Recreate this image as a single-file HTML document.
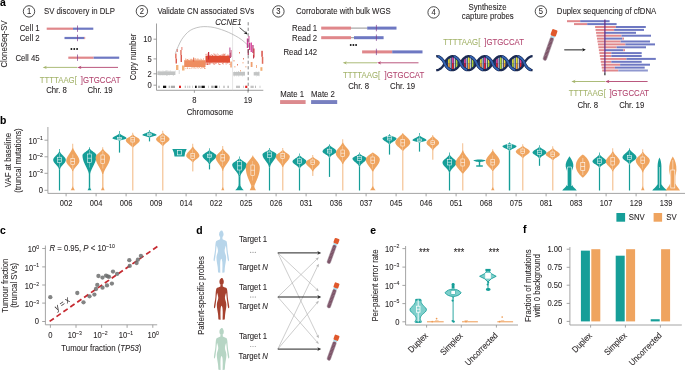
<!DOCTYPE html>
<html><head><meta charset="utf-8"><style>
html,body{margin:0;padding:0;background:#fff;}
svg{display:block;will-change:transform;}
text{font-family:"Liberation Sans",sans-serif;}
</style></head><body>
<svg width="685" height="370" viewBox="0 0 685 370">
<rect width="685" height="370" fill="#fff"/>
<text transform="translate(0.00,6.00) scale(1.0000,1)" font-size="10.40" fill="#000" stroke="#000" stroke-width="0.08" font-weight="bold">a</text>
<text transform="translate(7.20,44.00) rotate(-90) scale(0.8850,1)" font-size="8.81" text-anchor="middle" fill="#231F20" stroke="#231F20" stroke-width="0.08">CloneSeq-SV</text>
<circle cx="29.00" cy="11.40" r="5.7" fill="none" stroke="#111" stroke-width="0.75"/>
<text transform="translate(29.00,14.10) scale(0.8850,1)" font-size="8.59" text-anchor="middle" fill="#231F20" stroke="#231F20" stroke-width="0.08">1</text>
<text transform="translate(44.00,14.30) scale(0.8850,1)" font-size="8.81" fill="#231F20" stroke="#231F20" stroke-width="0.08">SV discovery in DLP</text>
<text transform="translate(39.60,31.20) scale(0.8850,1)" font-size="8.81" text-anchor="end" fill="#231F20" stroke="#231F20" stroke-width="0.08">Cell 1</text>
<text transform="translate(39.60,40.60) scale(0.8850,1)" font-size="8.81" text-anchor="end" fill="#231F20" stroke="#231F20" stroke-width="0.08">Cell 2</text>
<text transform="translate(39.60,60.60) scale(0.8850,1)" font-size="8.81" text-anchor="end" fill="#231F20" stroke="#231F20" stroke-width="0.08">Cell 45</text>
<rect x="46.70" y="27.60" width="26.30" height="2.20" fill="#E0878B"/>
<rect x="73.00" y="27.60" width="20.30" height="2.20" fill="#6E78C2"/>
<rect x="64.50" y="36.90" width="19.80" height="2.20" fill="#6E78C2"/>
<rect x="84.30" y="36.90" width="0.90" height="2.20" fill="#E0878B"/>
<rect x="68.30" y="56.60" width="25.30" height="2.20" fill="#E0878B"/>
<rect x="93.60" y="56.60" width="25.60" height="2.20" fill="#6E78C2"/>
<line x1="77.50" y1="25.50" x2="77.50" y2="31.90" stroke="#7B3C8C" stroke-width="0.7"/>
<line x1="77.50" y1="34.80" x2="77.50" y2="41.20" stroke="#7B3C8C" stroke-width="0.7"/>
<line x1="77.50" y1="54.50" x2="77.50" y2="60.90" stroke="#7B3C8C" stroke-width="0.7"/>
<circle cx="71.40" cy="49.00" r="0.95" fill="#111" stroke="none" stroke-width="1"/>
<circle cx="74.25" cy="49.00" r="0.95" fill="#111" stroke="none" stroke-width="1"/>
<circle cx="77.10" cy="49.00" r="0.95" fill="#111" stroke="none" stroke-width="1"/>
<line x1="45.22" y1="67.40" x2="77.30" y2="67.40" stroke="#A3B36A" stroke-width="0.9"/>
<path d="M42.70,67.40 L46.90,65.75 L45.64,67.40 L46.90,69.05 Z" fill="#A3B36A"/>
<line x1="79.82" y1="67.40" x2="118.00" y2="67.40" stroke="#B2456F" stroke-width="0.9"/>
<path d="M77.30,67.40 L81.50,65.75 L80.24,67.40 L81.50,69.05 Z" fill="#B2456F"/>
<text transform="translate(39.80,82.50) scale(0.8850,1)" font-size="8.81" fill="#A3B36A" stroke="#A3B36A" stroke-width="0.08">TTTTAAG[</text>
<text transform="translate(80.80,82.50) scale(0.8850,1)" font-size="8.81" fill="#B2456F" stroke="#B2456F" stroke-width="0.08">]GTGCCAT</text>
<text transform="translate(56.50,93.00) scale(0.8850,1)" font-size="8.81" text-anchor="middle" fill="#231F20" stroke="#231F20" stroke-width="0.08">Chr. 8</text>
<text transform="translate(100.00,93.00) scale(0.8850,1)" font-size="8.81" text-anchor="middle" fill="#231F20" stroke="#231F20" stroke-width="0.08">Chr. 19</text>
<circle cx="141.90" cy="11.20" r="5.7" fill="none" stroke="#111" stroke-width="0.75"/>
<text transform="translate(141.90,13.90) scale(0.8850,1)" font-size="8.59" text-anchor="middle" fill="#231F20" stroke="#231F20" stroke-width="0.08">2</text>
<text transform="translate(157.40,14.20) scale(0.8850,1)" font-size="8.81" fill="#231F20" stroke="#231F20" stroke-width="0.08">Validate CN associated SVs</text>
<text transform="translate(136.30,57.00) rotate(-90) scale(0.8850,1)" font-size="8.81" text-anchor="middle" fill="#231F20" stroke="#231F20" stroke-width="0.08">Copy number</text>
<line x1="156.50" y1="23.50" x2="156.50" y2="90.30" stroke="#888" stroke-width="0.8"/>
<line x1="156.50" y1="90.30" x2="263.30" y2="90.30" stroke="#888" stroke-width="0.8"/>
<line x1="153.50" y1="39.20" x2="156.50" y2="39.20" stroke="#888" stroke-width="0.8"/>
<text transform="translate(151.70,41.90) scale(0.8850,1)" font-size="8.59" text-anchor="end" fill="#231F20" stroke="#231F20" stroke-width="0.08">10</text>
<line x1="153.50" y1="58.90" x2="156.50" y2="58.90" stroke="#888" stroke-width="0.8"/>
<text transform="translate(151.70,61.60) scale(0.8850,1)" font-size="8.59" text-anchor="end" fill="#231F20" stroke="#231F20" stroke-width="0.08">5</text>
<line x1="153.50" y1="73.80" x2="156.50" y2="73.80" stroke="#888" stroke-width="0.8"/>
<text transform="translate(151.70,76.50) scale(0.8850,1)" font-size="8.59" text-anchor="end" fill="#231F20" stroke="#231F20" stroke-width="0.08">2</text>
<line x1="153.50" y1="85.20" x2="156.50" y2="85.20" stroke="#888" stroke-width="0.8"/>
<text transform="translate(151.70,87.90) scale(0.8850,1)" font-size="8.59" text-anchor="end" fill="#231F20" stroke="#231F20" stroke-width="0.08">0</text>
<line x1="194.40" y1="90.30" x2="194.40" y2="92.80" stroke="#888" stroke-width="0.8"/>
<text transform="translate(194.40,103.10) scale(0.8850,1)" font-size="8.59" text-anchor="middle" fill="#231F20" stroke="#231F20" stroke-width="0.08">8</text>
<line x1="248.00" y1="90.30" x2="248.00" y2="92.80" stroke="#888" stroke-width="0.8"/>
<text transform="translate(248.00,103.10) scale(0.8850,1)" font-size="8.59" text-anchor="middle" fill="#231F20" stroke="#231F20" stroke-width="0.08">19</text>
<text transform="translate(210.00,114.90) scale(0.8850,1)" font-size="8.81" text-anchor="middle" fill="#231F20" stroke="#231F20" stroke-width="0.08">Chromosome</text>
<line x1="232.60" y1="26.00" x2="232.60" y2="90.30" stroke="#d4d4d4" stroke-width="0.6"/>
<rect x="157.40" y="71.40" width="18.00" height="3.60" fill="#c2c4c4" opacity="1.0"/>
<rect x="163.23" y="70.72" width="0.60" height="0.80" fill="#c2c4c4" opacity="0.80"/>
<rect x="158.27" y="70.74" width="0.60" height="0.80" fill="#c2c4c4" opacity="0.80"/>
<rect x="158.44" y="70.97" width="0.60" height="0.80" fill="#c2c4c4" opacity="0.80"/>
<rect x="165.21" y="70.83" width="0.60" height="0.80" fill="#c2c4c4" opacity="0.80"/>
<rect x="167.32" y="70.42" width="0.60" height="0.80" fill="#c2c4c4" opacity="0.80"/>
<rect x="159.63" y="70.56" width="0.60" height="0.80" fill="#c2c4c4" opacity="0.80"/>
<rect x="167.89" y="70.60" width="0.60" height="0.80" fill="#c2c4c4" opacity="0.80"/>
<rect x="164.54" y="70.97" width="0.60" height="0.80" fill="#c2c4c4" opacity="0.80"/>
<rect x="172.85" y="74.89" width="0.60" height="0.80" fill="#c2c4c4" opacity="0.80"/>
<rect x="167.13" y="74.99" width="0.60" height="0.80" fill="#c2c4c4" opacity="0.80"/>
<rect x="169.68" y="70.59" width="0.60" height="0.80" fill="#c2c4c4" opacity="0.80"/>
<rect x="168.90" y="74.67" width="0.60" height="0.80" fill="#c2c4c4" opacity="0.80"/>
<rect x="170.22" y="70.57" width="0.60" height="0.80" fill="#c2c4c4" opacity="0.80"/>
<rect x="166.34" y="75.14" width="0.60" height="0.80" fill="#c2c4c4" opacity="0.80"/>
<rect x="165.78" y="74.85" width="0.60" height="0.80" fill="#c2c4c4" opacity="0.80"/>
<rect x="161.87" y="70.51" width="0.60" height="0.80" fill="#c2c4c4" opacity="0.80"/>
<rect x="161.79" y="74.97" width="0.60" height="0.80" fill="#c2c4c4" opacity="0.80"/>
<rect x="173.15" y="74.80" width="0.60" height="0.80" fill="#c2c4c4" opacity="0.80"/>
<rect x="175.04" y="70.64" width="0.60" height="0.80" fill="#c2c4c4" opacity="0.80"/>
<rect x="160.37" y="74.71" width="0.60" height="0.80" fill="#c2c4c4" opacity="0.80"/>
<rect x="166.20" y="70.33" width="0.60" height="0.80" fill="#c2c4c4" opacity="0.80"/>
<rect x="158.80" y="74.84" width="0.60" height="0.80" fill="#c2c4c4" opacity="0.80"/>
<rect x="163.70" y="75.01" width="0.60" height="0.80" fill="#c2c4c4" opacity="0.80"/>
<rect x="165.61" y="70.34" width="0.60" height="0.80" fill="#c2c4c4" opacity="0.80"/>
<rect x="165.93" y="70.96" width="0.60" height="0.80" fill="#c2c4c4" opacity="0.80"/>
<rect x="175.20" y="53.50" width="1.30" height="5.00" fill="#e0604c"/>
<rect x="175.60" y="58.50" width="1.30" height="5.00" fill="#d94a3c"/>
<rect x="180.30" y="50.00" width="1.30" height="5.00" fill="#e06a55"/>
<rect x="180.60" y="55.00" width="1.30" height="7.00" fill="#d84a3c"/>
<rect x="176.60" y="49.00" width="1.30" height="3.00" fill="#e88a80"/>
<rect x="181.20" y="47.00" width="1.30" height="3.00" fill="#ec9a90"/>
<rect x="176.00" y="65.00" width="2.40" height="5.00" fill="#f3b27a"/>
<rect x="182.00" y="65.50" width="2.50" height="5.00" fill="#f3b27a"/>
<rect x="178.80" y="70.00" width="0.70" height="4.00" fill="#c8c8c8"/>
<rect x="184.20" y="60.20" width="21.30" height="6.80" fill="#EE8D60" opacity="1.0"/>
<rect x="199.14" y="67.03" width="0.60" height="0.80" fill="#EE8D60" opacity="0.80"/>
<rect x="192.42" y="66.63" width="0.60" height="0.80" fill="#EE8D60" opacity="0.80"/>
<rect x="194.03" y="58.88" width="0.60" height="0.80" fill="#EE8D60" opacity="0.80"/>
<rect x="194.72" y="58.65" width="0.60" height="0.80" fill="#EE8D60" opacity="0.80"/>
<rect x="186.95" y="59.20" width="0.60" height="0.80" fill="#EE8D60" opacity="0.80"/>
<rect x="203.73" y="66.72" width="0.60" height="0.80" fill="#EE8D60" opacity="0.80"/>
<rect x="193.77" y="67.93" width="0.60" height="0.80" fill="#EE8D60" opacity="0.80"/>
<rect x="201.65" y="67.66" width="0.60" height="0.80" fill="#EE8D60" opacity="0.80"/>
<rect x="205.21" y="68.04" width="0.60" height="0.80" fill="#EE8D60" opacity="0.80"/>
<rect x="187.41" y="59.57" width="0.60" height="0.80" fill="#EE8D60" opacity="0.80"/>
<rect x="198.23" y="59.07" width="0.60" height="0.80" fill="#EE8D60" opacity="0.80"/>
<rect x="196.75" y="67.02" width="0.60" height="0.80" fill="#EE8D60" opacity="0.80"/>
<rect x="187.30" y="67.51" width="0.60" height="0.80" fill="#EE8D60" opacity="0.80"/>
<rect x="190.99" y="58.76" width="0.60" height="0.80" fill="#EE8D60" opacity="0.80"/>
<rect x="195.18" y="59.12" width="0.60" height="0.80" fill="#EE8D60" opacity="0.80"/>
<rect x="202.75" y="67.20" width="0.60" height="0.80" fill="#EE8D60" opacity="0.80"/>
<rect x="192.59" y="67.55" width="0.60" height="0.80" fill="#EE8D60" opacity="0.80"/>
<rect x="185.53" y="58.32" width="0.60" height="0.80" fill="#EE8D60" opacity="0.80"/>
<rect x="193.59" y="59.29" width="0.60" height="0.80" fill="#EE8D60" opacity="0.80"/>
<rect x="185.32" y="58.95" width="0.60" height="0.80" fill="#EE8D60" opacity="0.80"/>
<rect x="195.63" y="67.52" width="0.60" height="0.80" fill="#EE8D60" opacity="0.80"/>
<rect x="185.70" y="58.88" width="0.60" height="0.80" fill="#EE8D60" opacity="0.80"/>
<rect x="187.36" y="68.03" width="0.60" height="0.80" fill="#EE8D60" opacity="0.80"/>
<rect x="197.03" y="66.78" width="0.60" height="0.80" fill="#EE8D60" opacity="0.80"/>
<rect x="202.28" y="67.32" width="0.60" height="0.80" fill="#EE8D60" opacity="0.80"/>
<rect x="190.84" y="59.65" width="0.60" height="0.80" fill="#EE8D60" opacity="0.80"/>
<rect x="191.50" y="67.32" width="0.60" height="0.80" fill="#EE8D60" opacity="0.80"/>
<rect x="198.94" y="59.49" width="0.60" height="0.80" fill="#EE8D60" opacity="0.80"/>
<rect x="204.48" y="66.82" width="0.60" height="0.80" fill="#EE8D60" opacity="0.80"/>
<rect x="195.77" y="58.66" width="0.60" height="0.80" fill="#EE8D60" opacity="0.80"/>
<rect x="190.55" y="58.76" width="0.60" height="0.80" fill="#EE8D60" opacity="0.80"/>
<rect x="189.76" y="67.96" width="0.60" height="0.80" fill="#EE8D60" opacity="0.80"/>
<rect x="191.78" y="59.00" width="0.60" height="0.80" fill="#EE8D60" opacity="0.80"/>
<rect x="200.79" y="67.55" width="0.60" height="0.80" fill="#EE8D60" opacity="0.80"/>
<rect x="197.26" y="58.59" width="0.60" height="0.80" fill="#EE8D60" opacity="0.80"/>
<rect x="201.63" y="59.50" width="0.60" height="0.80" fill="#EE8D60" opacity="0.80"/>
<rect x="194.70" y="58.32" width="0.60" height="0.80" fill="#EE8D60" opacity="0.80"/>
<rect x="201.03" y="66.99" width="0.60" height="0.80" fill="#EE8D60" opacity="0.80"/>
<rect x="198.95" y="67.27" width="0.60" height="0.80" fill="#EE8D60" opacity="0.80"/>
<rect x="204.16" y="68.03" width="0.60" height="0.80" fill="#EE8D60" opacity="0.80"/>
<rect x="191.97" y="59.65" width="0.60" height="0.80" fill="#EE8D60" opacity="0.80"/>
<rect x="194.21" y="66.91" width="0.60" height="0.80" fill="#EE8D60" opacity="0.80"/>
<rect x="197.49" y="59.08" width="0.60" height="0.80" fill="#EE8D60" opacity="0.80"/>
<rect x="198.11" y="58.55" width="0.60" height="0.80" fill="#EE8D60" opacity="0.80"/>
<rect x="186.75" y="67.77" width="0.60" height="0.80" fill="#EE8D60" opacity="0.80"/>
<rect x="200.18" y="67.93" width="0.60" height="0.80" fill="#EE8D60" opacity="0.80"/>
<rect x="193.44" y="66.73" width="0.60" height="0.80" fill="#EE8D60" opacity="0.80"/>
<rect x="204.35" y="67.29" width="0.60" height="0.80" fill="#EE8D60" opacity="0.80"/>
<rect x="200.03" y="58.71" width="0.60" height="0.80" fill="#EE8D60" opacity="0.80"/>
<rect x="187.82" y="59.76" width="0.60" height="0.80" fill="#EE8D60" opacity="0.80"/>
<rect x="196.78" y="67.81" width="0.60" height="0.80" fill="#EE8D60" opacity="0.80"/>
<rect x="187.31" y="67.59" width="0.60" height="0.80" fill="#EE8D60" opacity="0.80"/>
<rect x="191.66" y="59.77" width="0.60" height="0.80" fill="#EE8D60" opacity="0.80"/>
<rect x="201.23" y="59.01" width="0.60" height="0.80" fill="#EE8D60" opacity="0.80"/>
<rect x="204.09" y="68.08" width="0.60" height="0.80" fill="#EE8D60" opacity="0.80"/>
<rect x="188.35" y="59.76" width="0.60" height="0.80" fill="#EE8D60" opacity="0.80"/>
<rect x="188.73" y="58.65" width="0.60" height="0.80" fill="#EE8D60" opacity="0.80"/>
<rect x="191.14" y="67.85" width="0.60" height="0.80" fill="#EE8D60" opacity="0.80"/>
<rect x="185.50" y="67.95" width="0.60" height="0.80" fill="#EE8D60" opacity="0.80"/>
<rect x="198.31" y="67.84" width="0.60" height="0.80" fill="#EE8D60" opacity="0.80"/>
<rect x="202.90" y="59.00" width="0.60" height="0.80" fill="#EE8D60" opacity="0.80"/>
<rect x="195.35" y="58.49" width="0.60" height="0.80" fill="#EE8D60" opacity="0.80"/>
<rect x="200.74" y="58.64" width="0.60" height="0.80" fill="#EE8D60" opacity="0.80"/>
<rect x="187.39" y="59.09" width="0.60" height="0.80" fill="#EE8D60" opacity="0.80"/>
<rect x="199.65" y="59.31" width="0.60" height="0.80" fill="#EE8D60" opacity="0.80"/>
<rect x="195.24" y="67.78" width="0.60" height="0.80" fill="#EE8D60" opacity="0.80"/>
<rect x="186.46" y="59.43" width="0.60" height="0.80" fill="#EE8D60" opacity="0.80"/>
<rect x="190.10" y="59.04" width="0.60" height="0.80" fill="#EE8D60" opacity="0.80"/>
<rect x="196.16" y="59.14" width="0.60" height="0.80" fill="#EE8D60" opacity="0.80"/>
<rect x="197.25" y="58.76" width="0.60" height="0.80" fill="#EE8D60" opacity="0.80"/>
<rect x="193.83" y="67.36" width="0.60" height="0.80" fill="#EE8D60" opacity="0.80"/>
<rect x="189.48" y="67.98" width="0.60" height="0.80" fill="#EE8D60" opacity="0.80"/>
<rect x="203.22" y="58.54" width="0.60" height="0.80" fill="#EE8D60" opacity="0.80"/>
<rect x="187.12" y="59.21" width="0.60" height="0.80" fill="#EE8D60" opacity="0.80"/>
<rect x="190.93" y="59.16" width="0.60" height="0.80" fill="#EE8D60" opacity="0.80"/>
<rect x="188.73" y="67.78" width="0.60" height="0.80" fill="#EE8D60" opacity="0.80"/>
<rect x="203.31" y="58.39" width="0.60" height="0.80" fill="#EE8D60" opacity="0.80"/>
<rect x="197.91" y="66.81" width="0.60" height="0.80" fill="#EE8D60" opacity="0.80"/>
<rect x="203.00" y="66.93" width="0.60" height="0.80" fill="#EE8D60" opacity="0.80"/>
<rect x="204.49" y="67.93" width="0.60" height="0.80" fill="#EE8D60" opacity="0.80"/>
<rect x="205.50" y="55.70" width="24.50" height="7.00" fill="#E04E34" opacity="1.0"/>
<rect x="209.49" y="55.01" width="0.60" height="0.80" fill="#E04E34" opacity="0.80"/>
<rect x="216.07" y="62.91" width="0.60" height="0.80" fill="#E04E34" opacity="0.80"/>
<rect x="210.30" y="62.47" width="0.60" height="0.80" fill="#E04E34" opacity="0.80"/>
<rect x="214.47" y="63.30" width="0.60" height="0.80" fill="#E04E34" opacity="0.80"/>
<rect x="216.29" y="54.61" width="0.60" height="0.80" fill="#E04E34" opacity="0.80"/>
<rect x="218.18" y="63.22" width="0.60" height="0.80" fill="#E04E34" opacity="0.80"/>
<rect x="207.08" y="53.55" width="0.60" height="0.80" fill="#E04E34" opacity="0.80"/>
<rect x="208.07" y="62.79" width="0.60" height="0.80" fill="#E04E34" opacity="0.80"/>
<rect x="227.69" y="54.81" width="0.60" height="0.80" fill="#E04E34" opacity="0.80"/>
<rect x="208.67" y="63.83" width="0.60" height="0.80" fill="#E04E34" opacity="0.80"/>
<rect x="222.06" y="63.03" width="0.60" height="0.80" fill="#E04E34" opacity="0.80"/>
<rect x="218.65" y="63.56" width="0.60" height="0.80" fill="#E04E34" opacity="0.80"/>
<rect x="207.69" y="53.86" width="0.60" height="0.80" fill="#E04E34" opacity="0.80"/>
<rect x="209.99" y="54.82" width="0.60" height="0.80" fill="#E04E34" opacity="0.80"/>
<rect x="205.91" y="53.86" width="0.60" height="0.80" fill="#E04E34" opacity="0.80"/>
<rect x="207.55" y="55.18" width="0.60" height="0.80" fill="#E04E34" opacity="0.80"/>
<rect x="226.64" y="62.32" width="0.60" height="0.80" fill="#E04E34" opacity="0.80"/>
<rect x="229.86" y="63.97" width="0.60" height="0.80" fill="#E04E34" opacity="0.80"/>
<rect x="212.06" y="55.22" width="0.60" height="0.80" fill="#E04E34" opacity="0.80"/>
<rect x="222.88" y="53.56" width="0.60" height="0.80" fill="#E04E34" opacity="0.80"/>
<rect x="211.92" y="54.94" width="0.60" height="0.80" fill="#E04E34" opacity="0.80"/>
<rect x="213.14" y="63.26" width="0.60" height="0.80" fill="#E04E34" opacity="0.80"/>
<rect x="210.54" y="63.20" width="0.60" height="0.80" fill="#E04E34" opacity="0.80"/>
<rect x="209.86" y="63.75" width="0.60" height="0.80" fill="#E04E34" opacity="0.80"/>
<rect x="229.87" y="55.27" width="0.60" height="0.80" fill="#E04E34" opacity="0.80"/>
<rect x="223.46" y="54.37" width="0.60" height="0.80" fill="#E04E34" opacity="0.80"/>
<rect x="211.52" y="62.49" width="0.60" height="0.80" fill="#E04E34" opacity="0.80"/>
<rect x="225.56" y="63.48" width="0.60" height="0.80" fill="#E04E34" opacity="0.80"/>
<rect x="218.87" y="64.05" width="0.60" height="0.80" fill="#E04E34" opacity="0.80"/>
<rect x="213.04" y="53.53" width="0.60" height="0.80" fill="#E04E34" opacity="0.80"/>
<rect x="213.90" y="54.57" width="0.60" height="0.80" fill="#E04E34" opacity="0.80"/>
<rect x="214.02" y="53.79" width="0.60" height="0.80" fill="#E04E34" opacity="0.80"/>
<rect x="205.85" y="63.08" width="0.60" height="0.80" fill="#E04E34" opacity="0.80"/>
<rect x="206.86" y="63.87" width="0.60" height="0.80" fill="#E04E34" opacity="0.80"/>
<rect x="221.93" y="63.38" width="0.60" height="0.80" fill="#E04E34" opacity="0.80"/>
<rect x="222.47" y="54.47" width="0.60" height="0.80" fill="#E04E34" opacity="0.80"/>
<rect x="209.36" y="62.31" width="0.60" height="0.80" fill="#E04E34" opacity="0.80"/>
<rect x="214.42" y="64.05" width="0.60" height="0.80" fill="#E04E34" opacity="0.80"/>
<rect x="218.90" y="55.24" width="0.60" height="0.80" fill="#E04E34" opacity="0.80"/>
<rect x="227.12" y="54.66" width="0.60" height="0.80" fill="#E04E34" opacity="0.80"/>
<rect x="205.53" y="62.45" width="0.60" height="0.80" fill="#E04E34" opacity="0.80"/>
<rect x="212.33" y="54.85" width="0.60" height="0.80" fill="#E04E34" opacity="0.80"/>
<rect x="224.52" y="54.82" width="0.60" height="0.80" fill="#E04E34" opacity="0.80"/>
<rect x="207.70" y="63.36" width="0.60" height="0.80" fill="#E04E34" opacity="0.80"/>
<rect x="215.15" y="62.85" width="0.60" height="0.80" fill="#E04E34" opacity="0.80"/>
<rect x="211.20" y="54.12" width="0.60" height="0.80" fill="#E04E34" opacity="0.80"/>
<rect x="223.04" y="63.68" width="0.60" height="0.80" fill="#E04E34" opacity="0.80"/>
<rect x="223.16" y="62.57" width="0.60" height="0.80" fill="#E04E34" opacity="0.80"/>
<rect x="223.24" y="55.22" width="0.60" height="0.80" fill="#E04E34" opacity="0.80"/>
<rect x="225.96" y="63.62" width="0.60" height="0.80" fill="#E04E34" opacity="0.80"/>
<rect x="225.40" y="53.66" width="0.60" height="0.80" fill="#E04E34" opacity="0.80"/>
<rect x="223.95" y="53.81" width="0.60" height="0.80" fill="#E04E34" opacity="0.80"/>
<rect x="219.81" y="55.15" width="0.60" height="0.80" fill="#E04E34" opacity="0.80"/>
<rect x="206.53" y="64.03" width="0.60" height="0.80" fill="#E04E34" opacity="0.80"/>
<rect x="214.73" y="63.31" width="0.60" height="0.80" fill="#E04E34" opacity="0.80"/>
<rect x="220.88" y="54.42" width="0.60" height="0.80" fill="#E04E34" opacity="0.80"/>
<rect x="205.58" y="53.95" width="0.60" height="0.80" fill="#E04E34" opacity="0.80"/>
<rect x="217.82" y="54.11" width="0.60" height="0.80" fill="#E04E34" opacity="0.80"/>
<rect x="207.12" y="62.75" width="0.60" height="0.80" fill="#E04E34" opacity="0.80"/>
<rect x="207.32" y="62.72" width="0.60" height="0.80" fill="#E04E34" opacity="0.80"/>
<rect x="224.03" y="53.97" width="0.60" height="0.80" fill="#E04E34" opacity="0.80"/>
<rect x="229.41" y="63.82" width="0.60" height="0.80" fill="#E04E34" opacity="0.80"/>
<rect x="207.38" y="63.68" width="0.60" height="0.80" fill="#E04E34" opacity="0.80"/>
<rect x="220.62" y="55.16" width="0.60" height="0.80" fill="#E04E34" opacity="0.80"/>
<rect x="209.11" y="63.47" width="0.60" height="0.80" fill="#E04E34" opacity="0.80"/>
<rect x="222.48" y="55.28" width="0.60" height="0.80" fill="#E04E34" opacity="0.80"/>
<rect x="206.99" y="64.05" width="0.60" height="0.80" fill="#E04E34" opacity="0.80"/>
<rect x="207.94" y="54.08" width="0.60" height="0.80" fill="#E04E34" opacity="0.80"/>
<rect x="212.63" y="63.14" width="0.60" height="0.80" fill="#E04E34" opacity="0.80"/>
<rect x="216.93" y="53.51" width="0.60" height="0.80" fill="#E04E34" opacity="0.80"/>
<rect x="218.95" y="64.06" width="0.60" height="0.80" fill="#E04E34" opacity="0.80"/>
<rect x="228.44" y="54.78" width="0.60" height="0.80" fill="#E04E34" opacity="0.80"/>
<rect x="207.37" y="64.09" width="0.60" height="0.80" fill="#E04E34" opacity="0.80"/>
<rect x="214.98" y="55.17" width="0.60" height="0.80" fill="#E04E34" opacity="0.80"/>
<rect x="207.71" y="64.01" width="0.60" height="0.80" fill="#E04E34" opacity="0.80"/>
<rect x="208.75" y="63.90" width="0.60" height="0.80" fill="#E04E34" opacity="0.80"/>
<rect x="222.73" y="54.40" width="0.60" height="0.80" fill="#E04E34" opacity="0.80"/>
<rect x="226.97" y="62.34" width="0.60" height="0.80" fill="#E04E34" opacity="0.80"/>
<rect x="205.59" y="63.53" width="0.60" height="0.80" fill="#E04E34" opacity="0.80"/>
<rect x="215.43" y="54.55" width="0.60" height="0.80" fill="#E04E34" opacity="0.80"/>
<rect x="214.71" y="53.79" width="0.60" height="0.80" fill="#E04E34" opacity="0.80"/>
<rect x="205.54" y="63.81" width="0.60" height="0.80" fill="#E04E34" opacity="0.80"/>
<rect x="208.44" y="54.02" width="0.60" height="0.80" fill="#E04E34" opacity="0.80"/>
<rect x="227.59" y="62.76" width="0.60" height="0.80" fill="#E04E34" opacity="0.80"/>
<rect x="207.09" y="64.10" width="0.60" height="0.80" fill="#E04E34" opacity="0.80"/>
<rect x="219.93" y="63.97" width="0.60" height="0.80" fill="#E04E34" opacity="0.80"/>
<rect x="224.01" y="54.79" width="0.60" height="0.80" fill="#E04E34" opacity="0.80"/>
<rect x="206.76" y="63.44" width="0.60" height="0.80" fill="#E04E34" opacity="0.80"/>
<rect x="209.15" y="63.09" width="0.60" height="0.80" fill="#E04E34" opacity="0.80"/>
<rect x="213.23" y="63.71" width="0.60" height="0.80" fill="#E04E34" opacity="0.80"/>
<rect x="208.00" y="52.00" width="1.20" height="7.50" fill="#c42a3a"/>
<rect x="193.20" y="57.50" width="0.90" height="4.00" fill="#e0603e"/>
<rect x="229.20" y="47.50" width="1.30" height="5.00" fill="#c870a8"/>
<rect x="229.40" y="52.50" width="1.60" height="5.50" fill="#b84a78"/>
<rect x="230.60" y="50.00" width="1.00" height="7.00" fill="#d06a8a"/>
<rect x="230.30" y="61.50" width="1.50" height="6.00" fill="#f2a070"/>
<rect x="233.60" y="60.00" width="0.80" height="1.50" fill="#e8804e"/>
<rect x="234.50" y="66.00" width="0.80" height="1.50" fill="#f0a070"/>
<rect x="237.00" y="64.00" width="0.80" height="1.50" fill="#e06040"/>
<rect x="240.00" y="70.00" width="0.80" height="1.50" fill="#f2a070"/>
<rect x="243.00" y="58.00" width="0.80" height="1.50" fill="#e06040"/>
<rect x="245.50" y="66.00" width="0.80" height="1.50" fill="#f0a070"/>
<rect x="239.00" y="52.00" width="0.80" height="1.50" fill="#e05a40"/>
<rect x="242.60" y="62.00" width="0.80" height="1.50" fill="#f2a070"/>
<rect x="233.20" y="72.00" width="11.80" height="3.60" fill="#c2c4c4" opacity="1.0"/>
<rect x="238.25" y="71.11" width="0.60" height="0.80" fill="#c2c4c4" opacity="0.80"/>
<rect x="240.64" y="71.17" width="0.60" height="0.80" fill="#c2c4c4" opacity="0.80"/>
<rect x="233.78" y="75.47" width="0.60" height="0.80" fill="#c2c4c4" opacity="0.80"/>
<rect x="242.08" y="75.49" width="0.60" height="0.80" fill="#c2c4c4" opacity="0.80"/>
<rect x="243.96" y="71.50" width="0.60" height="0.80" fill="#c2c4c4" opacity="0.80"/>
<rect x="238.10" y="75.38" width="0.60" height="0.80" fill="#c2c4c4" opacity="0.80"/>
<rect x="241.92" y="75.44" width="0.60" height="0.80" fill="#c2c4c4" opacity="0.80"/>
<rect x="236.02" y="75.53" width="0.60" height="0.80" fill="#c2c4c4" opacity="0.80"/>
<rect x="237.85" y="71.21" width="0.60" height="0.80" fill="#c2c4c4" opacity="0.80"/>
<rect x="234.09" y="75.53" width="0.60" height="0.80" fill="#c2c4c4" opacity="0.80"/>
<rect x="238.55" y="75.80" width="0.60" height="0.80" fill="#c2c4c4" opacity="0.80"/>
<rect x="238.51" y="71.27" width="0.60" height="0.80" fill="#c2c4c4" opacity="0.80"/>
<rect x="236.08" y="71.39" width="0.60" height="0.80" fill="#c2c4c4" opacity="0.80"/>
<rect x="234.27" y="71.38" width="0.60" height="0.80" fill="#c2c4c4" opacity="0.80"/>
<rect x="242.75" y="71.07" width="0.60" height="0.80" fill="#c2c4c4" opacity="0.80"/>
<rect x="253.70" y="72.10" width="5.80" height="3.40" fill="#c2c4c4" opacity="1.0"/>
<rect x="258.05" y="75.33" width="0.60" height="0.80" fill="#c2c4c4" opacity="0.80"/>
<rect x="258.03" y="71.47" width="0.60" height="0.80" fill="#c2c4c4" opacity="0.80"/>
<rect x="255.66" y="71.40" width="0.60" height="0.80" fill="#c2c4c4" opacity="0.80"/>
<rect x="257.03" y="75.18" width="0.60" height="0.80" fill="#c2c4c4" opacity="0.80"/>
<rect x="256.62" y="71.64" width="0.60" height="0.80" fill="#c2c4c4" opacity="0.80"/>
<rect x="258.90" y="75.34" width="0.60" height="0.80" fill="#c2c4c4" opacity="0.80"/>
<rect x="256.29" y="75.61" width="0.60" height="0.80" fill="#c2c4c4" opacity="0.80"/>
<rect x="258.76" y="71.62" width="0.60" height="0.80" fill="#c2c4c4" opacity="0.80"/>
<rect x="246.80" y="38.50" width="1.30" height="9.50" fill="#d2409a"/>
<rect x="248.30" y="36.00" width="1.30" height="8.00" fill="#e070b0"/>
<rect x="249.00" y="43.00" width="1.30" height="7.00" fill="#c83a8a"/>
<rect x="250.60" y="42.50" width="1.30" height="9.50" fill="#d83c9a"/>
<rect x="252.30" y="45.00" width="1.30" height="8.00" fill="#b8407a"/>
<rect x="247.60" y="49.00" width="1.30" height="6.00" fill="#a84060"/>
<rect x="250.70" y="62.00" width="1.80" height="5.00" fill="#f0a070"/>
<rect x="253.00" y="55.00" width="1.00" height="3.50" fill="#c0405a"/>
<rect x="261.30" y="50.80" width="1.50" height="6.00" fill="#d85048"/>
<rect x="261.80" y="56.80" width="1.50" height="7.00" fill="#e06a5a"/>
<rect x="253.30" y="48.50" width="1.20" height="9.00" fill="#c8303a"/>
<rect x="260.40" y="67.20" width="2.00" height="3.60" fill="#f2ae72"/>
<rect x="256.00" y="65.00" width="0.80" height="3.00" fill="#f0a070"/>
<path d="M175.30,53.50 C175.78,52.33 177.13,48.83 178.20,46.50 C179.27,44.17 180.15,41.83 181.70,39.50 C183.25,37.17 185.55,34.28 187.50,32.50 C189.45,30.72 191.25,29.73 193.40,28.80 C195.55,27.87 198.07,27.25 200.40,26.90 C202.73,26.55 205.07,26.58 207.40,26.70 C209.73,26.82 212.07,27.12 214.40,27.60 C216.73,28.08 219.07,28.82 221.40,29.60 C223.73,30.38 226.07,31.27 228.40,32.30 C230.73,33.33 233.25,34.60 235.40,35.80 C237.55,37.00 239.35,38.07 241.30,39.50 C243.25,40.93 246.13,43.58 247.10,44.40" fill="none" stroke="#a0a0a0" stroke-width="0.65"/>
<line x1="248.2" y1="22.2" x2="248.2" y2="92" stroke="#555" stroke-width="0.7" stroke-dasharray="3.2,2.3"/>
<line x1="239.60" y1="27.60" x2="245.57" y2="32.68" stroke="#111" stroke-width="0.75"/>
<path d="M247.60,34.40 L243.60,33.23 L245.57,32.68 L245.81,30.64 Z" fill="#111"/>
<text transform="translate(241.60,25.00) scale(0.8850,1)" font-size="8.81" text-anchor="end" fill="#231F20" stroke="#231F20" stroke-width="0.08" font-style="italic">CCNE1</text>
<rect x="158.20" y="85.70" width="1.60" height="2.30" fill="#b4b4b4"/>
<rect x="163.00" y="85.70" width="3.20" height="2.30" fill="#111"/>
<rect x="168.60" y="85.70" width="1.60" height="2.30" fill="#bbb"/>
<rect x="171.00" y="85.70" width="4.00" height="2.30" fill="#aaa"/>
<rect x="179.00" y="85.70" width="2.00" height="2.30" fill="#e02020"/>
<rect x="184.70" y="85.70" width="1.30" height="2.30" fill="#c4c4c4"/>
<rect x="187.30" y="85.70" width="1.00" height="2.30" fill="#c4c4c4"/>
<rect x="189.20" y="85.70" width="1.10" height="2.30" fill="#c4c4c4"/>
<rect x="192.00" y="85.70" width="0.80" height="2.30" fill="#c4c4c4"/>
<rect x="195.00" y="85.70" width="1.70" height="2.30" fill="#111"/>
<rect x="198.00" y="85.70" width="2.70" height="2.30" fill="#999"/>
<rect x="201.50" y="85.70" width="3.30" height="2.30" fill="#111"/>
<rect x="208.00" y="85.70" width="0.80" height="2.30" fill="#c4c4c4"/>
<rect x="211.20" y="85.70" width="2.40" height="2.30" fill="#aaa"/>
<rect x="214.70" y="85.70" width="2.60" height="2.30" fill="#111"/>
<rect x="219.20" y="85.70" width="0.80" height="2.30" fill="#c4c4c4"/>
<rect x="223.20" y="85.70" width="1.60" height="2.30" fill="#c4c4c4"/>
<rect x="227.60" y="85.70" width="1.00" height="2.30" fill="#999"/>
<rect x="236.00" y="85.70" width="4.00" height="2.30" fill="#c4c4c4"/>
<rect x="243.00" y="85.70" width="0.80" height="2.30" fill="#c4c4c4"/>
<rect x="245.20" y="85.70" width="2.10" height="2.30" fill="#e02020"/>
<rect x="250.50" y="85.70" width="3.20" height="2.30" fill="#c4c4c4"/>
<rect x="255.00" y="85.70" width="1.00" height="2.30" fill="#bbb"/>
<rect x="259.60" y="85.70" width="0.80" height="2.30" fill="#c4c4c4"/>
<circle cx="278.40" cy="11.40" r="5.7" fill="none" stroke="#111" stroke-width="0.75"/>
<text transform="translate(278.40,14.10) scale(0.8850,1)" font-size="8.59" text-anchor="middle" fill="#231F20" stroke="#231F20" stroke-width="0.08">3</text>
<text transform="translate(296.00,14.30) scale(0.8850,1)" font-size="8.81" fill="#231F20" stroke="#231F20" stroke-width="0.08">Corroborate with bulk WGS</text>
<text transform="translate(317.20,31.00) scale(0.8850,1)" font-size="8.81" text-anchor="end" fill="#231F20" stroke="#231F20" stroke-width="0.08">Read 1</text>
<text transform="translate(317.20,40.80) scale(0.8850,1)" font-size="8.81" text-anchor="end" fill="#231F20" stroke="#231F20" stroke-width="0.08">Read 2</text>
<text transform="translate(317.20,55.30) scale(0.8850,1)" font-size="8.81" text-anchor="end" fill="#231F20" stroke="#231F20" stroke-width="0.08">Read 142</text>
<rect x="321.20" y="26.60" width="29.80" height="3.00" fill="#E0878B"/>
<line x1="351.00" y1="28.10" x2="367.20" y2="28.10" stroke="#777" stroke-width="0.8"/>
<rect x="367.20" y="26.60" width="29.30" height="3.00" fill="#6E78C2"/>
<rect x="321.20" y="36.20" width="29.80" height="3.00" fill="#E0878B"/>
<line x1="351.00" y1="37.70" x2="354.00" y2="37.70" stroke="#777" stroke-width="0.8"/>
<rect x="354.00" y="36.20" width="29.60" height="3.00" fill="#6E78C2"/>
<rect x="362.10" y="50.40" width="30.10" height="3.00" fill="#E0878B"/>
<rect x="392.20" y="50.40" width="30.30" height="3.00" fill="#6E78C2"/>
<line x1="376.40" y1="24.90" x2="376.40" y2="31.30" stroke="#7B3C8C" stroke-width="0.7"/>
<line x1="376.40" y1="34.50" x2="376.40" y2="40.90" stroke="#7B3C8C" stroke-width="0.7"/>
<line x1="376.40" y1="48.70" x2="376.40" y2="55.10" stroke="#7B3C8C" stroke-width="0.7"/>
<circle cx="350.70" cy="45.00" r="0.95" fill="#111" stroke="none" stroke-width="1"/>
<circle cx="353.40" cy="45.00" r="0.95" fill="#111" stroke="none" stroke-width="1"/>
<circle cx="356.10" cy="45.00" r="0.95" fill="#111" stroke="none" stroke-width="1"/>
<line x1="345.22" y1="62.80" x2="377.00" y2="62.80" stroke="#A3B36A" stroke-width="0.9"/>
<path d="M342.70,62.80 L346.90,61.15 L345.64,62.80 L346.90,64.45 Z" fill="#A3B36A"/>
<line x1="379.52" y1="62.80" x2="418.50" y2="62.80" stroke="#B2456F" stroke-width="0.9"/>
<path d="M377.00,62.80 L381.20,61.15 L379.94,62.80 L381.20,64.45 Z" fill="#B2456F"/>
<text transform="translate(343.10,77.70) scale(0.8850,1)" font-size="8.81" fill="#A3B36A" stroke="#A3B36A" stroke-width="0.08">TTTTAAG[</text>
<text transform="translate(384.60,77.70) scale(0.8850,1)" font-size="8.81" fill="#B2456F" stroke="#B2456F" stroke-width="0.08">]GTGCCAT</text>
<text transform="translate(358.60,89.30) scale(0.8850,1)" font-size="8.81" text-anchor="middle" fill="#231F20" stroke="#231F20" stroke-width="0.08">Chr. 8</text>
<text transform="translate(402.60,89.30) scale(0.8850,1)" font-size="8.81" text-anchor="middle" fill="#231F20" stroke="#231F20" stroke-width="0.08">Chr. 19</text>
<text transform="translate(280.30,96.60) scale(0.8850,1)" font-size="8.81" fill="#231F20" stroke="#231F20" stroke-width="0.08">Mate 1</text>
<text transform="translate(311.10,96.60) scale(0.8850,1)" font-size="8.81" fill="#231F20" stroke="#231F20" stroke-width="0.08">Mate 2</text>
<rect x="280.10" y="100.10" width="25.50" height="3.90" fill="#DC8A8E"/>
<rect x="311.10" y="100.10" width="26.10" height="3.90" fill="#7880C0"/>
<circle cx="433.60" cy="12.40" r="5.7" fill="none" stroke="#111" stroke-width="0.75"/>
<text transform="translate(433.60,15.10) scale(0.8850,1)" font-size="8.59" text-anchor="middle" fill="#231F20" stroke="#231F20" stroke-width="0.08">4</text>
<text transform="translate(487.50,9.70) scale(0.8850,1)" font-size="8.81" text-anchor="middle" fill="#231F20" stroke="#231F20" stroke-width="0.08">Synthesize</text>
<text transform="translate(487.80,18.50) scale(0.8850,1)" font-size="8.81" text-anchor="middle" fill="#231F20" stroke="#231F20" stroke-width="0.08">capture probes</text>
<text transform="translate(443.30,44.80) scale(0.8850,1)" font-size="8.81" fill="#A3B36A" stroke="#A3B36A" stroke-width="0.08">TTTTAAG[</text>
<text transform="translate(484.30,44.80) scale(0.8850,1)" font-size="8.81" fill="#B2456F" stroke="#B2456F" stroke-width="0.08">]GTGCCAT</text>
<path d="M444.50,63.20 L444.90,64.24 L445.30,64.94 L445.70,65.55 L446.10,66.10 L446.50,66.61 L446.90,67.07 L447.30,67.50 L447.70,67.90 L448.10,68.26 L448.50,68.60 L448.90,68.90 L449.30,69.17 L449.70,69.41 L450.10,69.62 L450.50,69.80 L450.90,69.94 L451.30,70.05 L451.70,70.14 L452.10,70.18 L452.50,70.20 L452.90,70.18 L453.30,70.14 L453.70,70.05 L454.10,69.94 L454.50,69.80 L454.90,69.62 L455.30,69.41 L455.70,69.17 L456.10,68.90 L456.50,68.60 L456.90,68.26 L457.30,67.90 L457.70,67.50 L458.10,67.07 L458.50,66.61 L458.90,66.10 L459.30,65.55 L459.70,64.94 L460.10,64.24 L460.50,63.20 L460.50,63.20 L460.10,62.16 L459.70,61.46 L459.30,60.85 L458.90,60.30 L458.50,59.79 L458.10,59.33 L457.70,58.90 L457.30,58.50 L456.90,58.14 L456.50,57.80 L456.10,57.50 L455.70,57.23 L455.30,56.99 L454.90,56.78 L454.50,56.60 L454.10,56.46 L453.70,56.35 L453.30,56.26 L452.90,56.22 L452.50,56.20 L452.10,56.22 L451.70,56.26 L451.30,56.35 L450.90,56.46 L450.50,56.60 L450.10,56.78 L449.70,56.99 L449.30,57.23 L448.90,57.50 L448.50,57.80 L448.10,58.14 L447.70,58.50 L447.30,58.90 L446.90,59.33 L446.50,59.79 L446.10,60.30 L445.70,60.85 L445.30,61.46 L444.90,62.16 L444.50,63.20 Z" fill="#223A6E"/>
<path d="M460.50,63.20 L460.90,62.16 L461.30,61.46 L461.70,60.85 L462.10,60.30 L462.50,59.79 L462.90,59.33 L463.30,58.90 L463.70,58.50 L464.10,58.14 L464.50,57.80 L464.90,57.50 L465.30,57.23 L465.70,56.99 L466.10,56.78 L466.50,56.60 L466.90,56.46 L467.30,56.35 L467.70,56.26 L468.10,56.22 L468.50,56.20 L468.90,56.22 L469.30,56.26 L469.70,56.35 L470.10,56.46 L470.50,56.60 L470.90,56.78 L471.30,56.99 L471.70,57.23 L472.10,57.50 L472.50,57.80 L472.90,58.14 L473.30,58.50 L473.70,58.90 L474.10,59.33 L474.50,59.79 L474.90,60.30 L475.30,60.85 L475.70,61.46 L476.10,62.16 L476.50,63.20 L476.50,63.20 L476.10,64.24 L475.70,64.94 L475.30,65.55 L474.90,66.10 L474.50,66.61 L474.10,67.07 L473.70,67.50 L473.30,67.90 L472.90,68.26 L472.50,68.60 L472.10,68.90 L471.70,69.17 L471.30,69.41 L470.90,69.62 L470.50,69.80 L470.10,69.94 L469.70,70.05 L469.30,70.14 L468.90,70.18 L468.50,70.20 L468.10,70.18 L467.70,70.14 L467.30,70.05 L466.90,69.94 L466.50,69.80 L466.10,69.62 L465.70,69.41 L465.30,69.17 L464.90,68.90 L464.50,68.60 L464.10,68.26 L463.70,67.90 L463.30,67.50 L462.90,67.07 L462.50,66.61 L462.10,66.10 L461.70,65.55 L461.30,64.94 L460.90,64.24 L460.50,63.20 Z" fill="#223A6E"/>
<path d="M476.50,63.20 L476.90,64.24 L477.30,64.94 L477.70,65.55 L478.10,66.10 L478.50,66.61 L478.90,67.07 L479.30,67.50 L479.70,67.90 L480.10,68.26 L480.50,68.60 L480.90,68.90 L481.30,69.17 L481.70,69.41 L482.10,69.62 L482.50,69.80 L482.90,69.94 L483.30,70.05 L483.70,70.14 L484.10,70.18 L484.50,70.20 L484.90,70.18 L485.30,70.14 L485.70,70.05 L486.10,69.94 L486.50,69.80 L486.90,69.62 L487.30,69.41 L487.70,69.17 L488.10,68.90 L488.50,68.60 L488.90,68.26 L489.30,67.90 L489.70,67.50 L490.10,67.07 L490.50,66.61 L490.90,66.10 L491.30,65.55 L491.70,64.94 L492.10,64.24 L492.50,63.20 L492.50,63.20 L492.10,62.16 L491.70,61.46 L491.30,60.85 L490.90,60.30 L490.50,59.79 L490.10,59.33 L489.70,58.90 L489.30,58.50 L488.90,58.14 L488.50,57.80 L488.10,57.50 L487.70,57.23 L487.30,56.99 L486.90,56.78 L486.50,56.60 L486.10,56.46 L485.70,56.35 L485.30,56.26 L484.90,56.22 L484.50,56.20 L484.10,56.22 L483.70,56.26 L483.30,56.35 L482.90,56.46 L482.50,56.60 L482.10,56.78 L481.70,56.99 L481.30,57.23 L480.90,57.50 L480.50,57.80 L480.10,58.14 L479.70,58.50 L479.30,58.90 L478.90,59.33 L478.50,59.79 L478.10,60.30 L477.70,60.85 L477.30,61.46 L476.90,62.16 L476.50,63.20 Z" fill="#223A6E"/>
<path d="M492.50,63.20 L492.90,62.16 L493.30,61.46 L493.70,60.85 L494.10,60.30 L494.50,59.79 L494.90,59.33 L495.30,58.90 L495.70,58.50 L496.10,58.14 L496.50,57.80 L496.90,57.50 L497.30,57.23 L497.70,56.99 L498.10,56.78 L498.50,56.60 L498.90,56.46 L499.30,56.35 L499.70,56.26 L500.10,56.22 L500.50,56.20 L500.90,56.22 L501.30,56.26 L501.70,56.35 L502.10,56.46 L502.50,56.60 L502.90,56.78 L503.30,56.99 L503.70,57.23 L504.10,57.50 L504.50,57.80 L504.90,58.14 L505.30,58.50 L505.70,58.90 L506.10,59.33 L506.50,59.79 L506.90,60.30 L507.30,60.85 L507.70,61.46 L508.10,62.16 L508.50,63.20 L508.50,63.20 L508.10,64.24 L507.70,64.94 L507.30,65.55 L506.90,66.10 L506.50,66.61 L506.10,67.07 L505.70,67.50 L505.30,67.90 L504.90,68.26 L504.50,68.60 L504.10,68.90 L503.70,69.17 L503.30,69.41 L502.90,69.62 L502.50,69.80 L502.10,69.94 L501.70,70.05 L501.30,70.14 L500.90,70.18 L500.50,70.20 L500.10,70.18 L499.70,70.14 L499.30,70.05 L498.90,69.94 L498.50,69.80 L498.10,69.62 L497.70,69.41 L497.30,69.17 L496.90,68.90 L496.50,68.60 L496.10,68.26 L495.70,67.90 L495.30,67.50 L494.90,67.07 L494.50,66.61 L494.10,66.10 L493.70,65.55 L493.30,64.94 L492.90,64.24 L492.50,63.20 Z" fill="#223A6E"/>
<path d="M508.50,63.20 L508.90,64.24 L509.30,64.94 L509.70,65.55 L510.10,66.10 L510.50,66.61 L510.90,67.07 L511.30,67.50 L511.70,67.90 L512.10,68.26 L512.50,68.60 L512.90,68.90 L513.30,69.17 L513.70,69.41 L514.10,69.62 L514.50,69.80 L514.90,69.94 L515.30,70.05 L515.70,70.14 L516.10,70.18 L516.50,70.20 L516.90,70.18 L517.30,70.14 L517.70,70.05 L518.10,69.94 L518.50,69.80 L518.90,69.62 L519.30,69.41 L519.70,69.17 L520.10,68.90 L520.50,68.60 L520.90,68.26 L521.30,67.90 L521.70,67.50 L522.10,67.07 L522.50,66.61 L522.90,66.10 L523.30,65.55 L523.70,64.94 L524.10,64.24 L524.50,63.20 L524.50,63.20 L524.10,62.16 L523.70,61.46 L523.30,60.85 L522.90,60.30 L522.50,59.79 L522.10,59.33 L521.70,58.90 L521.30,58.50 L520.90,58.14 L520.50,57.80 L520.10,57.50 L519.70,57.23 L519.30,56.99 L518.90,56.78 L518.50,56.60 L518.10,56.46 L517.70,56.35 L517.30,56.26 L516.90,56.22 L516.50,56.20 L516.10,56.22 L515.70,56.26 L515.30,56.35 L514.90,56.46 L514.50,56.60 L514.10,56.78 L513.70,56.99 L513.30,57.23 L512.90,57.50 L512.50,57.80 L512.10,58.14 L511.70,58.50 L511.30,58.90 L510.90,59.33 L510.50,59.79 L510.10,60.30 L509.70,60.85 L509.30,61.46 L508.90,62.16 L508.50,63.20 Z" fill="#223A6E"/>
<rect x="448.10" y="58.50" width="1.60" height="4.70" fill="#E6E236"/>
<rect x="448.10" y="63.20" width="1.60" height="4.70" fill="#F2A22E"/>
<rect x="450.35" y="57.49" width="0.90" height="5.71" fill="#e2e2e2"/>
<rect x="450.35" y="63.20" width="0.90" height="5.71" fill="#e2e2e2"/>
<rect x="452.00" y="57.21" width="1.60" height="5.99" fill="#E0419A"/>
<rect x="452.00" y="63.20" width="1.60" height="5.99" fill="#E3222E"/>
<rect x="454.15" y="57.64" width="0.90" height="5.56" fill="#e2e2e2"/>
<rect x="454.15" y="63.20" width="0.90" height="5.56" fill="#e2e2e2"/>
<rect x="455.80" y="58.88" width="1.60" height="4.32" fill="#B3D236"/>
<rect x="455.80" y="63.20" width="1.60" height="4.32" fill="#B3D236"/>
<rect x="464.10" y="58.50" width="1.60" height="4.70" fill="#E0419A"/>
<rect x="464.10" y="63.20" width="1.60" height="4.70" fill="#C02030"/>
<rect x="466.35" y="57.49" width="0.90" height="5.71" fill="#e2e2e2"/>
<rect x="466.35" y="63.20" width="0.90" height="5.71" fill="#e2e2e2"/>
<rect x="468.00" y="57.21" width="1.60" height="5.99" fill="#E6E236"/>
<rect x="468.00" y="63.20" width="1.60" height="5.99" fill="#F2A22E"/>
<rect x="470.15" y="57.64" width="0.90" height="5.56" fill="#e2e2e2"/>
<rect x="470.15" y="63.20" width="0.90" height="5.56" fill="#e2e2e2"/>
<rect x="471.80" y="58.88" width="1.60" height="4.32" fill="#B3D236"/>
<rect x="471.80" y="63.20" width="1.60" height="4.32" fill="#B3D236"/>
<rect x="480.10" y="58.50" width="1.60" height="4.70" fill="#E6E236"/>
<rect x="480.10" y="63.20" width="1.60" height="4.70" fill="#F2A22E"/>
<rect x="482.35" y="57.49" width="0.90" height="5.71" fill="#e2e2e2"/>
<rect x="482.35" y="63.20" width="0.90" height="5.71" fill="#e2e2e2"/>
<rect x="484.00" y="57.21" width="1.60" height="5.99" fill="#E0419A"/>
<rect x="484.00" y="63.20" width="1.60" height="5.99" fill="#E3222E"/>
<rect x="486.15" y="57.64" width="0.90" height="5.56" fill="#e2e2e2"/>
<rect x="486.15" y="63.20" width="0.90" height="5.56" fill="#e2e2e2"/>
<rect x="487.80" y="58.88" width="1.60" height="4.32" fill="#E6E236"/>
<rect x="487.80" y="63.20" width="1.60" height="4.32" fill="#B3D236"/>
<rect x="496.10" y="58.50" width="1.60" height="4.70" fill="#E0419A"/>
<rect x="496.10" y="63.20" width="1.60" height="4.70" fill="#E3222E"/>
<rect x="498.35" y="57.49" width="0.90" height="5.71" fill="#e2e2e2"/>
<rect x="498.35" y="63.20" width="0.90" height="5.71" fill="#e2e2e2"/>
<rect x="500.00" y="57.21" width="1.60" height="5.99" fill="#B3D236"/>
<rect x="500.00" y="63.20" width="1.60" height="5.99" fill="#B3D236"/>
<rect x="502.15" y="57.64" width="0.90" height="5.56" fill="#e2e2e2"/>
<rect x="502.15" y="63.20" width="0.90" height="5.56" fill="#e2e2e2"/>
<rect x="503.80" y="58.88" width="1.60" height="4.32" fill="#E6E236"/>
<rect x="503.80" y="63.20" width="1.60" height="4.32" fill="#F2A22E"/>
<rect x="512.10" y="58.50" width="1.60" height="4.70" fill="#E6E236"/>
<rect x="512.10" y="63.20" width="1.60" height="4.70" fill="#B3D236"/>
<rect x="514.35" y="57.49" width="0.90" height="5.71" fill="#e2e2e2"/>
<rect x="514.35" y="63.20" width="0.90" height="5.71" fill="#e2e2e2"/>
<rect x="516.00" y="57.21" width="1.60" height="5.99" fill="#E6E236"/>
<rect x="516.00" y="63.20" width="1.60" height="5.99" fill="#F2A22E"/>
<rect x="518.15" y="57.64" width="0.90" height="5.56" fill="#e2e2e2"/>
<rect x="518.15" y="63.20" width="0.90" height="5.56" fill="#e2e2e2"/>
<rect x="519.80" y="58.88" width="1.60" height="4.32" fill="#E0419A"/>
<rect x="519.80" y="63.20" width="1.60" height="4.32" fill="#E3222E"/>
<polyline points="436.20,56.21 436.60,56.20 437.00,56.23 437.40,56.28 437.81,56.37 438.21,56.49 438.61,56.65 439.01,56.84 439.41,57.05 439.81,57.30 440.22,57.58 440.62,57.90 441.02,58.24 441.42,58.62 441.82,59.03 442.22,59.47 442.63,59.95 443.03,60.47 443.43,61.04 443.83,61.68 444.23,62.43 444.63,63.66 445.04,64.49 445.44,65.16 445.84,65.75 446.24,66.28 446.64,66.78 447.05,67.23 447.45,67.65 447.85,68.04 448.25,68.39 448.65,68.72 449.05,69.01 449.45,69.27 449.86,69.50 450.26,69.69 450.66,69.86 451.06,69.99 451.46,70.09 451.87,70.16 452.27,70.19 452.67,70.20 453.07,70.17 453.47,70.10 453.87,70.01 454.27,69.88 454.68,69.72 455.08,69.53 455.48,69.31 455.88,69.05 456.28,68.77 456.69,68.45 457.09,68.10 457.49,67.72 457.89,67.30 458.29,66.85 458.69,66.37 459.09,65.84 459.50,65.26 459.90,64.61 460.30,63.82 460.70,62.58 461.10,61.79 461.50,61.14 461.91,60.56 462.31,60.03 462.71,59.55 463.11,59.10 463.51,58.68 463.92,58.30 464.32,57.95 464.72,57.63 465.12,57.35 465.52,57.09 465.92,56.87 466.32,56.68 466.73,56.52 467.13,56.39 467.53,56.30 467.93,56.23 468.33,56.20 468.74,56.21 469.14,56.24 469.54,56.31 469.94,56.41 470.34,56.54 470.74,56.71 471.14,56.90 471.55,57.13 471.95,57.39 472.35,57.69 472.75,58.01 473.15,58.36 473.56,58.75 473.96,59.17 474.36,59.62 474.76,60.12 475.16,60.65 475.56,61.24 475.97,61.91 476.37,62.74 476.77,63.97 477.17,64.73 477.57,65.36 477.97,65.93 478.38,66.45 478.78,66.93 479.18,67.37 479.58,67.78 479.98,68.16 480.38,68.50 480.79,68.82 481.19,69.10 481.59,69.35 481.99,69.57 482.39,69.75 482.79,69.91 483.19,70.03 483.60,70.12 484.00,70.17 484.40,70.20 484.80,70.19 485.20,70.15 485.61,70.08 486.01,69.97 486.41,69.83 486.81,69.66 487.21,69.46 487.61,69.23 488.01,68.96 488.42,68.66 488.82,68.33 489.22,67.97 489.62,67.58 490.02,67.16 490.43,66.70 490.83,66.20 491.23,65.65 491.63,65.05 492.03,64.37 492.43,63.47 492.84,62.29 493.24,61.56 493.64,60.94 494.04,60.38 494.44,59.87 494.84,59.39 495.25,58.96 495.65,58.55 496.05,58.18 496.45,57.84 496.85,57.53 497.25,57.26 497.66,57.01 498.06,56.80 498.46,56.62 498.86,56.47 499.26,56.36 499.66,56.27 500.06,56.22 500.47,56.20 500.87,56.21 501.27,56.26 501.67,56.34 502.07,56.45 502.48,56.59 502.88,56.77 503.28,56.98 503.68,57.22 504.08,57.49 504.48,57.79 504.88,58.12 505.29,58.49 505.69,58.89 506.09,59.32 506.49,59.78 506.89,60.29 507.30,60.84 507.70,61.45 508.10,62.16 508.50,63.20 508.90,64.24 509.30,64.95 509.71,65.56 510.11,66.11 510.51,66.62 510.91,67.08 511.31,67.51 511.71,67.91 512.12,68.28 512.52,68.61 512.92,68.91 513.32,69.18 513.72,69.42 514.12,69.63 514.52,69.81 514.93,69.95 515.33,70.06 515.73,70.14 516.13,70.19 516.53,70.20 516.94,70.18 517.34,70.13 517.74,70.04 518.14,69.93 518.54,69.78 518.94,69.60 519.35,69.39 519.75,69.14 520.15,68.87 520.55,68.56 520.95,68.22 521.35,67.85 521.75,67.44 522.16,67.01 522.56,66.53 522.96,66.02 523.36,65.46 523.76,64.84 524.16,64.11 524.57,62.93 524.97,62.03 525.37,61.35 525.77,60.75 526.17,60.20 526.58,59.70 526.98,59.24 527.38,58.82 527.78,58.43 528.18,58.07 528.58,57.74 528.99,57.44 529.39,57.17 529.79,56.94 530.19,56.74 530.59,56.57 530.99,56.43 531.39,56.32 531.80,56.25 532.20,56.21 532.60,56.20" fill="none" stroke="#1B2A52" stroke-width="2.3"/>
<polyline points="436.20,70.19 436.60,70.20 437.00,70.17 437.40,70.12 437.81,70.03 438.21,69.91 438.61,69.75 439.01,69.56 439.41,69.35 439.81,69.10 440.22,68.82 440.62,68.50 441.02,68.16 441.42,67.78 441.82,67.37 442.22,66.93 442.63,66.45 443.03,65.93 443.43,65.36 443.83,64.72 444.23,63.97 444.63,62.74 445.04,61.91 445.44,61.24 445.84,60.65 446.24,60.12 446.64,59.62 447.05,59.17 447.45,58.75 447.85,58.36 448.25,58.01 448.65,57.68 449.05,57.39 449.45,57.13 449.86,56.90 450.26,56.71 450.66,56.54 451.06,56.41 451.46,56.31 451.87,56.24 452.27,56.21 452.67,56.20 453.07,56.23 453.47,56.30 453.87,56.39 454.27,56.52 454.68,56.68 455.08,56.87 455.48,57.09 455.88,57.35 456.28,57.63 456.69,57.95 457.09,58.30 457.49,58.68 457.89,59.10 458.29,59.55 458.69,60.03 459.09,60.56 459.50,61.14 459.90,61.79 460.30,62.58 460.70,63.82 461.10,64.61 461.50,65.26 461.91,65.84 462.31,66.37 462.71,66.85 463.11,67.30 463.51,67.72 463.92,68.10 464.32,68.45 464.72,68.77 465.12,69.05 465.52,69.31 465.92,69.53 466.32,69.72 466.73,69.88 467.13,70.01 467.53,70.10 467.93,70.17 468.33,70.20 468.74,70.19 469.14,70.16 469.54,70.09 469.94,69.99 470.34,69.86 470.74,69.69 471.14,69.50 471.55,69.27 471.95,69.01 472.35,68.71 472.75,68.39 473.15,68.04 473.56,67.65 473.96,67.23 474.36,66.78 474.76,66.28 475.16,65.75 475.56,65.16 475.97,64.49 476.37,63.66 476.77,62.43 477.17,61.67 477.57,61.04 477.97,60.47 478.38,59.95 478.78,59.47 479.18,59.03 479.58,58.62 479.98,58.24 480.38,57.90 480.79,57.58 481.19,57.30 481.59,57.05 481.99,56.83 482.39,56.65 482.79,56.49 483.19,56.37 483.60,56.28 484.00,56.23 484.40,56.20 484.80,56.21 485.20,56.25 485.61,56.32 486.01,56.43 486.41,56.57 486.81,56.74 487.21,56.94 487.61,57.17 488.01,57.44 488.42,57.74 488.82,58.07 489.22,58.43 489.62,58.82 490.02,59.24 490.43,59.70 490.83,60.20 491.23,60.75 491.63,61.35 492.03,62.03 492.43,62.93 492.84,64.11 493.24,64.84 493.64,65.46 494.04,66.02 494.44,66.53 494.84,67.01 495.25,67.44 495.65,67.85 496.05,68.22 496.45,68.56 496.85,68.87 497.25,69.14 497.66,69.39 498.06,69.60 498.46,69.78 498.86,69.93 499.26,70.04 499.66,70.13 500.06,70.18 500.47,70.20 500.87,70.19 501.27,70.14 501.67,70.06 502.07,69.95 502.48,69.81 502.88,69.63 503.28,69.42 503.68,69.18 504.08,68.91 504.48,68.61 504.88,68.28 505.29,67.91 505.69,67.51 506.09,67.08 506.49,66.62 506.89,66.11 507.30,65.56 507.70,64.95 508.10,64.24 508.50,63.20 508.90,62.16 509.30,61.45 509.71,60.84 510.11,60.29 510.51,59.78 510.91,59.32 511.31,58.89 511.71,58.49 512.12,58.12 512.52,57.79 512.92,57.49 513.32,57.22 513.72,56.98 514.12,56.77 514.52,56.59 514.93,56.45 515.33,56.34 515.73,56.26 516.13,56.21 516.53,56.20 516.94,56.22 517.34,56.27 517.74,56.36 518.14,56.47 518.54,56.62 518.94,56.80 519.35,57.01 519.75,57.26 520.15,57.53 520.55,57.84 520.95,58.18 521.35,58.55 521.75,58.96 522.16,59.39 522.56,59.87 522.96,60.38 523.36,60.94 523.76,61.56 524.16,62.29 524.57,63.47 524.97,64.37 525.37,65.05 525.77,65.65 526.17,66.20 526.58,66.70 526.98,67.16 527.38,67.58 527.78,67.97 528.18,68.33 528.58,68.66 528.99,68.96 529.39,69.23 529.79,69.46 530.19,69.66 530.59,69.83 530.99,69.97 531.39,70.08 531.80,70.15 532.20,70.19 532.60,70.20" fill="none" stroke="#1B2A52" stroke-width="2.3"/>
<polyline points="438.00,56.43 438.43,56.58 438.87,56.76 439.30,56.99 439.73,57.25 440.17,57.55 440.60,57.88 441.03,58.25 441.47,58.66 441.90,59.11 442.33,59.60 442.77,60.13 443.20,60.71 443.63,61.35 444.07,62.10 444.50,63.20 444.93,64.30 445.37,65.05 445.80,65.69 446.23,66.27 446.67,66.80 447.10,67.29 447.53,67.74 447.97,68.15 448.40,68.52 448.83,68.85 449.27,69.15 449.70,69.41 450.13,69.64 450.57,69.82 451.00,69.97" fill="none" stroke="#1B2A52" stroke-width="3.0"/>
<polyline points="438.00,56.43 438.43,56.58 438.87,56.76 439.30,56.99 439.73,57.25 440.17,57.55 440.60,57.88 441.03,58.25 441.47,58.66 441.90,59.11 442.33,59.60 442.77,60.13 443.20,60.71 443.63,61.35 444.07,62.10 444.50,63.20 444.93,64.30 445.37,65.05 445.80,65.69 446.23,66.27 446.67,66.80 447.10,67.29 447.53,67.74 447.97,68.15 448.40,68.52 448.83,68.85 449.27,69.15 449.70,69.41 450.13,69.64 450.57,69.82 451.00,69.97" fill="none" stroke="#3363B2" stroke-width="1.9"/>
<polyline points="454.00,56.43 454.43,56.58 454.87,56.76 455.30,56.99 455.73,57.25 456.17,57.55 456.60,57.88 457.03,58.25 457.47,58.66 457.90,59.11 458.33,59.60 458.77,60.13 459.20,60.71 459.63,61.35 460.07,62.10 460.50,63.20 460.93,64.30 461.37,65.05 461.80,65.69 462.23,66.27 462.67,66.80 463.10,67.29 463.53,67.74 463.97,68.15 464.40,68.52 464.83,68.85 465.27,69.15 465.70,69.41 466.13,69.64 466.57,69.82 467.00,69.97" fill="none" stroke="#1B2A52" stroke-width="3.0"/>
<polyline points="454.00,56.43 454.43,56.58 454.87,56.76 455.30,56.99 455.73,57.25 456.17,57.55 456.60,57.88 457.03,58.25 457.47,58.66 457.90,59.11 458.33,59.60 458.77,60.13 459.20,60.71 459.63,61.35 460.07,62.10 460.50,63.20 460.93,64.30 461.37,65.05 461.80,65.69 462.23,66.27 462.67,66.80 463.10,67.29 463.53,67.74 463.97,68.15 464.40,68.52 464.83,68.85 465.27,69.15 465.70,69.41 466.13,69.64 466.57,69.82 467.00,69.97" fill="none" stroke="#3363B2" stroke-width="1.9"/>
<polyline points="470.00,56.43 470.43,56.58 470.87,56.76 471.30,56.99 471.73,57.25 472.17,57.55 472.60,57.88 473.03,58.25 473.47,58.66 473.90,59.11 474.33,59.60 474.77,60.13 475.20,60.71 475.63,61.35 476.07,62.10 476.50,63.20 476.93,64.30 477.37,65.05 477.80,65.69 478.23,66.27 478.67,66.80 479.10,67.29 479.53,67.74 479.97,68.15 480.40,68.52 480.83,68.85 481.27,69.15 481.70,69.41 482.13,69.64 482.57,69.82 483.00,69.97" fill="none" stroke="#1B2A52" stroke-width="3.0"/>
<polyline points="470.00,56.43 470.43,56.58 470.87,56.76 471.30,56.99 471.73,57.25 472.17,57.55 472.60,57.88 473.03,58.25 473.47,58.66 473.90,59.11 474.33,59.60 474.77,60.13 475.20,60.71 475.63,61.35 476.07,62.10 476.50,63.20 476.93,64.30 477.37,65.05 477.80,65.69 478.23,66.27 478.67,66.80 479.10,67.29 479.53,67.74 479.97,68.15 480.40,68.52 480.83,68.85 481.27,69.15 481.70,69.41 482.13,69.64 482.57,69.82 483.00,69.97" fill="none" stroke="#3363B2" stroke-width="1.9"/>
<polyline points="486.00,56.43 486.43,56.58 486.87,56.76 487.30,56.99 487.73,57.25 488.17,57.55 488.60,57.88 489.03,58.25 489.47,58.66 489.90,59.11 490.33,59.60 490.77,60.13 491.20,60.71 491.63,61.35 492.07,62.10 492.50,63.20 492.93,64.30 493.37,65.05 493.80,65.69 494.23,66.27 494.67,66.80 495.10,67.29 495.53,67.74 495.97,68.15 496.40,68.52 496.83,68.85 497.27,69.15 497.70,69.41 498.13,69.64 498.57,69.82 499.00,69.97" fill="none" stroke="#1B2A52" stroke-width="3.0"/>
<polyline points="486.00,56.43 486.43,56.58 486.87,56.76 487.30,56.99 487.73,57.25 488.17,57.55 488.60,57.88 489.03,58.25 489.47,58.66 489.90,59.11 490.33,59.60 490.77,60.13 491.20,60.71 491.63,61.35 492.07,62.10 492.50,63.20 492.93,64.30 493.37,65.05 493.80,65.69 494.23,66.27 494.67,66.80 495.10,67.29 495.53,67.74 495.97,68.15 496.40,68.52 496.83,68.85 497.27,69.15 497.70,69.41 498.13,69.64 498.57,69.82 499.00,69.97" fill="none" stroke="#3363B2" stroke-width="1.9"/>
<polyline points="502.00,56.43 502.43,56.58 502.87,56.76 503.30,56.99 503.73,57.25 504.17,57.55 504.60,57.88 505.03,58.25 505.47,58.66 505.90,59.11 506.33,59.60 506.77,60.13 507.20,60.71 507.63,61.35 508.07,62.10 508.50,63.20 508.93,64.30 509.37,65.05 509.80,65.69 510.23,66.27 510.67,66.80 511.10,67.29 511.53,67.74 511.97,68.15 512.40,68.52 512.83,68.85 513.27,69.15 513.70,69.41 514.13,69.64 514.57,69.82 515.00,69.97" fill="none" stroke="#1B2A52" stroke-width="3.0"/>
<polyline points="502.00,56.43 502.43,56.58 502.87,56.76 503.30,56.99 503.73,57.25 504.17,57.55 504.60,57.88 505.03,58.25 505.47,58.66 505.90,59.11 506.33,59.60 506.77,60.13 507.20,60.71 507.63,61.35 508.07,62.10 508.50,63.20 508.93,64.30 509.37,65.05 509.80,65.69 510.23,66.27 510.67,66.80 511.10,67.29 511.53,67.74 511.97,68.15 512.40,68.52 512.83,68.85 513.27,69.15 513.70,69.41 514.13,69.64 514.57,69.82 515.00,69.97" fill="none" stroke="#3363B2" stroke-width="1.9"/>
<polyline points="518.00,56.43 518.43,56.58 518.87,56.76 519.30,56.99 519.73,57.25 520.17,57.55 520.60,57.88 521.03,58.25 521.47,58.66 521.90,59.11 522.33,59.60 522.77,60.13 523.20,60.71 523.63,61.35 524.07,62.10 524.50,63.20 524.93,64.30 525.37,65.05 525.80,65.69 526.23,66.27 526.67,66.80 527.10,67.29 527.53,67.74 527.97,68.15 528.40,68.52 528.83,68.85 529.27,69.15 529.70,69.41 530.13,69.64 530.57,69.82 531.00,69.97" fill="none" stroke="#1B2A52" stroke-width="3.0"/>
<polyline points="518.00,56.43 518.43,56.58 518.87,56.76 519.30,56.99 519.73,57.25 520.17,57.55 520.60,57.88 521.03,58.25 521.47,58.66 521.90,59.11 522.33,59.60 522.77,60.13 523.20,60.71 523.63,61.35 524.07,62.10 524.50,63.20 524.93,64.30 525.37,65.05 525.80,65.69 526.23,66.27 526.67,66.80 527.10,67.29 527.53,67.74 527.97,68.15 528.40,68.52 528.83,68.85 529.27,69.15 529.70,69.41 530.13,69.64 530.57,69.82 531.00,69.97" fill="none" stroke="#3363B2" stroke-width="1.9"/>
<circle cx="540.90" cy="11.40" r="5.7" fill="none" stroke="#111" stroke-width="0.75"/>
<text transform="translate(540.90,14.10) scale(0.8850,1)" font-size="8.59" text-anchor="middle" fill="#231F20" stroke="#231F20" stroke-width="0.08">5</text>
<text transform="translate(556.80,14.30) scale(0.8850,1)" font-size="8.81" fill="#231F20" stroke="#231F20" stroke-width="0.08">Duplex sequencing of cfDNA</text>
<g transform="translate(544.30,60.30) rotate(19.5) scale(1.22)">
<rect x="-1.50" y="-19.8" width="3.00" height="19.8" rx="1.40" fill="#7D5468" stroke="#A596A2" stroke-width="0.45"/>
<path d="M-1.0,-3 L1.0,-6 M-1.0,-7 L1.0,-10 M-1.0,-11 L1.0,-14 M-1.0,-15 L1.0,-18" stroke="#9C7F8E" stroke-width="0.5"/>
<rect x="-1.70" y="-21.3" width="3.40" height="1.6" fill="#A9DCEE"/>
<rect x="-2.30" y="-26.6" width="4.60" height="5.4" rx="1.0" fill="#E0582C"/>
</g>
<line x1="564.40" y1="49.80" x2="583.64" y2="49.80" stroke="#111" stroke-width="0.9"/>
<path d="M585.80,49.80 L582.20,48.00 L583.28,49.80 L582.20,51.60 Z" fill="#111"/>
<line x1="564.40" y1="49.80" x2="582.00" y2="49.80" stroke="#777" stroke-width="0.9"/>
<rect x="567.00" y="20.20" width="13.20" height="2.00" fill="#E0878B"/>
<rect x="580.20" y="20.20" width="29.40" height="2.00" fill="#6E78C2"/>
<rect x="574.00" y="23.10" width="13.20" height="2.00" fill="#E0878B"/>
<rect x="587.20" y="23.10" width="29.40" height="2.00" fill="#6E78C2"/>
<rect x="595.10" y="26.00" width="20.80" height="2.00" fill="#E0878B"/>
<rect x="615.90" y="26.00" width="29.90" height="2.00" fill="#6E78C2"/>
<rect x="595.57" y="28.90" width="18.53" height="2.00" fill="#E0878B"/>
<rect x="614.10" y="28.90" width="29.90" height="2.00" fill="#6E78C2"/>
<rect x="596.05" y="31.80" width="8.45" height="2.00" fill="#E0878B"/>
<rect x="604.50" y="31.80" width="31.50" height="2.00" fill="#6E78C2"/>
<rect x="596.52" y="34.70" width="24.98" height="2.00" fill="#E0878B"/>
<rect x="621.50" y="34.70" width="29.50" height="2.00" fill="#6E78C2"/>
<rect x="596.99" y="37.60" width="7.51" height="2.00" fill="#E0878B"/>
<rect x="604.50" y="37.60" width="17.90" height="2.00" fill="#6E78C2"/>
<rect x="597.47" y="40.50" width="23.13" height="2.00" fill="#E0878B"/>
<rect x="620.60" y="40.50" width="29.40" height="2.00" fill="#6E78C2"/>
<rect x="597.94" y="43.40" width="27.46" height="2.00" fill="#E0878B"/>
<rect x="625.40" y="43.40" width="29.60" height="2.00" fill="#6E78C2"/>
<rect x="598.41" y="46.30" width="18.19" height="2.00" fill="#E0878B"/>
<rect x="616.60" y="46.30" width="29.40" height="2.00" fill="#6E78C2"/>
<rect x="598.89" y="49.20" width="5.61" height="2.00" fill="#E0878B"/>
<rect x="604.50" y="49.20" width="18.80" height="2.00" fill="#6E78C2"/>
<rect x="599.36" y="52.10" width="11.94" height="2.00" fill="#E0878B"/>
<rect x="611.30" y="52.10" width="30.40" height="2.00" fill="#6E78C2"/>
<rect x="599.83" y="55.00" width="11.47" height="2.00" fill="#E0878B"/>
<rect x="611.30" y="55.00" width="30.40" height="2.00" fill="#6E78C2"/>
<rect x="600.31" y="57.90" width="26.09" height="2.00" fill="#E0878B"/>
<rect x="626.40" y="57.90" width="29.40" height="2.00" fill="#6E78C2"/>
<rect x="600.78" y="60.80" width="10.52" height="2.00" fill="#E0878B"/>
<rect x="611.30" y="60.80" width="30.40" height="2.00" fill="#6E78C2"/>
<rect x="601.25" y="63.70" width="18.85" height="2.00" fill="#E0878B"/>
<rect x="620.10" y="63.70" width="29.90" height="2.00" fill="#6E78C2"/>
<rect x="601.73" y="66.60" width="13.07" height="2.00" fill="#E0878B"/>
<rect x="614.80" y="66.60" width="29.90" height="2.00" fill="#6E78C2"/>
<rect x="602.20" y="69.50" width="16.10" height="2.00" fill="#E0878B"/>
<rect x="618.30" y="69.50" width="29.60" height="2.00" fill="#8f98cf"/>
<rect x="622.40" y="37.60" width="1.60" height="2.00" fill="#E0878B"/>
<rect x="623.30" y="49.20" width="1.70" height="2.00" fill="#E0878B"/>
<line x1="604.90" y1="19.40" x2="604.90" y2="72.50" stroke="#64287C" stroke-width="1.2"/>
<line x1="604.90" y1="72.50" x2="604.90" y2="75.20" stroke="#111" stroke-width="1.1"/>
<line x1="573.92" y1="81.50" x2="605.30" y2="81.50" stroke="#A3B36A" stroke-width="0.9"/>
<path d="M571.40,81.50 L575.60,79.85 L574.34,81.50 L575.60,83.15 Z" fill="#A3B36A"/>
<line x1="607.82" y1="81.50" x2="647.60" y2="81.50" stroke="#B2456F" stroke-width="0.9"/>
<path d="M605.30,81.50 L609.50,79.85 L608.24,81.50 L609.50,83.15 Z" fill="#B2456F"/>
<text transform="translate(568.80,96.40) scale(0.8850,1)" font-size="8.81" fill="#A3B36A" stroke="#A3B36A" stroke-width="0.08">TTTTAAG[</text>
<text transform="translate(609.40,96.40) scale(0.8850,1)" font-size="8.81" fill="#B2456F" stroke="#B2456F" stroke-width="0.08">]GTGCCAT</text>
<text transform="translate(587.80,107.60) scale(0.8850,1)" font-size="8.81" text-anchor="middle" fill="#231F20" stroke="#231F20" stroke-width="0.08">Chr. 8</text>
<text transform="translate(631.70,107.60) scale(0.8850,1)" font-size="8.81" text-anchor="middle" fill="#231F20" stroke="#231F20" stroke-width="0.08">Chr. 19</text>
<text transform="translate(0.00,123.60) scale(1.0000,1)" font-size="10.40" fill="#000" stroke="#000" stroke-width="0.08" font-weight="bold">b</text>
<text transform="translate(11.20,160.00) rotate(-90) scale(0.8850,1)" font-size="8.81" text-anchor="middle" fill="#231F20" stroke="#231F20" stroke-width="0.08">VAF at baseline</text>
<text transform="translate(21.40,160.50) rotate(-90) scale(0.8850,1)" font-size="8.81" text-anchor="middle" fill="#231F20" stroke="#231F20" stroke-width="0.08">(truncal mutations)</text>
<line x1="47.90" y1="127.00" x2="47.90" y2="193.40" stroke="#9a9a9a" stroke-width="0.9"/>
<line x1="47.90" y1="193.40" x2="685.00" y2="193.40" stroke="#9a9a9a" stroke-width="0.9"/>
<line x1="44.50" y1="140.20" x2="47.90" y2="140.20" stroke="#9a9a9a" stroke-width="0.9"/>
<text transform="translate(42.90,143.60) scale(0.8850,1)" font-size="8.59" text-anchor="end" fill="#231F20" stroke="#231F20" stroke-width="0.08">10<tspan font-size="5.84" dy="-3.3">−1</tspan></text>
<line x1="44.50" y1="156.80" x2="47.90" y2="156.80" stroke="#9a9a9a" stroke-width="0.9"/>
<text transform="translate(42.90,160.20) scale(0.8850,1)" font-size="8.59" text-anchor="end" fill="#231F20" stroke="#231F20" stroke-width="0.08">10<tspan font-size="5.84" dy="-3.3">−2</tspan></text>
<line x1="44.50" y1="173.30" x2="47.90" y2="173.30" stroke="#9a9a9a" stroke-width="0.9"/>
<text transform="translate(42.90,176.70) scale(0.8850,1)" font-size="8.59" text-anchor="end" fill="#231F20" stroke="#231F20" stroke-width="0.08">10<tspan font-size="5.84" dy="-3.3">−3</tspan></text>
<line x1="44.50" y1="190.30" x2="47.90" y2="190.30" stroke="#9a9a9a" stroke-width="0.9"/>
<text transform="translate(42.90,193.40) scale(0.8850,1)" font-size="8.59" text-anchor="end" fill="#231F20" stroke="#231F20" stroke-width="0.08">0</text>
<line x1="66.10" y1="193.40" x2="66.10" y2="196.30" stroke="#9a9a9a" stroke-width="0.9"/>
<text transform="translate(66.10,206.40) scale(0.8850,1)" font-size="8.47" text-anchor="middle" fill="#231F20" stroke="#231F20" stroke-width="0.08">002</text>
<line x1="96.10" y1="193.40" x2="96.10" y2="196.30" stroke="#9a9a9a" stroke-width="0.9"/>
<text transform="translate(96.10,206.40) scale(0.8850,1)" font-size="8.47" text-anchor="middle" fill="#231F20" stroke="#231F20" stroke-width="0.08">004</text>
<line x1="126.10" y1="193.40" x2="126.10" y2="196.30" stroke="#9a9a9a" stroke-width="0.9"/>
<text transform="translate(126.10,206.40) scale(0.8850,1)" font-size="8.47" text-anchor="middle" fill="#231F20" stroke="#231F20" stroke-width="0.08">006</text>
<line x1="156.10" y1="193.40" x2="156.10" y2="196.30" stroke="#9a9a9a" stroke-width="0.9"/>
<text transform="translate(156.10,206.40) scale(0.8850,1)" font-size="8.47" text-anchor="middle" fill="#231F20" stroke="#231F20" stroke-width="0.08">009</text>
<line x1="186.10" y1="193.40" x2="186.10" y2="196.30" stroke="#9a9a9a" stroke-width="0.9"/>
<text transform="translate(186.10,206.40) scale(0.8850,1)" font-size="8.47" text-anchor="middle" fill="#231F20" stroke="#231F20" stroke-width="0.08">014</text>
<line x1="216.10" y1="193.40" x2="216.10" y2="196.30" stroke="#9a9a9a" stroke-width="0.9"/>
<text transform="translate(216.10,206.40) scale(0.8850,1)" font-size="8.47" text-anchor="middle" fill="#231F20" stroke="#231F20" stroke-width="0.08">022</text>
<line x1="246.10" y1="193.40" x2="246.10" y2="196.30" stroke="#9a9a9a" stroke-width="0.9"/>
<text transform="translate(246.10,206.40) scale(0.8850,1)" font-size="8.47" text-anchor="middle" fill="#231F20" stroke="#231F20" stroke-width="0.08">025</text>
<line x1="276.10" y1="193.40" x2="276.10" y2="196.30" stroke="#9a9a9a" stroke-width="0.9"/>
<text transform="translate(276.10,206.40) scale(0.8850,1)" font-size="8.47" text-anchor="middle" fill="#231F20" stroke="#231F20" stroke-width="0.08">026</text>
<line x1="306.10" y1="193.40" x2="306.10" y2="196.30" stroke="#9a9a9a" stroke-width="0.9"/>
<text transform="translate(306.10,206.40) scale(0.8850,1)" font-size="8.47" text-anchor="middle" fill="#231F20" stroke="#231F20" stroke-width="0.08">031</text>
<line x1="336.10" y1="193.40" x2="336.10" y2="196.30" stroke="#9a9a9a" stroke-width="0.9"/>
<text transform="translate(336.10,206.40) scale(0.8850,1)" font-size="8.47" text-anchor="middle" fill="#231F20" stroke="#231F20" stroke-width="0.08">036</text>
<line x1="366.10" y1="193.40" x2="366.10" y2="196.30" stroke="#9a9a9a" stroke-width="0.9"/>
<text transform="translate(366.10,206.40) scale(0.8850,1)" font-size="8.47" text-anchor="middle" fill="#231F20" stroke="#231F20" stroke-width="0.08">037</text>
<line x1="396.10" y1="193.40" x2="396.10" y2="196.30" stroke="#9a9a9a" stroke-width="0.9"/>
<text transform="translate(396.10,206.40) scale(0.8850,1)" font-size="8.47" text-anchor="middle" fill="#231F20" stroke="#231F20" stroke-width="0.08">045</text>
<line x1="426.10" y1="193.40" x2="426.10" y2="196.30" stroke="#9a9a9a" stroke-width="0.9"/>
<text transform="translate(426.10,206.40) scale(0.8850,1)" font-size="8.47" text-anchor="middle" fill="#231F20" stroke="#231F20" stroke-width="0.08">046</text>
<line x1="456.10" y1="193.40" x2="456.10" y2="196.30" stroke="#9a9a9a" stroke-width="0.9"/>
<text transform="translate(456.10,206.40) scale(0.8850,1)" font-size="8.47" text-anchor="middle" fill="#231F20" stroke="#231F20" stroke-width="0.08">051</text>
<line x1="486.10" y1="193.40" x2="486.10" y2="196.30" stroke="#9a9a9a" stroke-width="0.9"/>
<text transform="translate(486.10,206.40) scale(0.8850,1)" font-size="8.47" text-anchor="middle" fill="#231F20" stroke="#231F20" stroke-width="0.08">068</text>
<line x1="516.10" y1="193.40" x2="516.10" y2="196.30" stroke="#9a9a9a" stroke-width="0.9"/>
<text transform="translate(516.10,206.40) scale(0.8850,1)" font-size="8.47" text-anchor="middle" fill="#231F20" stroke="#231F20" stroke-width="0.08">075</text>
<line x1="546.10" y1="193.40" x2="546.10" y2="196.30" stroke="#9a9a9a" stroke-width="0.9"/>
<text transform="translate(546.10,206.40) scale(0.8850,1)" font-size="8.47" text-anchor="middle" fill="#231F20" stroke="#231F20" stroke-width="0.08">081</text>
<line x1="576.10" y1="193.40" x2="576.10" y2="196.30" stroke="#9a9a9a" stroke-width="0.9"/>
<text transform="translate(576.10,206.40) scale(0.8850,1)" font-size="8.47" text-anchor="middle" fill="#231F20" stroke="#231F20" stroke-width="0.08">083</text>
<line x1="606.10" y1="193.40" x2="606.10" y2="196.30" stroke="#9a9a9a" stroke-width="0.9"/>
<text transform="translate(606.10,206.40) scale(0.8850,1)" font-size="8.47" text-anchor="middle" fill="#231F20" stroke="#231F20" stroke-width="0.08">107</text>
<line x1="636.10" y1="193.40" x2="636.10" y2="196.30" stroke="#9a9a9a" stroke-width="0.9"/>
<text transform="translate(636.10,206.40) scale(0.8850,1)" font-size="8.47" text-anchor="middle" fill="#231F20" stroke="#231F20" stroke-width="0.08">129</text>
<line x1="666.10" y1="193.40" x2="666.10" y2="196.30" stroke="#9a9a9a" stroke-width="0.9"/>
<text transform="translate(666.10,206.40) scale(0.8850,1)" font-size="8.47" text-anchor="middle" fill="#231F20" stroke="#231F20" stroke-width="0.08">139</text>
<path d="M59.15,149.00 L59.15,149.39 L59.15,149.78 L59.15,150.17 L59.15,150.56 L59.15,150.95 L59.15,151.34 L59.07,151.72 L58.89,152.11 L58.68,152.50 L58.42,152.89 L58.14,153.28 L57.82,153.67 L57.48,154.06 L57.11,154.45 L56.73,154.84 L56.34,155.23 L55.94,155.62 L55.55,156.01 L55.16,156.40 L54.80,156.79 L54.45,157.18 L54.14,157.56 L53.87,157.95 L53.63,158.34 L53.45,158.73 L53.31,159.12 L53.23,159.51 L53.20,159.90 L53.22,160.24 L53.27,160.59 L53.36,160.93 L53.48,161.27 L53.64,161.61 L53.82,161.96 L54.03,162.30 L54.27,162.64 L54.53,162.99 L54.81,163.33 L55.11,163.67 L55.42,164.01 L55.73,164.36 L56.05,164.70 L56.37,165.04 L56.68,165.39 L56.99,165.73 L57.29,166.07 L57.57,166.41 L57.83,166.76 L58.07,167.10 L58.28,167.44 L58.46,167.79 L58.62,168.13 L58.74,168.47 L58.83,168.81 L58.88,169.16 L58.90,169.50 L60.10,169.50 L60.12,169.16 L60.17,168.81 L60.26,168.47 L60.38,168.13 L60.54,167.79 L60.72,167.44 L60.93,167.10 L61.17,166.76 L61.43,166.41 L61.71,166.07 L62.01,165.73 L62.32,165.39 L62.63,165.04 L62.95,164.70 L63.27,164.36 L63.58,164.01 L63.89,163.67 L64.19,163.33 L64.47,162.99 L64.73,162.64 L64.97,162.30 L65.18,161.96 L65.36,161.61 L65.52,161.27 L65.64,160.93 L65.73,160.59 L65.78,160.24 L65.80,159.90 L65.77,159.51 L65.69,159.12 L65.55,158.73 L65.37,158.34 L65.13,157.95 L64.86,157.56 L64.55,157.18 L64.20,156.79 L63.84,156.40 L63.45,156.01 L63.06,155.62 L62.66,155.23 L62.27,154.84 L61.89,154.45 L61.52,154.06 L61.18,153.67 L60.86,153.28 L60.58,152.89 L60.32,152.50 L60.11,152.11 L59.93,151.72 L59.85,151.34 L59.85,150.95 L59.85,150.56 L59.85,150.17 L59.85,149.78 L59.85,149.39 L59.85,149.00 Z" fill="#169E98"/>
<rect x="58.90" y="169.30" width="1.20" height="21.20" fill="#169E98"/>
<line x1="59.50" y1="153.20" x2="59.50" y2="167.40" stroke="#fff" stroke-width="0.4" opacity="0.85"/>
<rect x="57.60" y="157.20" width="3.8" height="5.20" fill="#169E98" stroke="#fff" stroke-width="0.55"/>
<line x1="57.60" y1="159.80" x2="61.40" y2="159.80" stroke="#fff" stroke-width="0.55"/>
<path d="M72.45,143.70 L72.45,144.32 L72.45,144.94 L72.45,145.55 L72.45,146.17 L72.45,146.79 L72.45,147.41 L72.35,148.02 L72.16,148.64 L71.94,149.26 L71.67,149.88 L71.37,150.50 L71.04,151.11 L70.68,151.73 L70.30,152.35 L69.90,152.97 L69.49,153.59 L69.07,154.20 L68.66,154.82 L68.26,155.44 L67.87,156.06 L67.51,156.68 L67.19,157.29 L66.90,157.91 L66.65,158.53 L66.46,159.15 L66.32,159.76 L66.23,160.38 L66.20,161.00 L66.22,161.38 L66.28,161.75 L66.37,162.12 L66.50,162.50 L66.66,162.88 L66.86,163.25 L67.09,163.62 L67.34,164.00 L67.62,164.38 L67.91,164.75 L68.23,165.12 L68.55,165.50 L68.89,165.88 L69.22,166.25 L69.56,166.62 L69.90,167.00 L70.22,167.38 L70.54,167.75 L70.83,168.12 L71.11,168.50 L71.36,168.88 L71.59,169.25 L71.79,169.62 L71.95,170.00 L72.08,170.38 L72.17,170.75 L72.23,171.12 L72.25,171.50 L73.35,171.50 L73.37,171.12 L73.43,170.75 L73.52,170.38 L73.65,170.00 L73.81,169.62 L74.01,169.25 L74.24,168.88 L74.49,168.50 L74.77,168.12 L75.06,167.75 L75.38,167.38 L75.70,167.00 L76.04,166.62 L76.38,166.25 L76.71,165.88 L77.05,165.50 L77.37,165.12 L77.69,164.75 L77.98,164.38 L78.26,164.00 L78.51,163.62 L78.74,163.25 L78.94,162.88 L79.10,162.50 L79.23,162.12 L79.32,161.75 L79.38,161.38 L79.40,161.00 L79.37,160.38 L79.28,159.76 L79.14,159.15 L78.95,158.53 L78.70,157.91 L78.41,157.29 L78.09,156.68 L77.73,156.06 L77.34,155.44 L76.94,154.82 L76.53,154.20 L76.11,153.59 L75.70,152.97 L75.30,152.35 L74.92,151.73 L74.56,151.11 L74.23,150.50 L73.93,149.88 L73.66,149.26 L73.44,148.64 L73.25,148.02 L73.15,147.41 L73.15,146.79 L73.15,146.17 L73.15,145.55 L73.15,144.94 L73.15,144.32 L73.15,143.70 Z" fill="#EFA45F"/>
<rect x="72.25" y="171.30" width="1.10" height="15.70" fill="#F3BD8A"/>
<path d="M72.25,186.80 L72.19,187.24 L72.07,187.68 L71.91,188.11 L71.71,188.55 L71.47,188.99 L71.21,189.43 L70.92,189.86 L70.60,190.30 L75.00,190.30 L74.68,189.86 L74.39,189.43 L74.13,188.99 L73.89,188.55 L73.69,188.11 L73.53,187.68 L73.41,187.24 L73.35,186.80 Z" fill="#EFA45F"/>
<line x1="72.80" y1="154.50" x2="72.80" y2="169.50" stroke="#fff" stroke-width="0.4" opacity="0.85"/>
<rect x="70.90" y="158.50" width="3.8" height="6.00" fill="#EFA45F" stroke="#fff" stroke-width="0.55"/>
<line x1="70.90" y1="161.50" x2="74.70" y2="161.50" stroke="#fff" stroke-width="0.55"/>
<path d="M89.15,147.30 L89.15,147.59 L89.15,147.88 L89.15,148.17 L89.15,148.46 L89.09,148.75 L88.89,149.04 L88.65,149.33 L88.38,149.61 L88.08,149.90 L87.75,150.19 L87.40,150.48 L87.02,150.77 L86.63,151.06 L86.23,151.35 L85.83,151.64 L85.43,151.93 L85.03,152.22 L84.65,152.51 L84.28,152.80 L83.94,153.09 L83.62,153.38 L83.34,153.66 L83.09,153.95 L82.88,154.24 L82.72,154.53 L82.60,154.82 L82.52,155.11 L82.50,155.40 L82.51,156.06 L82.56,156.73 L82.63,157.39 L82.74,158.06 L82.87,158.72 L83.02,159.39 L83.21,160.05 L83.41,160.71 L83.64,161.38 L83.89,162.04 L84.16,162.71 L84.44,163.37 L84.74,164.04 L85.05,164.70 L85.37,165.36 L85.70,166.03 L86.03,166.69 L86.36,167.36 L86.68,168.02 L87.00,168.69 L87.31,169.35 L87.60,170.01 L87.88,170.68 L88.14,171.34 L88.37,172.01 L88.56,172.67 L88.72,173.34 L88.80,174.00 L90.20,174.00 L90.28,173.34 L90.44,172.67 L90.63,172.01 L90.86,171.34 L91.12,170.68 L91.40,170.01 L91.69,169.35 L92.00,168.69 L92.32,168.02 L92.64,167.36 L92.97,166.69 L93.30,166.03 L93.63,165.36 L93.95,164.70 L94.26,164.04 L94.56,163.37 L94.84,162.71 L95.11,162.04 L95.36,161.38 L95.59,160.71 L95.79,160.05 L95.98,159.39 L96.13,158.72 L96.26,158.06 L96.37,157.39 L96.44,156.73 L96.49,156.06 L96.50,155.40 L96.48,155.11 L96.40,154.82 L96.28,154.53 L96.12,154.24 L95.91,153.95 L95.66,153.66 L95.38,153.38 L95.06,153.09 L94.72,152.80 L94.35,152.51 L93.97,152.22 L93.57,151.93 L93.17,151.64 L92.77,151.35 L92.37,151.06 L91.98,150.77 L91.60,150.48 L91.25,150.19 L90.92,149.90 L90.62,149.61 L90.35,149.33 L90.11,149.04 L89.91,148.75 L89.85,148.46 L89.85,148.17 L89.85,147.88 L89.85,147.59 L89.85,147.30 Z" fill="#169E98"/>
<rect x="88.80" y="173.80" width="1.40" height="13.70" fill="#169E98"/>
<path d="M88.80,187.30 L88.75,187.68 L88.66,188.05 L88.53,188.43 L88.37,188.80 L88.19,189.18 L87.98,189.55 L87.75,189.93 L87.50,190.30 L91.50,190.30 L91.25,189.93 L91.02,189.55 L90.81,189.18 L90.63,188.80 L90.47,188.43 L90.34,188.05 L90.25,187.68 L90.20,187.30 Z" fill="#169E98"/>
<line x1="89.50" y1="150.00" x2="89.50" y2="167.50" stroke="#fff" stroke-width="0.4" opacity="0.85"/>
<rect x="87.60" y="154.00" width="3.8" height="8.50" fill="#169E98" stroke="#fff" stroke-width="0.55"/>
<line x1="87.60" y1="158.25" x2="91.40" y2="158.25" stroke="#fff" stroke-width="0.55"/>
<path d="M102.45,147.30 L102.45,147.66 L102.45,148.03 L102.45,148.39 L102.45,148.76 L102.37,149.12 L102.17,149.49 L101.93,149.85 L101.65,150.21 L101.34,150.58 L101.00,150.94 L100.64,151.31 L100.25,151.67 L99.85,152.04 L99.44,152.40 L99.03,152.76 L98.61,153.13 L98.20,153.49 L97.81,153.86 L97.43,154.22 L97.08,154.59 L96.75,154.95 L96.46,155.31 L96.20,155.68 L95.99,156.04 L95.82,156.41 L95.70,156.77 L95.62,157.14 L95.60,157.50 L95.62,158.09 L95.67,158.68 L95.75,159.27 L95.86,159.86 L96.00,160.45 L96.17,161.04 L96.37,161.62 L96.60,162.21 L96.85,162.80 L97.12,163.39 L97.41,163.98 L97.72,164.57 L98.04,165.16 L98.37,165.75 L98.71,166.34 L99.05,166.93 L99.39,167.52 L99.73,168.11 L100.07,168.70 L100.39,169.29 L100.70,169.88 L101.00,170.46 L101.27,171.05 L101.51,171.64 L101.73,172.23 L101.90,172.82 L102.04,173.41 L102.10,174.00 L103.50,174.00 L103.56,173.41 L103.70,172.82 L103.87,172.23 L104.09,171.64 L104.33,171.05 L104.60,170.46 L104.90,169.88 L105.21,169.29 L105.53,168.70 L105.87,168.11 L106.21,167.52 L106.55,166.93 L106.89,166.34 L107.23,165.75 L107.56,165.16 L107.88,164.57 L108.19,163.98 L108.48,163.39 L108.75,162.80 L109.00,162.21 L109.23,161.62 L109.43,161.04 L109.60,160.45 L109.74,159.86 L109.85,159.27 L109.93,158.68 L109.98,158.09 L110.00,157.50 L109.98,157.14 L109.90,156.77 L109.78,156.41 L109.61,156.04 L109.40,155.68 L109.14,155.31 L108.85,154.95 L108.52,154.59 L108.17,154.22 L107.79,153.86 L107.40,153.49 L106.99,153.13 L106.57,152.76 L106.16,152.40 L105.75,152.04 L105.35,151.67 L104.96,151.31 L104.60,150.94 L104.26,150.58 L103.95,150.21 L103.67,149.85 L103.43,149.49 L103.23,149.12 L103.15,148.76 L103.15,148.39 L103.15,148.03 L103.15,147.66 L103.15,147.30 Z" fill="#EFA45F"/>
<rect x="102.10" y="173.80" width="1.40" height="13.70" fill="#F3BD8A"/>
<path d="M102.10,187.30 L102.05,187.68 L101.96,188.05 L101.83,188.43 L101.67,188.80 L101.49,189.18 L101.28,189.55 L101.05,189.93 L100.80,190.30 L104.80,190.30 L104.55,189.93 L104.32,189.55 L104.11,189.18 L103.93,188.80 L103.77,188.43 L103.64,188.05 L103.55,187.68 L103.50,187.30 Z" fill="#EFA45F"/>
<line x1="102.80" y1="151.00" x2="102.80" y2="168.50" stroke="#fff" stroke-width="0.4" opacity="0.85"/>
<rect x="100.90" y="155.00" width="3.8" height="8.50" fill="#EFA45F" stroke="#fff" stroke-width="0.55"/>
<line x1="100.90" y1="159.25" x2="104.70" y2="159.25" stroke="#fff" stroke-width="0.55"/>
<path d="M119.15,131.00 L119.15,131.26 L119.15,131.53 L119.15,131.79 L119.15,132.06 L119.15,132.32 L119.15,132.59 L119.15,132.85 L119.15,133.11 L119.12,133.38 L118.94,133.64 L118.72,133.91 L118.44,134.17 L118.12,134.44 L117.75,134.70 L117.34,134.96 L116.88,135.23 L116.40,135.49 L115.90,135.76 L115.39,136.02 L114.89,136.29 L114.40,136.55 L113.94,136.81 L113.53,137.08 L113.18,137.34 L112.89,137.61 L112.67,137.87 L112.54,138.14 L112.50,138.40 L112.52,138.48 L112.56,138.56 L112.64,138.64 L112.75,138.71 L112.90,138.79 L113.06,138.87 L113.26,138.95 L113.48,139.03 L113.73,139.11 L114.00,139.19 L114.28,139.26 L114.58,139.34 L114.90,139.42 L115.22,139.50 L115.56,139.58 L115.89,139.66 L116.23,139.74 L116.57,139.81 L116.90,139.89 L117.22,139.97 L117.52,140.05 L117.81,140.13 L118.08,140.21 L118.32,140.29 L118.53,140.36 L118.71,140.44 L118.84,140.52 L118.90,140.60 L120.10,140.60 L120.16,140.52 L120.29,140.44 L120.47,140.36 L120.68,140.29 L120.92,140.21 L121.19,140.13 L121.48,140.05 L121.78,139.97 L122.10,139.89 L122.43,139.81 L122.77,139.74 L123.11,139.66 L123.44,139.58 L123.78,139.50 L124.10,139.42 L124.42,139.34 L124.72,139.26 L125.00,139.19 L125.27,139.11 L125.52,139.03 L125.74,138.95 L125.94,138.87 L126.10,138.79 L126.25,138.71 L126.36,138.64 L126.44,138.56 L126.48,138.48 L126.50,138.40 L126.46,138.14 L126.33,137.87 L126.11,137.61 L125.82,137.34 L125.47,137.08 L125.06,136.81 L124.60,136.55 L124.11,136.29 L123.61,136.02 L123.10,135.76 L122.60,135.49 L122.12,135.23 L121.66,134.96 L121.25,134.70 L120.88,134.44 L120.56,134.17 L120.28,133.91 L120.06,133.64 L119.88,133.38 L119.85,133.11 L119.85,132.85 L119.85,132.59 L119.85,132.32 L119.85,132.06 L119.85,131.79 L119.85,131.53 L119.85,131.26 L119.85,131.00 Z" fill="#169E98"/>
<rect x="118.90" y="140.40" width="1.20" height="12.20" fill="#169E98"/>
<line x1="119.50" y1="133.30" x2="119.50" y2="140.60" stroke="#fff" stroke-width="0.4" opacity="0.85"/>
<rect x="117.60" y="137.30" width="3.8" height="2.00" fill="#169E98" stroke="#fff" stroke-width="0.55"/>
<line x1="117.60" y1="138.30" x2="121.40" y2="138.30" stroke="#fff" stroke-width="0.55"/>
<path d="M132.45,132.70 L132.45,132.97 L132.45,133.24 L132.45,133.50 L132.45,133.77 L132.45,134.04 L132.45,134.31 L132.32,134.57 L132.12,134.84 L131.88,135.11 L131.60,135.38 L131.29,135.65 L130.94,135.91 L130.55,136.18 L130.15,136.45 L129.72,136.72 L129.29,136.99 L128.84,137.25 L128.41,137.52 L127.98,137.79 L127.57,138.06 L127.19,138.32 L126.85,138.59 L126.54,138.86 L126.28,139.13 L126.07,139.40 L125.92,139.66 L125.83,139.93 L125.80,140.20 L125.82,140.46 L125.86,140.72 L125.94,140.98 L126.04,141.24 L126.17,141.50 L126.34,141.76 L126.52,142.02 L126.73,142.29 L126.97,142.55 L127.22,142.81 L127.50,143.07 L127.79,143.33 L128.10,143.59 L128.41,143.85 L128.74,144.11 L129.07,144.37 L129.41,144.63 L129.75,144.89 L130.08,145.15 L130.41,145.41 L130.72,145.68 L131.03,145.94 L131.31,146.20 L131.57,146.46 L131.81,146.72 L132.01,146.98 L132.16,147.24 L132.25,147.50 L133.35,147.50 L133.44,147.24 L133.59,146.98 L133.79,146.72 L134.03,146.46 L134.29,146.20 L134.57,145.94 L134.88,145.68 L135.19,145.41 L135.52,145.15 L135.85,144.89 L136.19,144.63 L136.53,144.37 L136.86,144.11 L137.19,143.85 L137.50,143.59 L137.81,143.33 L138.10,143.07 L138.38,142.81 L138.63,142.55 L138.87,142.29 L139.08,142.02 L139.26,141.76 L139.43,141.50 L139.56,141.24 L139.66,140.98 L139.74,140.72 L139.78,140.46 L139.80,140.20 L139.77,139.93 L139.68,139.66 L139.53,139.40 L139.32,139.13 L139.06,138.86 L138.75,138.59 L138.41,138.32 L138.03,138.06 L137.62,137.79 L137.19,137.52 L136.76,137.25 L136.31,136.99 L135.88,136.72 L135.45,136.45 L135.05,136.18 L134.66,135.91 L134.31,135.65 L134.00,135.38 L133.72,135.11 L133.48,134.84 L133.28,134.57 L133.15,134.31 L133.15,134.04 L133.15,133.77 L133.15,133.50 L133.15,133.24 L133.15,132.97 L133.15,132.70 Z" fill="#EFA45F"/>
<rect x="132.25" y="147.30" width="1.10" height="43.20" fill="#F3BD8A"/>
<line x1="132.80" y1="134.20" x2="132.80" y2="147.00" stroke="#fff" stroke-width="0.4" opacity="0.85"/>
<rect x="130.90" y="137.60" width="3.8" height="4.40" fill="#EFA45F" stroke="#fff" stroke-width="0.55"/>
<line x1="130.90" y1="139.80" x2="134.70" y2="139.80" stroke="#fff" stroke-width="0.55"/>
<path d="M149.15,130.00 L149.15,130.18 L149.15,130.36 L149.15,130.54 L149.15,130.71 L149.15,130.89 L149.15,131.07 L149.15,131.25 L149.12,131.43 L148.94,131.61 L148.72,131.79 L148.45,131.96 L148.14,132.14 L147.79,132.32 L147.39,132.50 L146.96,132.68 L146.50,132.86 L146.02,133.04 L145.53,133.21 L145.05,133.39 L144.57,133.57 L144.12,133.75 L143.70,133.93 L143.32,134.11 L143.00,134.29 L142.74,134.46 L142.56,134.64 L142.44,134.82 L142.40,135.00 L142.42,135.09 L142.47,135.17 L142.55,135.26 L142.66,135.34 L142.80,135.43 L142.97,135.51 L143.17,135.60 L143.40,135.69 L143.65,135.77 L143.92,135.86 L144.21,135.94 L144.52,136.03 L144.84,136.11 L145.17,136.20 L145.51,136.29 L145.85,136.37 L146.19,136.46 L146.53,136.54 L146.87,136.63 L147.19,136.71 L147.50,136.80 L147.80,136.89 L148.07,136.97 L148.31,137.06 L148.53,137.14 L148.70,137.23 L148.84,137.31 L148.90,137.40 L150.10,137.40 L150.16,137.31 L150.30,137.23 L150.47,137.14 L150.69,137.06 L150.93,136.97 L151.20,136.89 L151.50,136.80 L151.81,136.71 L152.13,136.63 L152.47,136.54 L152.81,136.46 L153.15,136.37 L153.49,136.29 L153.83,136.20 L154.16,136.11 L154.48,136.03 L154.79,135.94 L155.08,135.86 L155.35,135.77 L155.60,135.69 L155.83,135.60 L156.03,135.51 L156.20,135.43 L156.34,135.34 L156.45,135.26 L156.53,135.17 L156.58,135.09 L156.60,135.00 L156.56,134.82 L156.44,134.64 L156.26,134.46 L156.00,134.29 L155.68,134.11 L155.30,133.93 L154.88,133.75 L154.43,133.57 L153.95,133.39 L153.47,133.21 L152.98,133.04 L152.50,132.86 L152.04,132.68 L151.61,132.50 L151.21,132.32 L150.86,132.14 L150.55,131.96 L150.28,131.79 L150.06,131.61 L149.88,131.43 L149.85,131.25 L149.85,131.07 L149.85,130.89 L149.85,130.71 L149.85,130.54 L149.85,130.36 L149.85,130.18 L149.85,130.00 Z" fill="#169E98"/>
<rect x="148.90" y="137.20" width="1.20" height="4.20" fill="#169E98"/>
<line x1="149.50" y1="131.50" x2="149.50" y2="137.40" stroke="#fff" stroke-width="0.4" opacity="0.85"/>
<rect x="147.60" y="133.80" width="3.8" height="1.80" fill="#169E98" stroke="#fff" stroke-width="0.55"/>
<line x1="147.60" y1="134.70" x2="151.40" y2="134.70" stroke="#fff" stroke-width="0.55"/>
<path d="M162.45,130.70 L162.45,131.00 L162.45,131.31 L162.45,131.61 L162.45,131.91 L162.45,132.22 L162.45,132.52 L162.34,132.82 L162.15,133.13 L161.92,133.43 L161.66,133.74 L161.35,134.04 L161.02,134.34 L160.65,134.65 L160.26,134.95 L159.85,135.25 L159.44,135.56 L159.01,135.86 L158.60,136.16 L158.19,136.47 L157.80,136.77 L157.43,137.07 L157.10,137.38 L156.81,137.68 L156.56,137.99 L156.36,138.29 L156.22,138.59 L156.13,138.90 L156.10,139.20 L156.12,139.46 L156.18,139.72 L156.27,139.98 L156.40,140.24 L156.57,140.50 L156.77,140.76 L157.00,141.02 L157.26,141.29 L157.54,141.55 L157.84,141.81 L158.16,142.07 L158.49,142.33 L158.83,142.59 L159.17,142.85 L159.52,143.11 L159.86,143.37 L160.19,143.63 L160.51,143.89 L160.81,144.15 L161.09,144.41 L161.35,144.68 L161.58,144.94 L161.78,145.20 L161.95,145.46 L162.08,145.72 L162.17,145.98 L162.23,146.24 L162.25,146.50 L163.35,146.50 L163.37,146.24 L163.43,145.98 L163.52,145.72 L163.65,145.46 L163.82,145.20 L164.02,144.94 L164.25,144.68 L164.51,144.41 L164.79,144.15 L165.09,143.89 L165.41,143.63 L165.74,143.37 L166.08,143.11 L166.42,142.85 L166.77,142.59 L167.11,142.33 L167.44,142.07 L167.76,141.81 L168.06,141.55 L168.34,141.29 L168.60,141.02 L168.83,140.76 L169.03,140.50 L169.20,140.24 L169.33,139.98 L169.42,139.72 L169.48,139.46 L169.50,139.20 L169.47,138.90 L169.38,138.59 L169.24,138.29 L169.04,137.99 L168.79,137.68 L168.50,137.38 L168.17,137.07 L167.80,136.77 L167.41,136.47 L167.00,136.16 L166.59,135.86 L166.16,135.56 L165.75,135.25 L165.34,134.95 L164.95,134.65 L164.58,134.34 L164.25,134.04 L163.94,133.74 L163.68,133.43 L163.45,133.13 L163.26,132.82 L163.15,132.52 L163.15,132.22 L163.15,131.91 L163.15,131.61 L163.15,131.31 L163.15,131.00 L163.15,130.70 Z" fill="#EFA45F"/>
<rect x="162.25" y="146.30" width="1.10" height="44.20" fill="#F3BD8A"/>
<line x1="162.80" y1="132.20" x2="162.80" y2="146.50" stroke="#fff" stroke-width="0.4" opacity="0.85"/>
<rect x="160.90" y="136.00" width="3.8" height="5.50" fill="#EFA45F" stroke="#fff" stroke-width="0.55"/>
<line x1="160.90" y1="138.75" x2="164.70" y2="138.75" stroke="#fff" stroke-width="0.55"/>
<path d="M172.30,149.0 L186.70,149.0 L185.10,152.8 L184.50,156.4 L174.50,156.4 L173.90,152.8 Z" fill="#169E98"/>
<rect x="177.50" y="150.3" width="4" height="4.6" fill="#169E98" stroke="#fff" stroke-width="0.6"/>
<path d="M192.45,143.70 L192.45,144.13 L192.45,144.56 L192.45,145.00 L192.45,145.43 L192.45,145.86 L192.45,146.29 L192.35,146.72 L192.16,147.16 L191.94,147.59 L191.67,148.02 L191.37,148.45 L191.04,148.89 L190.68,149.32 L190.30,149.75 L189.90,150.18 L189.49,150.61 L189.07,151.05 L188.66,151.48 L188.26,151.91 L187.87,152.34 L187.51,152.78 L187.19,153.21 L186.90,153.64 L186.65,154.07 L186.46,154.50 L186.32,154.94 L186.23,155.37 L186.20,155.80 L186.22,156.05 L186.28,156.30 L186.37,156.55 L186.50,156.80 L186.66,157.05 L186.86,157.30 L187.09,157.55 L187.34,157.80 L187.62,158.05 L187.91,158.30 L188.23,158.55 L188.55,158.80 L188.89,159.05 L189.22,159.30 L189.56,159.55 L189.90,159.80 L190.22,160.05 L190.54,160.30 L190.83,160.55 L191.11,160.80 L191.36,161.05 L191.59,161.30 L191.79,161.55 L191.95,161.80 L192.08,162.05 L192.17,162.30 L192.23,162.55 L192.25,162.80 L193.35,162.80 L193.37,162.55 L193.43,162.30 L193.52,162.05 L193.65,161.80 L193.81,161.55 L194.01,161.30 L194.24,161.05 L194.49,160.80 L194.77,160.55 L195.06,160.30 L195.38,160.05 L195.70,159.80 L196.04,159.55 L196.37,159.30 L196.71,159.05 L197.05,158.80 L197.37,158.55 L197.69,158.30 L197.98,158.05 L198.26,157.80 L198.51,157.55 L198.74,157.30 L198.94,157.05 L199.10,156.80 L199.23,156.55 L199.32,156.30 L199.38,156.05 L199.40,155.80 L199.37,155.37 L199.28,154.94 L199.14,154.50 L198.95,154.07 L198.70,153.64 L198.41,153.21 L198.09,152.78 L197.73,152.34 L197.34,151.91 L196.94,151.48 L196.53,151.05 L196.11,150.61 L195.70,150.18 L195.30,149.75 L194.92,149.32 L194.56,148.89 L194.23,148.45 L193.93,148.02 L193.66,147.59 L193.44,147.16 L193.25,146.72 L193.15,146.29 L193.15,145.86 L193.15,145.43 L193.15,145.00 L193.15,144.56 L193.15,144.13 L193.15,143.70 Z" fill="#EFA45F"/>
<rect x="192.25" y="162.60" width="1.10" height="8.80" fill="#F3BD8A"/>
<line x1="192.80" y1="149.50" x2="192.80" y2="162.80" stroke="#fff" stroke-width="0.4" opacity="0.85"/>
<rect x="190.90" y="153.50" width="3.8" height="5.00" fill="#EFA45F" stroke="#fff" stroke-width="0.55"/>
<line x1="190.90" y1="156.00" x2="194.70" y2="156.00" stroke="#fff" stroke-width="0.55"/>
<path d="M209.15,148.30 L209.15,148.57 L209.15,148.84 L209.15,149.10 L209.15,149.37 L209.15,149.64 L209.15,149.91 L209.02,150.18 L208.82,150.44 L208.58,150.71 L208.30,150.98 L207.99,151.25 L207.64,151.51 L207.25,151.78 L206.85,152.05 L206.42,152.32 L205.99,152.59 L205.54,152.85 L205.11,153.12 L204.68,153.39 L204.27,153.66 L203.89,153.93 L203.55,154.19 L203.24,154.46 L202.98,154.73 L202.77,155.00 L202.62,155.26 L202.53,155.53 L202.50,155.80 L202.52,156.11 L202.58,156.43 L202.68,156.74 L202.82,157.06 L202.99,157.37 L203.20,157.69 L203.44,158.00 L203.70,158.31 L204.00,158.63 L204.31,158.94 L204.64,159.26 L204.99,159.57 L205.34,159.89 L205.70,160.20 L206.06,160.51 L206.41,160.83 L206.76,161.14 L207.09,161.46 L207.40,161.77 L207.70,162.09 L207.96,162.40 L208.20,162.71 L208.41,163.03 L208.58,163.34 L208.72,163.66 L208.82,163.97 L208.88,164.29 L208.90,164.60 L210.10,164.60 L210.12,164.29 L210.18,163.97 L210.28,163.66 L210.42,163.34 L210.59,163.03 L210.80,162.71 L211.04,162.40 L211.30,162.09 L211.60,161.77 L211.91,161.46 L212.24,161.14 L212.59,160.83 L212.94,160.51 L213.30,160.20 L213.66,159.89 L214.01,159.57 L214.36,159.26 L214.69,158.94 L215.00,158.63 L215.30,158.31 L215.56,158.00 L215.80,157.69 L216.01,157.37 L216.18,157.06 L216.32,156.74 L216.42,156.43 L216.48,156.11 L216.50,155.80 L216.47,155.53 L216.38,155.26 L216.23,155.00 L216.02,154.73 L215.76,154.46 L215.45,154.19 L215.11,153.93 L214.73,153.66 L214.32,153.39 L213.89,153.12 L213.46,152.85 L213.01,152.59 L212.58,152.32 L212.15,152.05 L211.75,151.78 L211.36,151.51 L211.01,151.25 L210.70,150.98 L210.42,150.71 L210.18,150.44 L209.98,150.18 L209.85,149.91 L209.85,149.64 L209.85,149.37 L209.85,149.10 L209.85,148.84 L209.85,148.57 L209.85,148.30 Z" fill="#169E98"/>
<rect x="208.90" y="164.40" width="1.20" height="5.00" fill="#169E98"/>
<line x1="209.50" y1="150.20" x2="209.50" y2="162.60" stroke="#fff" stroke-width="0.4" opacity="0.85"/>
<rect x="207.60" y="154.20" width="3.8" height="3.40" fill="#169E98" stroke="#fff" stroke-width="0.55"/>
<line x1="207.60" y1="155.90" x2="211.40" y2="155.90" stroke="#fff" stroke-width="0.55"/>
<path d="M222.45,145.90 L222.45,146.31 L222.45,146.73 L222.45,147.14 L222.45,147.56 L222.45,147.97 L222.45,148.39 L222.32,148.80 L222.12,149.21 L221.88,149.63 L221.60,150.04 L221.29,150.46 L220.94,150.87 L220.55,151.29 L220.15,151.70 L219.72,152.11 L219.29,152.53 L218.84,152.94 L218.41,153.36 L217.98,153.77 L217.57,154.19 L217.19,154.60 L216.85,155.01 L216.54,155.43 L216.28,155.84 L216.07,156.26 L215.92,156.67 L215.83,157.09 L215.80,157.50 L215.82,157.98 L215.88,158.46 L215.98,158.95 L216.12,159.43 L216.29,159.91 L216.50,160.39 L216.74,160.88 L217.01,161.36 L217.31,161.84 L217.63,162.32 L217.96,162.80 L218.31,163.29 L218.66,163.77 L219.02,164.25 L219.39,164.73 L219.74,165.21 L220.09,165.70 L220.42,166.18 L220.74,166.66 L221.04,167.14 L221.31,167.62 L221.55,168.11 L221.76,168.59 L221.93,169.07 L222.07,169.55 L222.17,170.04 L222.23,170.52 L222.25,171.00 L223.35,171.00 L223.37,170.52 L223.43,170.04 L223.53,169.55 L223.67,169.07 L223.84,168.59 L224.05,168.11 L224.29,167.62 L224.56,167.14 L224.86,166.66 L225.18,166.18 L225.51,165.70 L225.86,165.21 L226.21,164.73 L226.57,164.25 L226.94,163.77 L227.29,163.29 L227.64,162.80 L227.97,162.32 L228.29,161.84 L228.59,161.36 L228.86,160.88 L229.10,160.39 L229.31,159.91 L229.48,159.43 L229.62,158.95 L229.72,158.46 L229.78,157.98 L229.80,157.50 L229.77,157.09 L229.68,156.67 L229.53,156.26 L229.32,155.84 L229.06,155.43 L228.75,155.01 L228.41,154.60 L228.03,154.19 L227.62,153.77 L227.19,153.36 L226.76,152.94 L226.31,152.53 L225.88,152.11 L225.45,151.70 L225.05,151.29 L224.66,150.87 L224.31,150.46 L224.00,150.04 L223.72,149.63 L223.48,149.21 L223.28,148.80 L223.15,148.39 L223.15,147.97 L223.15,147.56 L223.15,147.14 L223.15,146.73 L223.15,146.31 L223.15,145.90 Z" fill="#EFA45F"/>
<rect x="222.25" y="170.80" width="1.10" height="16.70" fill="#F3BD8A"/>
<path d="M222.25,187.30 L222.21,187.68 L222.14,188.05 L222.03,188.43 L221.90,188.80 L221.76,189.18 L221.59,189.55 L221.40,189.93 L221.20,190.30 L224.40,190.30 L224.20,189.93 L224.01,189.55 L223.84,189.18 L223.70,188.80 L223.57,188.43 L223.46,188.05 L223.39,187.68 L223.35,187.30 Z" fill="#EFA45F"/>
<line x1="222.80" y1="150.50" x2="222.80" y2="166.00" stroke="#fff" stroke-width="0.4" opacity="0.85"/>
<rect x="220.90" y="154.50" width="3.8" height="6.50" fill="#EFA45F" stroke="#fff" stroke-width="0.55"/>
<line x1="220.90" y1="157.75" x2="224.70" y2="157.75" stroke="#fff" stroke-width="0.55"/>
<path d="M239.15,156.40 L239.15,156.69 L239.15,156.99 L239.15,157.28 L239.15,157.57 L239.15,157.86 L239.15,158.16 L239.00,158.45 L238.80,158.74 L238.54,159.04 L238.25,159.33 L237.92,159.62 L237.56,159.91 L237.16,160.21 L236.73,160.50 L236.29,160.79 L235.84,161.09 L235.38,161.38 L234.92,161.67 L234.47,161.96 L234.05,162.26 L233.65,162.55 L233.29,162.84 L232.97,163.14 L232.70,163.43 L232.49,163.72 L232.33,164.01 L232.23,164.31 L232.20,164.60 L232.22,165.03 L232.28,165.46 L232.38,165.90 L232.52,166.33 L232.69,166.76 L232.90,167.19 L233.14,167.62 L233.40,168.06 L233.70,168.49 L234.01,168.92 L234.34,169.35 L234.69,169.79 L235.04,170.22 L235.40,170.65 L235.76,171.08 L236.11,171.51 L236.46,171.95 L236.79,172.38 L237.10,172.81 L237.40,173.24 L237.66,173.67 L237.90,174.11 L238.11,174.54 L238.28,174.97 L238.42,175.40 L238.52,175.84 L238.58,176.27 L238.60,176.70 L240.40,176.70 L240.42,176.27 L240.48,175.84 L240.58,175.40 L240.72,174.97 L240.89,174.54 L241.10,174.11 L241.34,173.67 L241.60,173.24 L241.90,172.81 L242.21,172.38 L242.54,171.95 L242.89,171.51 L243.24,171.08 L243.60,170.65 L243.96,170.22 L244.31,169.79 L244.66,169.35 L244.99,168.92 L245.30,168.49 L245.60,168.06 L245.86,167.62 L246.10,167.19 L246.31,166.76 L246.48,166.33 L246.62,165.90 L246.72,165.46 L246.78,165.03 L246.80,164.60 L246.77,164.31 L246.67,164.01 L246.51,163.72 L246.30,163.43 L246.03,163.14 L245.71,162.84 L245.35,162.55 L244.95,162.26 L244.53,161.96 L244.08,161.67 L243.62,161.38 L243.16,161.09 L242.71,160.79 L242.27,160.50 L241.84,160.21 L241.44,159.91 L241.08,159.62 L240.75,159.33 L240.46,159.04 L240.20,158.74 L240.00,158.45 L239.85,158.16 L239.85,157.86 L239.85,157.57 L239.85,157.28 L239.85,156.99 L239.85,156.69 L239.85,156.40 Z" fill="#169E98"/>
<rect x="238.60" y="176.50" width="1.80" height="8.50" fill="#169E98"/>
<path d="M238.60,184.80 L238.48,185.49 L238.24,186.18 L237.91,186.86 L237.51,187.55 L237.04,188.24 L236.52,188.93 L235.93,189.61 L235.30,190.30 L243.70,190.30 L243.07,189.61 L242.48,188.93 L241.96,188.24 L241.49,187.55 L241.09,186.86 L240.76,186.18 L240.52,185.49 L240.40,184.80 Z" fill="#169E98"/>
<line x1="239.50" y1="157.90" x2="239.50" y2="175.00" stroke="#fff" stroke-width="0.4" opacity="0.85"/>
<rect x="237.60" y="161.50" width="3.8" height="8.50" fill="#169E98" stroke="#fff" stroke-width="0.55"/>
<line x1="237.60" y1="165.75" x2="241.40" y2="165.75" stroke="#fff" stroke-width="0.55"/>
<path d="M252.45,155.40 L252.45,155.84 L252.39,156.27 L252.11,156.71 L251.81,157.14 L251.48,157.58 L251.14,158.01 L250.79,158.45 L250.44,158.89 L250.08,159.32 L249.72,159.76 L249.36,160.19 L249.01,160.63 L248.67,161.06 L248.34,161.50 L248.02,161.94 L247.72,162.37 L247.43,162.81 L247.16,163.24 L246.91,163.68 L246.69,164.11 L246.48,164.55 L246.31,164.99 L246.15,165.42 L246.03,165.86 L245.93,166.29 L245.86,166.73 L245.81,167.16 L245.80,167.60 L245.81,168.25 L245.84,168.91 L245.89,169.56 L245.95,170.21 L246.04,170.87 L246.14,171.52 L246.26,172.18 L246.40,172.83 L246.55,173.48 L246.72,174.14 L246.90,174.79 L247.10,175.44 L247.32,176.10 L247.54,176.75 L247.78,177.40 L248.03,178.06 L248.29,178.71 L248.55,179.36 L248.83,180.02 L249.10,180.67 L249.39,181.32 L249.67,181.98 L249.96,182.63 L250.25,183.29 L250.53,183.94 L250.81,184.59 L251.07,185.25 L251.30,185.90 L254.30,185.90 L254.53,185.25 L254.79,184.59 L255.07,183.94 L255.35,183.29 L255.64,182.63 L255.93,181.98 L256.21,181.32 L256.50,180.67 L256.77,180.02 L257.05,179.36 L257.31,178.71 L257.57,178.06 L257.82,177.40 L258.06,176.75 L258.28,176.10 L258.50,175.44 L258.70,174.79 L258.88,174.14 L259.05,173.48 L259.20,172.83 L259.34,172.18 L259.46,171.52 L259.56,170.87 L259.65,170.21 L259.71,169.56 L259.76,168.91 L259.79,168.25 L259.80,167.60 L259.79,167.16 L259.74,166.73 L259.67,166.29 L259.57,165.86 L259.45,165.42 L259.29,164.99 L259.12,164.55 L258.91,164.11 L258.69,163.68 L258.44,163.24 L258.17,162.81 L257.88,162.37 L257.58,161.94 L257.26,161.50 L256.93,161.06 L256.59,160.63 L256.24,160.19 L255.88,159.76 L255.52,159.32 L255.16,158.89 L254.81,158.45 L254.46,158.01 L254.12,157.58 L253.79,157.14 L253.49,156.71 L253.21,156.27 L253.15,155.84 L253.15,155.40 Z" fill="#EFA45F"/>
<rect x="251.30" y="185.70" width="3.00" height="0.60" fill="#F3BD8A"/>
<path d="M251.30,186.10 L251.24,186.63 L251.12,187.15 L250.95,187.68 L250.74,188.20 L250.50,188.73 L250.23,189.25 L249.93,189.78 L249.60,190.30 L256.00,190.30 L255.67,189.78 L255.37,189.25 L255.10,188.73 L254.86,188.20 L254.65,187.68 L254.48,187.15 L254.36,186.63 L254.30,186.10 Z" fill="#EFA45F"/>
<line x1="252.80" y1="161.00" x2="252.80" y2="180.50" stroke="#fff" stroke-width="0.4" opacity="0.85"/>
<rect x="250.90" y="165.00" width="3.8" height="10.50" fill="#EFA45F" stroke="#fff" stroke-width="0.55"/>
<line x1="250.90" y1="170.25" x2="254.70" y2="170.25" stroke="#fff" stroke-width="0.55"/>
<path d="M269.15,147.90 L269.15,148.13 L269.15,148.36 L269.15,148.60 L269.15,148.83 L269.15,149.06 L269.15,149.29 L269.02,149.53 L268.82,149.76 L268.58,149.99 L268.30,150.22 L267.99,150.45 L267.64,150.69 L267.25,150.92 L266.85,151.15 L266.42,151.38 L265.99,151.61 L265.54,151.85 L265.11,152.08 L264.68,152.31 L264.27,152.54 L263.89,152.78 L263.55,153.01 L263.24,153.24 L262.98,153.47 L262.77,153.70 L262.62,153.94 L262.53,154.17 L262.50,154.40 L262.52,154.87 L262.58,155.34 L262.68,155.81 L262.82,156.29 L262.99,156.76 L263.20,157.23 L263.44,157.70 L263.70,158.17 L264.00,158.64 L264.31,159.11 L264.64,159.59 L264.99,160.06 L265.34,160.53 L265.70,161.00 L266.06,161.47 L266.41,161.94 L266.76,162.41 L267.09,162.89 L267.40,163.36 L267.70,163.83 L267.96,164.30 L268.20,164.77 L268.41,165.24 L268.58,165.71 L268.72,166.19 L268.82,166.66 L268.88,167.13 L268.90,167.60 L270.10,167.60 L270.12,167.13 L270.18,166.66 L270.28,166.19 L270.42,165.71 L270.59,165.24 L270.80,164.77 L271.04,164.30 L271.30,163.83 L271.60,163.36 L271.91,162.89 L272.24,162.41 L272.59,161.94 L272.94,161.47 L273.30,161.00 L273.66,160.53 L274.01,160.06 L274.36,159.59 L274.69,159.11 L275.00,158.64 L275.30,158.17 L275.56,157.70 L275.80,157.23 L276.01,156.76 L276.18,156.29 L276.32,155.81 L276.42,155.34 L276.48,154.87 L276.50,154.40 L276.47,154.17 L276.38,153.94 L276.23,153.70 L276.02,153.47 L275.76,153.24 L275.45,153.01 L275.11,152.78 L274.73,152.54 L274.32,152.31 L273.89,152.08 L273.46,151.85 L273.01,151.61 L272.58,151.38 L272.15,151.15 L271.75,150.92 L271.36,150.69 L271.01,150.45 L270.70,150.22 L270.42,149.99 L270.18,149.76 L269.98,149.53 L269.85,149.29 L269.85,149.06 L269.85,148.83 L269.85,148.60 L269.85,148.36 L269.85,148.13 L269.85,147.90 Z" fill="#169E98"/>
<rect x="268.90" y="167.40" width="1.20" height="23.10" fill="#169E98"/>
<line x1="269.50" y1="149.40" x2="269.50" y2="162.50" stroke="#fff" stroke-width="0.4" opacity="0.85"/>
<rect x="267.60" y="152.00" width="3.8" height="5.50" fill="#169E98" stroke="#fff" stroke-width="0.55"/>
<line x1="267.60" y1="154.75" x2="271.40" y2="154.75" stroke="#fff" stroke-width="0.55"/>
<path d="M282.45,147.90 L282.45,148.20 L282.45,148.51 L282.45,148.81 L282.45,149.11 L282.45,149.42 L282.45,149.72 L282.32,150.03 L282.12,150.33 L281.88,150.63 L281.60,150.94 L281.29,151.24 L280.94,151.54 L280.55,151.85 L280.15,152.15 L279.72,152.45 L279.29,152.76 L278.84,153.06 L278.41,153.36 L277.98,153.67 L277.57,153.97 L277.19,154.28 L276.85,154.58 L276.54,154.88 L276.28,155.19 L276.07,155.49 L275.92,155.79 L275.83,156.10 L275.80,156.40 L275.82,156.80 L275.88,157.20 L275.98,157.60 L276.12,158.00 L276.29,158.40 L276.50,158.80 L276.74,159.20 L277.01,159.60 L277.31,160.00 L277.63,160.40 L277.96,160.80 L278.31,161.20 L278.66,161.60 L279.03,162.00 L279.39,162.40 L279.74,162.80 L280.09,163.20 L280.42,163.60 L280.74,164.00 L281.04,164.40 L281.31,164.80 L281.55,165.20 L281.76,165.60 L281.93,166.00 L282.07,166.40 L282.17,166.80 L282.23,167.20 L282.25,167.60 L283.35,167.60 L283.37,167.20 L283.43,166.80 L283.53,166.40 L283.67,166.00 L283.84,165.60 L284.05,165.20 L284.29,164.80 L284.56,164.40 L284.86,164.00 L285.18,163.60 L285.51,163.20 L285.86,162.80 L286.21,162.40 L286.57,162.00 L286.94,161.60 L287.29,161.20 L287.64,160.80 L287.97,160.40 L288.29,160.00 L288.59,159.60 L288.86,159.20 L289.10,158.80 L289.31,158.40 L289.48,158.00 L289.62,157.60 L289.72,157.20 L289.78,156.80 L289.80,156.40 L289.77,156.10 L289.68,155.79 L289.53,155.49 L289.32,155.19 L289.06,154.88 L288.75,154.58 L288.41,154.28 L288.03,153.97 L287.62,153.67 L287.19,153.36 L286.76,153.06 L286.31,152.76 L285.88,152.45 L285.45,152.15 L285.05,151.85 L284.66,151.54 L284.31,151.24 L284.00,150.94 L283.72,150.63 L283.48,150.33 L283.28,150.03 L283.15,149.72 L283.15,149.42 L283.15,149.11 L283.15,148.81 L283.15,148.51 L283.15,148.20 L283.15,147.90 Z" fill="#EFA45F"/>
<rect x="282.25" y="167.40" width="1.10" height="23.10" fill="#F3BD8A"/>
<line x1="282.80" y1="149.50" x2="282.80" y2="163.70" stroke="#fff" stroke-width="0.4" opacity="0.85"/>
<rect x="280.90" y="153.50" width="3.8" height="5.20" fill="#EFA45F" stroke="#fff" stroke-width="0.55"/>
<line x1="280.90" y1="156.10" x2="284.70" y2="156.10" stroke="#fff" stroke-width="0.55"/>
<path d="M299.15,153.40 L299.15,153.69 L299.15,153.98 L299.15,154.27 L299.15,154.56 L299.15,154.85 L299.15,155.14 L299.02,155.43 L298.82,155.71 L298.58,156.00 L298.30,156.29 L297.99,156.58 L297.64,156.87 L297.25,157.16 L296.85,157.45 L296.42,157.74 L295.99,158.03 L295.54,158.32 L295.11,158.61 L294.68,158.90 L294.27,159.19 L293.89,159.47 L293.55,159.76 L293.24,160.05 L292.98,160.34 L292.77,160.63 L292.62,160.92 L292.53,161.21 L292.50,161.50 L292.52,161.75 L292.58,162.01 L292.68,162.26 L292.82,162.51 L292.99,162.77 L293.20,163.02 L293.44,163.28 L293.70,163.53 L294.00,163.78 L294.31,164.04 L294.64,164.29 L294.99,164.54 L295.34,164.80 L295.70,165.05 L296.06,165.30 L296.41,165.56 L296.76,165.81 L297.09,166.06 L297.40,166.32 L297.70,166.57 L297.96,166.82 L298.20,167.08 L298.41,167.33 L298.58,167.59 L298.72,167.84 L298.82,168.09 L298.88,168.35 L298.90,168.60 L300.10,168.60 L300.12,168.35 L300.18,168.09 L300.28,167.84 L300.42,167.59 L300.59,167.33 L300.80,167.08 L301.04,166.82 L301.30,166.57 L301.60,166.32 L301.91,166.06 L302.24,165.81 L302.59,165.56 L302.94,165.30 L303.30,165.05 L303.66,164.80 L304.01,164.54 L304.36,164.29 L304.69,164.04 L305.00,163.78 L305.30,163.53 L305.56,163.28 L305.80,163.02 L306.01,162.77 L306.18,162.51 L306.32,162.26 L306.42,162.01 L306.48,161.75 L306.50,161.50 L306.47,161.21 L306.38,160.92 L306.23,160.63 L306.02,160.34 L305.76,160.05 L305.45,159.76 L305.11,159.47 L304.73,159.19 L304.32,158.90 L303.89,158.61 L303.46,158.32 L303.01,158.03 L302.58,157.74 L302.15,157.45 L301.75,157.16 L301.36,156.87 L301.01,156.58 L300.70,156.29 L300.42,156.00 L300.18,155.71 L299.98,155.43 L299.85,155.14 L299.85,154.85 L299.85,154.56 L299.85,154.27 L299.85,153.98 L299.85,153.69 L299.85,153.40 Z" fill="#169E98"/>
<rect x="298.90" y="168.40" width="1.20" height="22.10" fill="#169E98"/>
<line x1="299.50" y1="154.90" x2="299.50" y2="168.20" stroke="#fff" stroke-width="0.4" opacity="0.85"/>
<rect x="297.60" y="158.80" width="3.8" height="4.40" fill="#169E98" stroke="#fff" stroke-width="0.55"/>
<line x1="297.60" y1="161.00" x2="301.40" y2="161.00" stroke="#fff" stroke-width="0.55"/>
<path d="M312.45,155.00 L312.45,155.27 L312.45,155.54 L312.45,155.80 L312.45,156.07 L312.45,156.34 L312.45,156.61 L312.32,156.88 L312.12,157.14 L311.88,157.41 L311.60,157.68 L311.29,157.95 L310.94,158.21 L310.55,158.48 L310.15,158.75 L309.72,159.02 L309.29,159.29 L308.84,159.55 L308.41,159.82 L307.98,160.09 L307.57,160.36 L307.19,160.62 L306.85,160.89 L306.54,161.16 L306.28,161.43 L306.07,161.70 L305.92,161.96 L305.83,162.23 L305.80,162.50 L305.82,162.83 L305.88,163.16 L305.98,163.49 L306.12,163.81 L306.29,164.14 L306.50,164.47 L306.74,164.80 L307.01,165.13 L307.31,165.46 L307.63,165.79 L307.96,166.11 L308.31,166.44 L308.66,166.77 L309.03,167.10 L309.39,167.43 L309.74,167.76 L310.09,168.09 L310.42,168.41 L310.74,168.74 L311.04,169.07 L311.31,169.40 L311.55,169.73 L311.76,170.06 L311.93,170.39 L312.07,170.71 L312.17,171.04 L312.23,171.37 L312.25,171.70 L313.35,171.70 L313.37,171.37 L313.43,171.04 L313.53,170.71 L313.67,170.39 L313.84,170.06 L314.05,169.73 L314.29,169.40 L314.56,169.07 L314.86,168.74 L315.18,168.41 L315.51,168.09 L315.86,167.76 L316.21,167.43 L316.57,167.10 L316.94,166.77 L317.29,166.44 L317.64,166.11 L317.97,165.79 L318.29,165.46 L318.59,165.13 L318.86,164.80 L319.10,164.47 L319.31,164.14 L319.48,163.81 L319.62,163.49 L319.72,163.16 L319.78,162.83 L319.80,162.50 L319.77,162.23 L319.68,161.96 L319.53,161.70 L319.32,161.43 L319.06,161.16 L318.75,160.89 L318.41,160.62 L318.03,160.36 L317.62,160.09 L317.19,159.82 L316.76,159.55 L316.31,159.29 L315.88,159.02 L315.45,158.75 L315.05,158.48 L314.66,158.21 L314.31,157.95 L314.00,157.68 L313.72,157.41 L313.48,157.14 L313.28,156.88 L313.15,156.61 L313.15,156.34 L313.15,156.07 L313.15,155.80 L313.15,155.54 L313.15,155.27 L313.15,155.00 Z" fill="#EFA45F"/>
<rect x="312.25" y="171.50" width="1.10" height="4.40" fill="#F3BD8A"/>
<line x1="312.80" y1="156.50" x2="312.80" y2="169.50" stroke="#fff" stroke-width="0.4" opacity="0.85"/>
<rect x="310.90" y="160.00" width="3.8" height="4.50" fill="#EFA45F" stroke="#fff" stroke-width="0.55"/>
<line x1="310.90" y1="162.25" x2="314.70" y2="162.25" stroke="#fff" stroke-width="0.55"/>
<path d="M329.15,144.30 L329.15,144.55 L329.15,144.81 L329.15,145.06 L329.15,145.31 L328.96,145.57 L328.74,145.82 L328.47,146.08 L328.18,146.33 L327.86,146.58 L327.52,146.84 L327.16,147.09 L326.78,147.34 L326.39,147.60 L326.00,147.85 L325.61,148.10 L325.22,148.36 L324.84,148.61 L324.48,148.86 L324.14,149.12 L323.82,149.37 L323.53,149.62 L323.26,149.88 L323.04,150.13 L322.85,150.39 L322.70,150.64 L322.59,150.89 L322.52,151.15 L322.50,151.40 L322.52,151.62 L322.58,151.84 L322.68,152.05 L322.82,152.27 L322.99,152.49 L323.20,152.71 L323.44,152.93 L323.70,153.14 L324.00,153.36 L324.31,153.58 L324.64,153.80 L324.99,154.01 L325.34,154.23 L325.70,154.45 L326.06,154.67 L326.41,154.89 L326.76,155.10 L327.09,155.32 L327.40,155.54 L327.70,155.76 L327.96,155.97 L328.20,156.19 L328.41,156.41 L328.58,156.63 L328.72,156.85 L328.82,157.06 L328.88,157.28 L328.90,157.50 L330.10,157.50 L330.12,157.28 L330.18,157.06 L330.28,156.85 L330.42,156.63 L330.59,156.41 L330.80,156.19 L331.04,155.97 L331.30,155.76 L331.60,155.54 L331.91,155.32 L332.24,155.10 L332.59,154.89 L332.94,154.67 L333.30,154.45 L333.66,154.23 L334.01,154.01 L334.36,153.80 L334.69,153.58 L335.00,153.36 L335.30,153.14 L335.56,152.93 L335.80,152.71 L336.01,152.49 L336.18,152.27 L336.32,152.05 L336.42,151.84 L336.48,151.62 L336.50,151.40 L336.48,151.15 L336.41,150.89 L336.30,150.64 L336.15,150.39 L335.96,150.13 L335.74,149.88 L335.47,149.62 L335.18,149.37 L334.86,149.12 L334.52,148.86 L334.16,148.61 L333.78,148.36 L333.39,148.10 L333.00,147.85 L332.61,147.60 L332.22,147.34 L331.84,147.09 L331.48,146.84 L331.14,146.58 L330.82,146.33 L330.53,146.08 L330.26,145.82 L330.04,145.57 L329.85,145.31 L329.85,145.06 L329.85,144.81 L329.85,144.55 L329.85,144.30 Z" fill="#169E98"/>
<rect x="328.90" y="157.30" width="1.20" height="19.60" fill="#169E98"/>
<line x1="329.50" y1="145.80" x2="329.50" y2="157.50" stroke="#fff" stroke-width="0.4" opacity="0.85"/>
<rect x="327.60" y="149.20" width="3.8" height="3.80" fill="#169E98" stroke="#fff" stroke-width="0.55"/>
<line x1="327.60" y1="151.10" x2="331.40" y2="151.10" stroke="#fff" stroke-width="0.55"/>
<path d="M342.45,139.20 L342.45,139.71 L342.45,140.21 L342.45,140.72 L342.45,141.23 L342.45,141.74 L342.45,142.24 L342.32,142.75 L342.12,143.26 L341.88,143.76 L341.60,144.27 L341.29,144.78 L340.94,145.29 L340.55,145.79 L340.15,146.30 L339.72,146.81 L339.29,147.31 L338.84,147.82 L338.41,148.33 L337.98,148.84 L337.57,149.34 L337.19,149.85 L336.85,150.36 L336.54,150.86 L336.28,151.37 L336.07,151.88 L335.92,152.39 L335.83,152.89 L335.80,153.40 L335.82,153.80 L335.88,154.20 L335.98,154.60 L336.12,155.00 L336.29,155.40 L336.50,155.80 L336.74,156.20 L337.01,156.60 L337.31,157.00 L337.63,157.40 L337.96,157.80 L338.31,158.20 L338.66,158.60 L339.03,159.00 L339.39,159.40 L339.74,159.80 L340.09,160.20 L340.42,160.60 L340.74,161.00 L341.04,161.40 L341.31,161.80 L341.55,162.20 L341.76,162.60 L341.93,163.00 L342.07,163.40 L342.17,163.80 L342.23,164.20 L342.25,164.60 L343.35,164.60 L343.37,164.20 L343.43,163.80 L343.53,163.40 L343.67,163.00 L343.84,162.60 L344.05,162.20 L344.29,161.80 L344.56,161.40 L344.86,161.00 L345.18,160.60 L345.51,160.20 L345.86,159.80 L346.21,159.40 L346.57,159.00 L346.94,158.60 L347.29,158.20 L347.64,157.80 L347.97,157.40 L348.29,157.00 L348.59,156.60 L348.86,156.20 L349.10,155.80 L349.31,155.40 L349.48,155.00 L349.62,154.60 L349.72,154.20 L349.78,153.80 L349.80,153.40 L349.77,152.89 L349.68,152.39 L349.53,151.88 L349.32,151.37 L349.06,150.86 L348.75,150.36 L348.41,149.85 L348.03,149.34 L347.62,148.84 L347.19,148.33 L346.76,147.82 L346.31,147.31 L345.88,146.81 L345.45,146.30 L345.05,145.79 L344.66,145.29 L344.31,144.78 L344.00,144.27 L343.72,143.76 L343.48,143.26 L343.28,142.75 L343.15,142.24 L343.15,141.74 L343.15,141.23 L343.15,140.72 L343.15,140.21 L343.15,139.71 L343.15,139.20 Z" fill="#EFA45F"/>
<rect x="342.25" y="164.40" width="1.10" height="26.10" fill="#F3BD8A"/>
<line x1="342.80" y1="146.00" x2="342.80" y2="161.50" stroke="#fff" stroke-width="0.4" opacity="0.85"/>
<rect x="340.90" y="150.00" width="3.8" height="6.50" fill="#EFA45F" stroke="#fff" stroke-width="0.55"/>
<line x1="340.90" y1="153.25" x2="344.70" y2="153.25" stroke="#fff" stroke-width="0.55"/>
<path d="M359.15,152.40 L359.15,152.62 L359.15,152.84 L359.15,153.05 L359.15,153.27 L359.15,153.49 L359.15,153.71 L359.02,153.93 L358.82,154.14 L358.58,154.36 L358.30,154.58 L357.99,154.80 L357.64,155.01 L357.25,155.23 L356.85,155.45 L356.42,155.67 L355.99,155.89 L355.54,156.10 L355.11,156.32 L354.68,156.54 L354.27,156.76 L353.89,156.97 L353.55,157.19 L353.24,157.41 L352.98,157.63 L352.77,157.85 L352.62,158.06 L352.53,158.28 L352.50,158.50 L352.52,158.79 L352.58,159.08 L352.68,159.37 L352.82,159.66 L352.99,159.95 L353.20,160.24 L353.44,160.53 L353.70,160.81 L354.00,161.10 L354.31,161.39 L354.64,161.68 L354.99,161.97 L355.34,162.26 L355.70,162.55 L356.06,162.84 L356.41,163.13 L356.76,163.42 L357.09,163.71 L357.40,164.00 L357.70,164.29 L357.96,164.57 L358.20,164.86 L358.41,165.15 L358.58,165.44 L358.72,165.73 L358.82,166.02 L358.88,166.31 L358.90,166.60 L360.10,166.60 L360.12,166.31 L360.18,166.02 L360.28,165.73 L360.42,165.44 L360.59,165.15 L360.80,164.86 L361.04,164.57 L361.30,164.29 L361.60,164.00 L361.91,163.71 L362.24,163.42 L362.59,163.13 L362.94,162.84 L363.30,162.55 L363.66,162.26 L364.01,161.97 L364.36,161.68 L364.69,161.39 L365.00,161.10 L365.30,160.81 L365.56,160.53 L365.80,160.24 L366.01,159.95 L366.18,159.66 L366.32,159.37 L366.42,159.08 L366.48,158.79 L366.50,158.50 L366.47,158.28 L366.38,158.06 L366.23,157.85 L366.02,157.63 L365.76,157.41 L365.45,157.19 L365.11,156.97 L364.73,156.76 L364.32,156.54 L363.89,156.32 L363.46,156.10 L363.01,155.89 L362.58,155.67 L362.15,155.45 L361.75,155.23 L361.36,155.01 L361.01,154.80 L360.70,154.58 L360.42,154.36 L360.18,154.14 L359.98,153.93 L359.85,153.71 L359.85,153.49 L359.85,153.27 L359.85,153.05 L359.85,152.84 L359.85,152.62 L359.85,152.40 Z" fill="#169E98"/>
<rect x="358.90" y="166.40" width="1.20" height="24.10" fill="#169E98"/>
<line x1="359.50" y1="153.90" x2="359.50" y2="165.30" stroke="#fff" stroke-width="0.4" opacity="0.85"/>
<rect x="357.60" y="156.30" width="3.8" height="4.00" fill="#169E98" stroke="#fff" stroke-width="0.55"/>
<line x1="357.60" y1="158.30" x2="361.40" y2="158.30" stroke="#fff" stroke-width="0.55"/>
<path d="M372.45,152.40 L372.41,152.65 L372.02,152.91 L371.63,153.16 L371.24,153.41 L370.86,153.67 L370.49,153.92 L370.12,154.18 L369.76,154.43 L369.41,154.68 L369.08,154.94 L368.75,155.19 L368.44,155.44 L368.14,155.70 L367.85,155.95 L367.58,156.20 L367.33,156.46 L367.09,156.71 L366.87,156.96 L366.67,157.22 L366.49,157.47 L366.33,157.72 L366.19,157.98 L366.07,158.23 L365.98,158.49 L365.90,158.74 L365.84,158.99 L365.81,159.25 L365.80,159.50 L365.82,159.94 L365.86,160.37 L365.94,160.81 L366.04,161.24 L366.17,161.68 L366.34,162.11 L366.52,162.55 L366.73,162.99 L366.97,163.42 L367.22,163.86 L367.50,164.29 L367.79,164.73 L368.10,165.16 L368.41,165.60 L368.74,166.04 L369.07,166.47 L369.41,166.91 L369.75,167.34 L370.08,167.78 L370.41,168.21 L370.72,168.65 L371.03,169.09 L371.31,169.52 L371.57,169.96 L371.81,170.39 L372.01,170.83 L372.16,171.26 L372.25,171.70 L373.35,171.70 L373.44,171.26 L373.59,170.83 L373.79,170.39 L374.03,169.96 L374.29,169.52 L374.57,169.09 L374.88,168.65 L375.19,168.21 L375.52,167.78 L375.85,167.34 L376.19,166.91 L376.53,166.47 L376.86,166.04 L377.19,165.60 L377.50,165.16 L377.81,164.73 L378.10,164.29 L378.38,163.86 L378.63,163.42 L378.87,162.99 L379.08,162.55 L379.26,162.11 L379.43,161.68 L379.56,161.24 L379.66,160.81 L379.74,160.37 L379.78,159.94 L379.80,159.50 L379.79,159.25 L379.76,158.99 L379.70,158.74 L379.62,158.49 L379.53,158.23 L379.41,157.98 L379.27,157.72 L379.11,157.47 L378.93,157.22 L378.73,156.96 L378.51,156.71 L378.27,156.46 L378.02,156.20 L377.75,155.95 L377.46,155.70 L377.16,155.44 L376.85,155.19 L376.52,154.94 L376.19,154.68 L375.84,154.43 L375.48,154.18 L375.11,153.92 L374.74,153.67 L374.36,153.41 L373.97,153.16 L373.58,152.91 L373.19,152.65 L373.15,152.40 Z" fill="#EFA45F"/>
<rect x="372.25" y="171.50" width="1.10" height="15.00" fill="#F3BD8A"/>
<path d="M372.25,186.30 L372.17,186.80 L372.01,187.30 L371.78,187.80 L371.51,188.30 L371.19,188.80 L370.83,189.30 L370.43,189.80 L370.00,190.30 L375.60,190.30 L375.17,189.80 L374.77,189.30 L374.41,188.80 L374.09,188.30 L373.82,187.80 L373.59,187.30 L373.43,186.80 L373.35,186.30 Z" fill="#EFA45F"/>
<line x1="372.80" y1="153.90" x2="372.80" y2="168.50" stroke="#fff" stroke-width="0.4" opacity="0.85"/>
<rect x="370.90" y="157.00" width="3.8" height="6.50" fill="#EFA45F" stroke="#fff" stroke-width="0.55"/>
<line x1="370.90" y1="160.25" x2="374.70" y2="160.25" stroke="#fff" stroke-width="0.55"/>
<path d="M389.15,134.10 L389.15,134.25 L389.15,134.41 L389.15,134.56 L389.15,134.71 L389.15,134.87 L389.11,135.02 L388.92,135.18 L388.70,135.33 L388.44,135.48 L388.14,135.64 L387.81,135.79 L387.45,135.94 L387.06,136.10 L386.66,136.25 L386.24,136.40 L385.81,136.56 L385.38,136.71 L384.96,136.86 L384.55,137.02 L384.16,137.17 L383.80,137.32 L383.48,137.48 L383.19,137.63 L382.95,137.79 L382.75,137.94 L382.61,138.09 L382.53,138.25 L382.50,138.40 L382.52,138.61 L382.56,138.82 L382.64,139.03 L382.75,139.24 L382.90,139.45 L383.06,139.66 L383.26,139.88 L383.48,140.09 L383.73,140.30 L384.00,140.51 L384.28,140.72 L384.58,140.93 L384.90,141.14 L385.22,141.35 L385.56,141.56 L385.89,141.77 L386.23,141.98 L386.57,142.19 L386.90,142.40 L387.22,142.61 L387.52,142.83 L387.81,143.04 L388.08,143.25 L388.32,143.46 L388.53,143.67 L388.71,143.88 L388.84,144.09 L388.90,144.30 L390.10,144.30 L390.16,144.09 L390.29,143.88 L390.47,143.67 L390.68,143.46 L390.92,143.25 L391.19,143.04 L391.48,142.83 L391.78,142.61 L392.10,142.40 L392.43,142.19 L392.77,141.98 L393.11,141.77 L393.44,141.56 L393.78,141.35 L394.10,141.14 L394.42,140.93 L394.72,140.72 L395.00,140.51 L395.27,140.30 L395.52,140.09 L395.74,139.88 L395.94,139.66 L396.10,139.45 L396.25,139.24 L396.36,139.03 L396.44,138.82 L396.48,138.61 L396.50,138.40 L396.47,138.25 L396.39,138.09 L396.25,137.94 L396.05,137.79 L395.81,137.63 L395.52,137.48 L395.20,137.32 L394.84,137.17 L394.45,137.02 L394.04,136.86 L393.62,136.71 L393.19,136.56 L392.76,136.40 L392.34,136.25 L391.94,136.10 L391.55,135.94 L391.19,135.79 L390.86,135.64 L390.56,135.48 L390.30,135.33 L390.08,135.18 L389.89,135.02 L389.85,134.87 L389.85,134.71 L389.85,134.56 L389.85,134.41 L389.85,134.25 L389.85,134.10 Z" fill="#169E98"/>
<rect x="388.90" y="144.10" width="1.20" height="10.50" fill="#169E98"/>
<line x1="389.50" y1="135.60" x2="389.50" y2="144.30" stroke="#fff" stroke-width="0.4" opacity="0.85"/>
<rect x="387.60" y="136.60" width="3.8" height="3.40" fill="#169E98" stroke="#fff" stroke-width="0.55"/>
<line x1="387.60" y1="138.30" x2="391.40" y2="138.30" stroke="#fff" stroke-width="0.55"/>
<path d="M402.45,133.10 L402.45,133.44 L402.36,133.77 L402.06,134.11 L401.74,134.44 L401.39,134.78 L401.02,135.11 L400.65,135.45 L400.27,135.79 L399.88,136.12 L399.50,136.46 L399.12,136.79 L398.74,137.13 L398.38,137.46 L398.02,137.80 L397.68,138.14 L397.35,138.47 L397.05,138.81 L396.76,139.14 L396.49,139.48 L396.25,139.81 L396.03,140.15 L395.84,140.49 L395.68,140.82 L395.54,141.16 L395.44,141.49 L395.36,141.83 L395.32,142.16 L395.30,142.50 L395.32,142.80 L395.37,143.11 L395.45,143.41 L395.56,143.71 L395.70,144.02 L395.88,144.32 L396.08,144.62 L396.31,144.93 L396.56,145.23 L396.84,145.54 L397.13,145.84 L397.45,146.14 L397.78,146.45 L398.12,146.75 L398.47,147.05 L398.83,147.36 L399.19,147.66 L399.55,147.96 L399.91,148.27 L400.26,148.57 L400.60,148.88 L400.93,149.18 L401.24,149.48 L401.52,149.79 L401.77,150.09 L401.99,150.39 L402.16,150.70 L402.25,151.00 L403.35,151.00 L403.44,150.70 L403.61,150.39 L403.83,150.09 L404.08,149.79 L404.36,149.48 L404.67,149.18 L405.00,148.88 L405.34,148.57 L405.69,148.27 L406.05,147.96 L406.41,147.66 L406.77,147.36 L407.13,147.05 L407.48,146.75 L407.82,146.45 L408.15,146.14 L408.47,145.84 L408.76,145.54 L409.04,145.23 L409.29,144.93 L409.52,144.62 L409.72,144.32 L409.90,144.02 L410.04,143.71 L410.15,143.41 L410.23,143.11 L410.28,142.80 L410.30,142.50 L410.28,142.16 L410.24,141.83 L410.16,141.49 L410.06,141.16 L409.92,140.82 L409.76,140.49 L409.57,140.15 L409.35,139.81 L409.11,139.48 L408.84,139.14 L408.55,138.81 L408.25,138.47 L407.92,138.14 L407.58,137.80 L407.22,137.46 L406.86,137.13 L406.48,136.79 L406.10,136.46 L405.72,136.12 L405.33,135.79 L404.95,135.45 L404.58,135.11 L404.21,134.78 L403.86,134.44 L403.54,134.11 L403.24,133.77 L403.15,133.44 L403.15,133.10 Z" fill="#EFA45F"/>
<rect x="402.25" y="150.80" width="1.10" height="39.70" fill="#F3BD8A"/>
<line x1="402.80" y1="135.50" x2="402.80" y2="151.00" stroke="#fff" stroke-width="0.4" opacity="0.85"/>
<rect x="400.90" y="139.50" width="3.8" height="6.50" fill="#EFA45F" stroke="#fff" stroke-width="0.55"/>
<line x1="400.90" y1="142.75" x2="404.70" y2="142.75" stroke="#fff" stroke-width="0.55"/>
<path d="M419.15,133.10 L419.15,133.35 L419.15,133.61 L419.15,133.86 L419.15,134.11 L419.15,134.37 L419.15,134.62 L419.15,134.88 L419.15,135.13 L419.12,135.38 L418.94,135.64 L418.72,135.89 L418.44,136.14 L418.12,136.40 L417.75,136.65 L417.34,136.90 L416.88,137.16 L416.40,137.41 L415.90,137.66 L415.39,137.92 L414.89,138.17 L414.40,138.42 L413.94,138.68 L413.53,138.93 L413.18,139.19 L412.89,139.44 L412.67,139.69 L412.54,139.95 L412.50,140.20 L412.52,140.29 L412.56,140.37 L412.64,140.46 L412.75,140.54 L412.90,140.63 L413.06,140.71 L413.26,140.80 L413.48,140.89 L413.73,140.97 L414.00,141.06 L414.28,141.14 L414.58,141.23 L414.90,141.31 L415.22,141.40 L415.56,141.49 L415.89,141.57 L416.23,141.66 L416.57,141.74 L416.90,141.83 L417.22,141.91 L417.52,142.00 L417.81,142.09 L418.08,142.17 L418.32,142.26 L418.53,142.34 L418.71,142.43 L418.84,142.51 L418.90,142.60 L420.10,142.60 L420.16,142.51 L420.29,142.43 L420.47,142.34 L420.68,142.26 L420.92,142.17 L421.19,142.09 L421.48,142.00 L421.78,141.91 L422.10,141.83 L422.43,141.74 L422.77,141.66 L423.11,141.57 L423.44,141.49 L423.78,141.40 L424.10,141.31 L424.42,141.23 L424.72,141.14 L425.00,141.06 L425.27,140.97 L425.52,140.89 L425.74,140.80 L425.94,140.71 L426.10,140.63 L426.25,140.54 L426.36,140.46 L426.44,140.37 L426.48,140.29 L426.50,140.20 L426.46,139.95 L426.33,139.69 L426.11,139.44 L425.82,139.19 L425.47,138.93 L425.06,138.68 L424.60,138.42 L424.11,138.17 L423.61,137.92 L423.10,137.66 L422.60,137.41 L422.12,137.16 L421.66,136.90 L421.25,136.65 L420.88,136.40 L420.56,136.14 L420.28,135.89 L420.06,135.64 L419.88,135.38 L419.85,135.13 L419.85,134.88 L419.85,134.62 L419.85,134.37 L419.85,134.11 L419.85,133.86 L419.85,133.61 L419.85,133.35 L419.85,133.10 Z" fill="#169E98"/>
<rect x="418.90" y="142.40" width="1.20" height="9.20" fill="#169E98"/>
<line x1="419.50" y1="135.00" x2="419.50" y2="142.60" stroke="#fff" stroke-width="0.4" opacity="0.85"/>
<rect x="417.60" y="139.00" width="3.8" height="2.30" fill="#169E98" stroke="#fff" stroke-width="0.55"/>
<line x1="417.60" y1="140.15" x2="421.40" y2="140.15" stroke="#fff" stroke-width="0.55"/>
<path d="M432.45,135.10 L432.45,135.38 L432.45,135.65 L432.45,135.92 L432.38,136.20 L432.18,136.47 L431.94,136.75 L431.68,137.03 L431.40,137.30 L431.10,137.57 L430.78,137.85 L430.45,138.12 L430.11,138.40 L429.77,138.68 L429.42,138.95 L429.09,139.22 L428.75,139.50 L428.44,139.78 L428.13,140.05 L427.84,140.33 L427.58,140.60 L427.34,140.88 L427.12,141.15 L426.94,141.43 L426.78,141.70 L426.66,141.98 L426.57,142.25 L426.52,142.53 L426.50,142.80 L426.52,143.07 L426.57,143.34 L426.66,143.61 L426.78,143.89 L426.94,144.16 L427.13,144.43 L427.34,144.70 L427.58,144.97 L427.85,145.24 L428.13,145.51 L428.43,145.79 L428.74,146.06 L429.05,146.33 L429.38,146.60 L429.70,146.87 L430.01,147.14 L430.32,147.41 L430.62,147.69 L430.90,147.96 L431.17,148.23 L431.41,148.50 L431.62,148.77 L431.81,149.04 L431.97,149.31 L432.09,149.59 L432.18,149.86 L432.23,150.13 L432.25,150.40 L433.35,150.40 L433.37,150.13 L433.42,149.86 L433.51,149.59 L433.63,149.31 L433.79,149.04 L433.98,148.77 L434.19,148.50 L434.43,148.23 L434.70,147.96 L434.98,147.69 L435.28,147.41 L435.59,147.14 L435.90,146.87 L436.23,146.60 L436.55,146.33 L436.86,146.06 L437.17,145.79 L437.47,145.51 L437.75,145.24 L438.02,144.97 L438.26,144.70 L438.47,144.43 L438.66,144.16 L438.82,143.89 L438.94,143.61 L439.03,143.34 L439.08,143.07 L439.10,142.80 L439.08,142.53 L439.03,142.25 L438.94,141.98 L438.82,141.70 L438.66,141.43 L438.48,141.15 L438.26,140.88 L438.02,140.60 L437.76,140.33 L437.47,140.05 L437.16,139.78 L436.85,139.50 L436.51,139.22 L436.18,138.95 L435.83,138.68 L435.49,138.40 L435.15,138.12 L434.82,137.85 L434.50,137.57 L434.20,137.30 L433.92,137.03 L433.66,136.75 L433.42,136.47 L433.22,136.20 L433.15,135.92 L433.15,135.65 L433.15,135.38 L433.15,135.10 Z" fill="#EFA45F"/>
<rect x="432.25" y="150.20" width="1.10" height="9.50" fill="#F3BD8A"/>
<line x1="432.80" y1="136.80" x2="432.80" y2="149.50" stroke="#fff" stroke-width="0.4" opacity="0.85"/>
<rect x="430.90" y="140.80" width="3.8" height="3.70" fill="#EFA45F" stroke="#fff" stroke-width="0.55"/>
<line x1="430.90" y1="142.65" x2="434.70" y2="142.65" stroke="#fff" stroke-width="0.55"/>
<path d="M449.15,152.40 L449.15,152.76 L449.15,153.12 L449.15,153.48 L449.15,153.84 L449.15,154.20 L449.15,154.56 L449.02,154.93 L448.82,155.29 L448.58,155.65 L448.30,156.01 L447.99,156.37 L447.64,156.73 L447.25,157.09 L446.85,157.45 L446.42,157.81 L445.99,158.17 L445.54,158.53 L445.11,158.89 L444.68,159.25 L444.27,159.61 L443.89,159.97 L443.55,160.34 L443.24,160.70 L442.98,161.06 L442.77,161.42 L442.62,161.78 L442.53,162.14 L442.50,162.50 L442.52,162.86 L442.58,163.23 L442.68,163.59 L442.82,163.96 L442.99,164.32 L443.20,164.69 L443.44,165.05 L443.70,165.41 L444.00,165.78 L444.31,166.14 L444.64,166.51 L444.99,166.87 L445.34,167.24 L445.70,167.60 L446.06,167.96 L446.41,168.33 L446.76,168.69 L447.09,169.06 L447.40,169.42 L447.70,169.79 L447.96,170.15 L448.20,170.51 L448.41,170.88 L448.58,171.24 L448.72,171.61 L448.82,171.97 L448.88,172.34 L448.90,172.70 L450.10,172.70 L450.12,172.34 L450.18,171.97 L450.28,171.61 L450.42,171.24 L450.59,170.88 L450.80,170.51 L451.04,170.15 L451.30,169.79 L451.60,169.42 L451.91,169.06 L452.24,168.69 L452.59,168.33 L452.94,167.96 L453.30,167.60 L453.66,167.24 L454.01,166.87 L454.36,166.51 L454.69,166.14 L455.00,165.78 L455.30,165.41 L455.56,165.05 L455.80,164.69 L456.01,164.32 L456.18,163.96 L456.32,163.59 L456.42,163.23 L456.48,162.86 L456.50,162.50 L456.47,162.14 L456.38,161.78 L456.23,161.42 L456.02,161.06 L455.76,160.70 L455.45,160.34 L455.11,159.97 L454.73,159.61 L454.32,159.25 L453.89,158.89 L453.46,158.53 L453.01,158.17 L452.58,157.81 L452.15,157.45 L451.75,157.09 L451.36,156.73 L451.01,156.37 L450.70,156.01 L450.42,155.65 L450.18,155.29 L449.98,154.93 L449.85,154.56 L449.85,154.20 L449.85,153.84 L449.85,153.48 L449.85,153.12 L449.85,152.76 L449.85,152.40 Z" fill="#169E98"/>
<rect x="448.90" y="172.50" width="1.20" height="18.00" fill="#169E98"/>
<line x1="449.50" y1="155.50" x2="449.50" y2="170.00" stroke="#fff" stroke-width="0.4" opacity="0.85"/>
<rect x="447.60" y="159.50" width="3.8" height="5.50" fill="#169E98" stroke="#fff" stroke-width="0.55"/>
<line x1="447.60" y1="162.25" x2="451.40" y2="162.25" stroke="#fff" stroke-width="0.55"/>
<path d="M462.45,143.30 L462.45,144.00 L462.45,144.71 L462.45,145.41 L462.45,146.11 L462.45,146.82 L462.45,147.52 L462.45,148.23 L462.45,148.93 L462.45,149.63 L462.37,150.34 L462.18,151.04 L461.93,151.74 L461.63,152.45 L461.27,153.15 L460.85,153.85 L460.39,154.56 L459.88,155.26 L459.35,155.96 L458.79,156.67 L458.23,157.37 L457.69,158.07 L457.17,158.78 L456.70,159.48 L456.29,160.19 L455.95,160.89 L455.70,161.59 L455.55,162.30 L455.50,163.00 L455.51,163.38 L455.56,163.76 L455.62,164.15 L455.72,164.53 L455.84,164.91 L455.99,165.29 L456.16,165.68 L456.36,166.06 L456.57,166.44 L456.81,166.82 L457.07,167.20 L457.35,167.59 L457.64,167.97 L457.95,168.35 L458.27,168.73 L458.60,169.11 L458.94,169.50 L459.28,169.88 L459.62,170.26 L459.97,170.64 L460.31,171.02 L460.65,171.41 L460.98,171.79 L461.29,172.17 L461.59,172.55 L461.86,172.94 L462.09,173.32 L462.25,173.70 L463.35,173.70 L463.51,173.32 L463.74,172.94 L464.01,172.55 L464.31,172.17 L464.62,171.79 L464.95,171.41 L465.29,171.02 L465.63,170.64 L465.98,170.26 L466.32,169.88 L466.66,169.50 L467.00,169.11 L467.33,168.73 L467.65,168.35 L467.96,167.97 L468.25,167.59 L468.53,167.20 L468.79,166.82 L469.03,166.44 L469.24,166.06 L469.44,165.68 L469.61,165.29 L469.76,164.91 L469.88,164.53 L469.98,164.15 L470.04,163.76 L470.09,163.38 L470.10,163.00 L470.05,162.30 L469.90,161.59 L469.65,160.89 L469.31,160.19 L468.90,159.48 L468.43,158.78 L467.91,158.07 L467.37,157.37 L466.81,156.67 L466.25,155.96 L465.72,155.26 L465.21,154.56 L464.75,153.85 L464.33,153.15 L463.97,152.45 L463.67,151.74 L463.42,151.04 L463.23,150.34 L463.15,149.63 L463.15,148.93 L463.15,148.23 L463.15,147.52 L463.15,146.82 L463.15,146.11 L463.15,145.41 L463.15,144.71 L463.15,144.00 L463.15,143.30 Z" fill="#EFA45F"/>
<rect x="462.25" y="173.50" width="1.10" height="17.00" fill="#F3BD8A"/>
<line x1="462.80" y1="155.00" x2="462.80" y2="171.00" stroke="#fff" stroke-width="0.4" opacity="0.85"/>
<rect x="460.90" y="159.00" width="3.8" height="7.00" fill="#EFA45F" stroke="#fff" stroke-width="0.55"/>
<line x1="460.90" y1="162.50" x2="464.70" y2="162.50" stroke="#fff" stroke-width="0.55"/>
<path d="M473.20,160.4 C476.50,159.2 482.50,159.2 485.80,160.4 C482.50,161.7 482.50,161.7 479.50,161.9 C476.50,161.7 476.50,161.7 473.20,160.4 Z" fill="#169E98"/>
<rect x="478.80" y="160.00" width="1.40" height="6.20" fill="#169E98"/>
<rect x="476.20" y="165.30" width="6.60" height="1.40" fill="#169E98"/>
<path d="M492.45,149.30 L492.45,149.74 L492.45,150.17 L492.40,150.61 L492.17,151.04 L491.90,151.48 L491.61,151.91 L491.29,152.35 L490.96,152.79 L490.61,153.22 L490.25,153.66 L489.88,154.09 L489.51,154.53 L489.14,154.96 L488.78,155.40 L488.42,155.84 L488.08,156.27 L487.75,156.71 L487.44,157.14 L487.14,157.58 L486.88,158.01 L486.63,158.45 L486.42,158.89 L486.23,159.32 L486.08,159.76 L485.96,160.19 L485.87,160.63 L485.82,161.06 L485.80,161.50 L485.81,161.84 L485.86,162.18 L485.93,162.52 L486.03,162.86 L486.15,163.20 L486.30,163.54 L486.48,163.88 L486.68,164.21 L486.90,164.55 L487.14,164.89 L487.40,165.23 L487.68,165.57 L487.97,165.91 L488.28,166.25 L488.60,166.59 L488.92,166.93 L489.25,167.27 L489.58,167.61 L489.92,167.95 L490.25,168.29 L490.57,168.62 L490.88,168.96 L491.18,169.30 L491.46,169.64 L491.72,169.98 L491.95,170.32 L492.14,170.66 L492.25,171.00 L493.35,171.00 L493.46,170.66 L493.65,170.32 L493.88,169.98 L494.14,169.64 L494.42,169.30 L494.72,168.96 L495.03,168.62 L495.35,168.29 L495.68,167.95 L496.02,167.61 L496.35,167.27 L496.68,166.93 L497.00,166.59 L497.32,166.25 L497.63,165.91 L497.92,165.57 L498.20,165.23 L498.46,164.89 L498.70,164.55 L498.92,164.21 L499.12,163.88 L499.30,163.54 L499.45,163.20 L499.57,162.86 L499.67,162.52 L499.74,162.18 L499.79,161.84 L499.80,161.50 L499.78,161.06 L499.73,160.63 L499.64,160.19 L499.52,159.76 L499.37,159.32 L499.18,158.89 L498.97,158.45 L498.72,158.01 L498.46,157.58 L498.16,157.14 L497.85,156.71 L497.52,156.27 L497.18,155.84 L496.82,155.40 L496.46,154.96 L496.09,154.53 L495.72,154.09 L495.35,153.66 L494.99,153.22 L494.64,152.79 L494.31,152.35 L493.99,151.91 L493.70,151.48 L493.43,151.04 L493.20,150.61 L493.15,150.17 L493.15,149.74 L493.15,149.30 Z" fill="#EFA45F"/>
<rect x="492.25" y="170.80" width="1.10" height="16.70" fill="#F3BD8A"/>
<path d="M492.25,187.30 L492.21,187.68 L492.11,188.05 L491.99,188.43 L491.84,188.80 L491.66,189.18 L491.46,189.55 L491.24,189.93 L491.00,190.30 L494.60,190.30 L494.36,189.93 L494.14,189.55 L493.94,189.18 L493.76,188.80 L493.61,188.43 L493.49,188.05 L493.39,187.68 L493.35,187.30 Z" fill="#EFA45F"/>
<line x1="492.80" y1="155.50" x2="492.80" y2="170.00" stroke="#fff" stroke-width="0.4" opacity="0.85"/>
<rect x="490.90" y="159.50" width="3.8" height="5.50" fill="#EFA45F" stroke="#fff" stroke-width="0.55"/>
<line x1="490.90" y1="162.25" x2="494.70" y2="162.25" stroke="#fff" stroke-width="0.55"/>
<path d="M509.15,142.20 L509.15,142.35 L509.15,142.49 L509.15,142.64 L509.15,142.79 L509.15,142.93 L509.06,143.08 L508.87,143.22 L508.63,143.37 L508.36,143.52 L508.05,143.66 L507.72,143.81 L507.35,143.96 L506.96,144.10 L506.56,144.25 L506.14,144.40 L505.72,144.54 L505.30,144.69 L504.88,144.84 L504.48,144.98 L504.11,145.13 L503.76,145.28 L503.44,145.42 L503.16,145.57 L502.93,145.71 L502.74,145.86 L502.61,146.01 L502.53,146.15 L502.50,146.30 L502.52,146.45 L502.56,146.59 L502.64,146.74 L502.75,146.89 L502.89,147.03 L503.06,147.18 L503.25,147.33 L503.47,147.47 L503.71,147.62 L503.97,147.76 L504.25,147.91 L504.55,148.06 L504.86,148.20 L505.18,148.35 L505.51,148.50 L505.84,148.64 L506.17,148.79 L506.50,148.94 L506.83,149.08 L507.14,149.23 L507.45,149.38 L507.73,149.52 L507.99,149.67 L508.23,149.81 L508.44,149.96 L508.61,150.11 L508.74,150.25 L508.80,150.40 L510.20,150.40 L510.26,150.25 L510.39,150.11 L510.56,149.96 L510.77,149.81 L511.01,149.67 L511.27,149.52 L511.55,149.38 L511.86,149.23 L512.17,149.08 L512.50,148.94 L512.83,148.79 L513.16,148.64 L513.49,148.50 L513.82,148.35 L514.14,148.20 L514.45,148.06 L514.75,147.91 L515.03,147.76 L515.29,147.62 L515.53,147.47 L515.75,147.33 L515.94,147.18 L516.11,147.03 L516.25,146.89 L516.36,146.74 L516.44,146.59 L516.48,146.45 L516.50,146.30 L516.47,146.15 L516.39,146.01 L516.26,145.86 L516.07,145.71 L515.84,145.57 L515.56,145.42 L515.24,145.28 L514.89,145.13 L514.52,144.98 L514.12,144.84 L513.70,144.69 L513.28,144.54 L512.86,144.40 L512.44,144.25 L512.04,144.10 L511.65,143.96 L511.28,143.81 L510.95,143.66 L510.64,143.52 L510.37,143.37 L510.13,143.22 L509.94,143.08 L509.85,142.93 L509.85,142.79 L509.85,142.64 L509.85,142.49 L509.85,142.35 L509.85,142.20 Z" fill="#169E98"/>
<rect x="508.80" y="150.20" width="1.40" height="40.30" fill="#169E98"/>
<line x1="509.50" y1="143.70" x2="509.50" y2="150.40" stroke="#fff" stroke-width="0.4" opacity="0.85"/>
<rect x="507.60" y="144.50" width="3.8" height="3.50" fill="#169E98" stroke="#fff" stroke-width="0.55"/>
<line x1="507.60" y1="146.25" x2="511.40" y2="146.25" stroke="#fff" stroke-width="0.55"/>
<path d="M522.45,144.30 L522.45,144.55 L522.45,144.81 L522.45,145.06 L522.45,145.31 L522.45,145.57 L522.45,145.82 L522.32,146.08 L522.12,146.33 L521.88,146.58 L521.60,146.84 L521.29,147.09 L520.94,147.34 L520.55,147.60 L520.15,147.85 L519.72,148.10 L519.29,148.36 L518.84,148.61 L518.41,148.86 L517.98,149.12 L517.57,149.37 L517.19,149.62 L516.85,149.88 L516.54,150.13 L516.28,150.39 L516.07,150.64 L515.92,150.89 L515.83,151.15 L515.80,151.40 L515.82,151.65 L515.88,151.91 L515.98,152.16 L516.12,152.41 L516.29,152.67 L516.50,152.92 L516.74,153.18 L517.01,153.43 L517.31,153.68 L517.63,153.94 L517.96,154.19 L518.31,154.44 L518.66,154.70 L519.03,154.95 L519.39,155.20 L519.74,155.46 L520.09,155.71 L520.42,155.96 L520.74,156.22 L521.04,156.47 L521.31,156.72 L521.55,156.98 L521.76,157.23 L521.93,157.49 L522.07,157.74 L522.17,157.99 L522.23,158.25 L522.25,158.50 L523.35,158.50 L523.37,158.25 L523.43,157.99 L523.53,157.74 L523.67,157.49 L523.84,157.23 L524.05,156.98 L524.29,156.72 L524.56,156.47 L524.86,156.22 L525.18,155.96 L525.51,155.71 L525.86,155.46 L526.21,155.20 L526.58,154.95 L526.94,154.70 L527.29,154.44 L527.64,154.19 L527.97,153.94 L528.29,153.68 L528.59,153.43 L528.86,153.18 L529.10,152.92 L529.31,152.67 L529.48,152.41 L529.62,152.16 L529.72,151.91 L529.78,151.65 L529.80,151.40 L529.77,151.15 L529.68,150.89 L529.53,150.64 L529.32,150.39 L529.06,150.13 L528.75,149.88 L528.41,149.62 L528.03,149.37 L527.62,149.12 L527.19,148.86 L526.76,148.61 L526.31,148.36 L525.88,148.10 L525.45,147.85 L525.05,147.60 L524.66,147.34 L524.31,147.09 L524.00,146.84 L523.72,146.58 L523.48,146.33 L523.28,146.08 L523.15,145.82 L523.15,145.57 L523.15,145.31 L523.15,145.06 L523.15,144.81 L523.15,144.55 L523.15,144.30 Z" fill="#EFA45F"/>
<rect x="522.25" y="158.30" width="1.10" height="32.20" fill="#F3BD8A"/>
<line x1="522.80" y1="145.80" x2="522.80" y2="158.50" stroke="#fff" stroke-width="0.4" opacity="0.85"/>
<rect x="520.90" y="149.00" width="3.8" height="4.50" fill="#EFA45F" stroke="#fff" stroke-width="0.55"/>
<line x1="520.90" y1="151.25" x2="524.70" y2="151.25" stroke="#fff" stroke-width="0.55"/>
<path d="M539.15,145.30 L539.15,145.55 L539.15,145.81 L539.15,146.06 L539.15,146.31 L539.15,146.57 L539.15,146.82 L539.02,147.08 L538.82,147.33 L538.58,147.58 L538.30,147.84 L537.99,148.09 L537.64,148.34 L537.25,148.60 L536.85,148.85 L536.42,149.10 L535.99,149.36 L535.54,149.61 L535.11,149.86 L534.68,150.12 L534.27,150.37 L533.89,150.62 L533.55,150.88 L533.24,151.13 L532.98,151.39 L532.77,151.64 L532.62,151.89 L532.53,152.15 L532.50,152.40 L532.52,152.62 L532.58,152.84 L532.68,153.05 L532.82,153.27 L532.99,153.49 L533.20,153.71 L533.44,153.93 L533.70,154.14 L534.00,154.36 L534.31,154.58 L534.64,154.80 L534.99,155.01 L535.34,155.23 L535.70,155.45 L536.06,155.67 L536.41,155.89 L536.76,156.10 L537.09,156.32 L537.40,156.54 L537.70,156.76 L537.96,156.97 L538.20,157.19 L538.41,157.41 L538.58,157.63 L538.72,157.85 L538.82,158.06 L538.88,158.28 L538.90,158.50 L540.10,158.50 L540.12,158.28 L540.18,158.06 L540.28,157.85 L540.42,157.63 L540.59,157.41 L540.80,157.19 L541.04,156.97 L541.30,156.76 L541.60,156.54 L541.91,156.32 L542.24,156.10 L542.59,155.89 L542.94,155.67 L543.30,155.45 L543.66,155.23 L544.01,155.01 L544.36,154.80 L544.69,154.58 L545.00,154.36 L545.30,154.14 L545.56,153.93 L545.80,153.71 L546.01,153.49 L546.18,153.27 L546.32,153.05 L546.42,152.84 L546.48,152.62 L546.50,152.40 L546.47,152.15 L546.38,151.89 L546.23,151.64 L546.02,151.39 L545.76,151.13 L545.45,150.88 L545.11,150.62 L544.73,150.37 L544.32,150.12 L543.89,149.86 L543.46,149.61 L543.01,149.36 L542.58,149.10 L542.15,148.85 L541.75,148.60 L541.36,148.34 L541.01,148.09 L540.70,147.84 L540.42,147.58 L540.18,147.33 L539.98,147.08 L539.85,146.82 L539.85,146.57 L539.85,146.31 L539.85,146.06 L539.85,145.81 L539.85,145.55 L539.85,145.30 Z" fill="#169E98"/>
<rect x="538.90" y="158.30" width="1.20" height="7.50" fill="#169E98"/>
<line x1="539.50" y1="146.80" x2="539.50" y2="158.50" stroke="#fff" stroke-width="0.4" opacity="0.85"/>
<rect x="537.60" y="150.20" width="3.8" height="4.30" fill="#169E98" stroke="#fff" stroke-width="0.55"/>
<line x1="537.60" y1="152.35" x2="541.40" y2="152.35" stroke="#fff" stroke-width="0.55"/>
<path d="M552.45,146.30 L552.45,146.59 L552.45,146.88 L552.45,147.17 L552.45,147.46 L552.45,147.75 L552.45,148.04 L552.32,148.33 L552.12,148.61 L551.88,148.90 L551.60,149.19 L551.29,149.48 L550.94,149.77 L550.55,150.06 L550.15,150.35 L549.72,150.64 L549.29,150.93 L548.84,151.22 L548.41,151.51 L547.98,151.80 L547.57,152.09 L547.19,152.38 L546.85,152.66 L546.54,152.95 L546.28,153.24 L546.07,153.53 L545.92,153.82 L545.83,154.11 L545.80,154.40 L545.82,154.62 L545.88,154.84 L545.98,155.05 L546.12,155.27 L546.29,155.49 L546.50,155.71 L546.74,155.93 L547.01,156.14 L547.31,156.36 L547.63,156.58 L547.96,156.80 L548.31,157.01 L548.66,157.23 L549.03,157.45 L549.39,157.67 L549.74,157.89 L550.09,158.10 L550.42,158.32 L550.74,158.54 L551.04,158.76 L551.31,158.97 L551.55,159.19 L551.76,159.41 L551.93,159.63 L552.07,159.85 L552.17,160.06 L552.23,160.28 L552.25,160.50 L553.35,160.50 L553.37,160.28 L553.43,160.06 L553.53,159.85 L553.67,159.63 L553.84,159.41 L554.05,159.19 L554.29,158.97 L554.56,158.76 L554.86,158.54 L555.18,158.32 L555.51,158.10 L555.86,157.89 L556.21,157.67 L556.58,157.45 L556.94,157.23 L557.29,157.01 L557.64,156.80 L557.97,156.58 L558.29,156.36 L558.59,156.14 L558.86,155.93 L559.10,155.71 L559.31,155.49 L559.48,155.27 L559.62,155.05 L559.72,154.84 L559.78,154.62 L559.80,154.40 L559.77,154.11 L559.68,153.82 L559.53,153.53 L559.32,153.24 L559.06,152.95 L558.75,152.66 L558.41,152.38 L558.03,152.09 L557.62,151.80 L557.19,151.51 L556.76,151.22 L556.31,150.93 L555.88,150.64 L555.45,150.35 L555.05,150.06 L554.66,149.77 L554.31,149.48 L554.00,149.19 L553.72,148.90 L553.48,148.61 L553.28,148.33 L553.15,148.04 L553.15,147.75 L553.15,147.46 L553.15,147.17 L553.15,146.88 L553.15,146.59 L553.15,146.30 Z" fill="#EFA45F"/>
<rect x="552.25" y="160.30" width="1.10" height="30.20" fill="#F3BD8A"/>
<line x1="552.80" y1="148.00" x2="552.80" y2="160.50" stroke="#fff" stroke-width="0.4" opacity="0.85"/>
<rect x="550.90" y="152.00" width="3.8" height="4.50" fill="#EFA45F" stroke="#fff" stroke-width="0.55"/>
<line x1="550.90" y1="154.25" x2="554.70" y2="154.25" stroke="#fff" stroke-width="0.55"/>
<path d="M569.50,156.2 C572.00,160 573.70,163 573.30,166.6 C572.90,169 571.90,170 571.90,172 L571.90,184.5 C573.00,187.5 576.00,189 576.70,190.5 L562.30,190.5 C563.00,189 566.00,187.5 567.10,184.5 L567.10,172 C567.10,170 566.10,169 565.70,166.6 C565.30,163 567.00,160 569.50,156.2 Z" fill="#169E98"/>
<line x1="567.50" y1="167.00" x2="571.50" y2="167.00" stroke="#fff" stroke-width="0.6"/>
<line x1="571.50" y1="167.00" x2="571.50" y2="186.00" stroke="#fff" stroke-width="0.6"/>
<line x1="567.50" y1="167.00" x2="567.50" y2="186.00" stroke="#fff" stroke-width="0.6"/>
<path d="M582.80,154.4 C586.80,157 589.80,161 589.80,166 C589.80,171 585.80,175 582.80,177.7 C579.80,175 575.80,171 575.80,166 C575.80,161 578.80,157 582.80,154.4 Z" fill="#EFA45F"/>
<rect x="580.80" y="162.5" width="4" height="8" fill="#EFA45F" stroke="#fff" stroke-width="0.6"/>
<line x1="580.80" y1="166.50" x2="584.80" y2="166.50" stroke="#fff" stroke-width="0.6"/>
<line x1="582.80" y1="158.00" x2="582.80" y2="162.50" stroke="#fff" stroke-width="0.45"/>
<line x1="582.80" y1="170.50" x2="582.80" y2="175.00" stroke="#fff" stroke-width="0.45"/>
<path d="M599.15,152.40 L599.15,152.72 L599.15,153.05 L599.15,153.38 L599.15,153.70 L599.15,154.03 L599.15,154.35 L599.02,154.68 L598.82,155.00 L598.58,155.33 L598.30,155.65 L597.99,155.97 L597.64,156.30 L597.25,156.62 L596.85,156.95 L596.42,157.28 L595.99,157.60 L595.54,157.93 L595.11,158.25 L594.68,158.57 L594.27,158.90 L593.89,159.22 L593.55,159.55 L593.24,159.88 L592.98,160.20 L592.77,160.53 L592.62,160.85 L592.53,161.18 L592.50,161.50 L592.52,161.72 L592.58,161.94 L592.68,162.15 L592.82,162.37 L592.99,162.59 L593.20,162.81 L593.44,163.03 L593.70,163.24 L594.00,163.46 L594.31,163.68 L594.64,163.90 L594.99,164.11 L595.34,164.33 L595.70,164.55 L596.06,164.77 L596.41,164.99 L596.76,165.20 L597.09,165.42 L597.40,165.64 L597.70,165.86 L597.96,166.07 L598.20,166.29 L598.41,166.51 L598.58,166.73 L598.72,166.95 L598.82,167.16 L598.88,167.38 L598.90,167.60 L600.10,167.60 L600.12,167.38 L600.18,167.16 L600.28,166.95 L600.42,166.73 L600.59,166.51 L600.80,166.29 L601.04,166.07 L601.30,165.86 L601.60,165.64 L601.91,165.42 L602.24,165.20 L602.59,164.99 L602.94,164.77 L603.30,164.55 L603.66,164.33 L604.01,164.11 L604.36,163.90 L604.69,163.68 L605.00,163.46 L605.30,163.24 L605.56,163.03 L605.80,162.81 L606.01,162.59 L606.18,162.37 L606.32,162.15 L606.42,161.94 L606.48,161.72 L606.50,161.50 L606.47,161.18 L606.38,160.85 L606.23,160.53 L606.02,160.20 L605.76,159.88 L605.45,159.55 L605.11,159.22 L604.73,158.90 L604.32,158.57 L603.89,158.25 L603.46,157.93 L603.01,157.60 L602.58,157.28 L602.15,156.95 L601.75,156.62 L601.36,156.30 L601.01,155.97 L600.70,155.65 L600.42,155.33 L600.18,155.00 L599.98,154.68 L599.85,154.35 L599.85,154.03 L599.85,153.70 L599.85,153.38 L599.85,153.05 L599.85,152.72 L599.85,152.40 Z" fill="#169E98"/>
<rect x="598.90" y="167.40" width="1.20" height="23.10" fill="#169E98"/>
<line x1="599.50" y1="154.80" x2="599.50" y2="167.60" stroke="#fff" stroke-width="0.4" opacity="0.85"/>
<rect x="597.60" y="158.80" width="3.8" height="4.70" fill="#169E98" stroke="#fff" stroke-width="0.55"/>
<line x1="597.60" y1="161.15" x2="601.40" y2="161.15" stroke="#fff" stroke-width="0.55"/>
<path d="M612.45,148.30 L612.45,148.77 L612.45,149.24 L612.45,149.71 L612.45,150.19 L612.45,150.66 L612.45,151.13 L612.32,151.60 L612.12,152.07 L611.88,152.54 L611.60,153.01 L611.29,153.49 L610.94,153.96 L610.55,154.43 L610.15,154.90 L609.72,155.37 L609.29,155.84 L608.84,156.31 L608.41,156.79 L607.98,157.26 L607.57,157.73 L607.19,158.20 L606.85,158.67 L606.54,159.14 L606.28,159.61 L606.07,160.09 L605.92,160.56 L605.83,161.03 L605.80,161.50 L605.82,161.86 L605.88,162.23 L605.98,162.59 L606.12,162.96 L606.29,163.32 L606.50,163.69 L606.74,164.05 L607.01,164.41 L607.31,164.78 L607.63,165.14 L607.96,165.51 L608.31,165.87 L608.66,166.24 L609.03,166.60 L609.39,166.96 L609.74,167.33 L610.09,167.69 L610.42,168.06 L610.74,168.42 L611.04,168.79 L611.31,169.15 L611.55,169.51 L611.76,169.88 L611.93,170.24 L612.07,170.61 L612.17,170.97 L612.23,171.34 L612.25,171.70 L613.35,171.70 L613.37,171.34 L613.43,170.97 L613.53,170.61 L613.67,170.24 L613.84,169.88 L614.05,169.51 L614.29,169.15 L614.56,168.79 L614.86,168.42 L615.18,168.06 L615.51,167.69 L615.86,167.33 L616.21,166.96 L616.58,166.60 L616.94,166.24 L617.29,165.87 L617.64,165.51 L617.97,165.14 L618.29,164.78 L618.59,164.41 L618.86,164.05 L619.10,163.69 L619.31,163.32 L619.48,162.96 L619.62,162.59 L619.72,162.23 L619.78,161.86 L619.80,161.50 L619.77,161.03 L619.68,160.56 L619.53,160.09 L619.32,159.61 L619.06,159.14 L618.75,158.67 L618.41,158.20 L618.03,157.73 L617.62,157.26 L617.19,156.79 L616.76,156.31 L616.31,155.84 L615.88,155.37 L615.45,154.90 L615.05,154.43 L614.66,153.96 L614.31,153.49 L614.00,153.01 L613.72,152.54 L613.48,152.07 L613.28,151.60 L613.15,151.13 L613.15,150.66 L613.15,150.19 L613.15,149.71 L613.15,149.24 L613.15,148.77 L613.15,148.30 Z" fill="#EFA45F"/>
<rect x="612.25" y="171.50" width="1.10" height="19.00" fill="#F3BD8A"/>
<line x1="612.80" y1="153.50" x2="612.80" y2="170.00" stroke="#fff" stroke-width="0.4" opacity="0.85"/>
<rect x="610.90" y="157.50" width="3.8" height="7.50" fill="#EFA45F" stroke="#fff" stroke-width="0.55"/>
<line x1="610.90" y1="161.25" x2="614.70" y2="161.25" stroke="#fff" stroke-width="0.55"/>
<path d="M629.15,148.30 L629.15,148.63 L629.15,148.96 L629.15,149.29 L629.10,149.61 L628.89,149.94 L628.65,150.27 L628.37,150.60 L628.07,150.93 L627.74,151.26 L627.39,151.59 L627.02,151.91 L626.65,152.24 L626.26,152.57 L625.88,152.90 L625.49,153.23 L625.11,153.56 L624.75,153.89 L624.40,154.21 L624.07,154.54 L623.76,154.87 L623.48,155.20 L623.23,155.53 L623.01,155.86 L622.83,156.19 L622.69,156.51 L622.58,156.84 L622.52,157.17 L622.50,157.50 L622.52,157.75 L622.58,158.01 L622.68,158.26 L622.82,158.51 L622.99,158.77 L623.20,159.02 L623.44,159.28 L623.70,159.53 L624.00,159.78 L624.31,160.04 L624.64,160.29 L624.99,160.54 L625.34,160.80 L625.70,161.05 L626.06,161.30 L626.41,161.56 L626.76,161.81 L627.09,162.06 L627.40,162.32 L627.70,162.57 L627.96,162.82 L628.20,163.08 L628.41,163.33 L628.58,163.59 L628.72,163.84 L628.82,164.09 L628.88,164.35 L628.90,164.60 L630.10,164.60 L630.12,164.35 L630.18,164.09 L630.28,163.84 L630.42,163.59 L630.59,163.33 L630.80,163.08 L631.04,162.82 L631.30,162.57 L631.60,162.32 L631.91,162.06 L632.24,161.81 L632.59,161.56 L632.94,161.30 L633.30,161.05 L633.66,160.80 L634.01,160.54 L634.36,160.29 L634.69,160.04 L635.00,159.78 L635.30,159.53 L635.56,159.28 L635.80,159.02 L636.01,158.77 L636.18,158.51 L636.32,158.26 L636.42,158.01 L636.48,157.75 L636.50,157.50 L636.48,157.17 L636.42,156.84 L636.31,156.51 L636.17,156.19 L635.99,155.86 L635.77,155.53 L635.52,155.20 L635.24,154.87 L634.93,154.54 L634.60,154.21 L634.25,153.89 L633.89,153.56 L633.51,153.23 L633.12,152.90 L632.74,152.57 L632.35,152.24 L631.98,151.91 L631.61,151.59 L631.26,151.26 L630.93,150.93 L630.63,150.60 L630.35,150.27 L630.11,149.94 L629.90,149.61 L629.85,149.29 L629.85,148.96 L629.85,148.63 L629.85,148.30 Z" fill="#169E98"/>
<rect x="628.90" y="164.40" width="1.20" height="26.10" fill="#169E98"/>
<line x1="629.50" y1="151.30" x2="629.50" y2="164.30" stroke="#fff" stroke-width="0.4" opacity="0.85"/>
<rect x="627.60" y="155.30" width="3.8" height="4.00" fill="#169E98" stroke="#fff" stroke-width="0.55"/>
<line x1="627.60" y1="157.30" x2="631.40" y2="157.30" stroke="#fff" stroke-width="0.55"/>
<path d="M642.45,149.30 L642.45,149.70 L642.45,150.10 L642.45,150.50 L642.45,150.90 L642.45,151.30 L642.45,151.70 L642.32,152.10 L642.12,152.50 L641.88,152.90 L641.60,153.30 L641.29,153.70 L640.94,154.10 L640.55,154.50 L640.15,154.90 L639.72,155.30 L639.29,155.70 L638.84,156.10 L638.41,156.50 L637.98,156.90 L637.57,157.30 L637.19,157.70 L636.85,158.10 L636.54,158.50 L636.28,158.90 L636.07,159.30 L635.92,159.70 L635.83,160.10 L635.80,160.50 L635.82,160.94 L635.88,161.37 L635.98,161.81 L636.12,162.24 L636.29,162.68 L636.50,163.11 L636.74,163.55 L637.01,163.99 L637.31,164.42 L637.63,164.86 L637.96,165.29 L638.31,165.73 L638.66,166.16 L639.03,166.60 L639.39,167.04 L639.74,167.47 L640.09,167.91 L640.42,168.34 L640.74,168.78 L641.04,169.21 L641.31,169.65 L641.55,170.09 L641.76,170.52 L641.93,170.96 L642.07,171.39 L642.17,171.83 L642.23,172.26 L642.25,172.70 L643.35,172.70 L643.37,172.26 L643.43,171.83 L643.53,171.39 L643.67,170.96 L643.84,170.52 L644.05,170.09 L644.29,169.65 L644.56,169.21 L644.86,168.78 L645.18,168.34 L645.51,167.91 L645.86,167.47 L646.21,167.04 L646.58,166.60 L646.94,166.16 L647.29,165.73 L647.64,165.29 L647.97,164.86 L648.29,164.42 L648.59,163.99 L648.86,163.55 L649.10,163.11 L649.31,162.68 L649.48,162.24 L649.62,161.81 L649.72,161.37 L649.78,160.94 L649.80,160.50 L649.77,160.10 L649.68,159.70 L649.53,159.30 L649.32,158.90 L649.06,158.50 L648.75,158.10 L648.41,157.70 L648.03,157.30 L647.62,156.90 L647.19,156.50 L646.76,156.10 L646.31,155.70 L645.88,155.30 L645.45,154.90 L645.05,154.50 L644.66,154.10 L644.31,153.70 L644.00,153.30 L643.72,152.90 L643.48,152.50 L643.28,152.10 L643.15,151.70 L643.15,151.30 L643.15,150.90 L643.15,150.50 L643.15,150.10 L643.15,149.70 L643.15,149.30 Z" fill="#EFA45F"/>
<rect x="642.25" y="172.50" width="1.10" height="14.50" fill="#F3BD8A"/>
<path d="M642.25,186.80 L642.21,187.24 L642.11,187.68 L641.99,188.11 L641.84,188.55 L641.66,188.99 L641.46,189.43 L641.24,189.86 L641.00,190.30 L644.60,190.30 L644.36,189.86 L644.14,189.43 L643.94,188.99 L643.76,188.55 L643.61,188.11 L643.49,187.68 L643.39,187.24 L643.35,186.80 Z" fill="#EFA45F"/>
<line x1="642.80" y1="153.00" x2="642.80" y2="168.50" stroke="#fff" stroke-width="0.4" opacity="0.85"/>
<rect x="640.90" y="157.00" width="3.8" height="6.50" fill="#EFA45F" stroke="#fff" stroke-width="0.55"/>
<line x1="640.90" y1="160.25" x2="644.70" y2="160.25" stroke="#fff" stroke-width="0.55"/>
<path d="M659.50,157.4 C660.90,160 661.30,163 661.40,166 L661.40,184.3 C663.00,187.3 666.00,189 666.70,190.5 L652.30,190.5 C653.00,189 656.00,187.3 657.60,184.3 L657.60,166 C657.70,163 658.10,160 659.50,157.4 Z" fill="#169E98"/>
<line x1="659.50" y1="167.00" x2="659.50" y2="188.00" stroke="#fff" stroke-width="0.5"/>
<path d="M672.80,156.4 C675.30,160 676.60,165 676.40,170 C676.20,173 675.40,175 675.40,177 L675.40,183.5 C676.60,186.5 679.30,189 680.00,190.5 L665.60,190.5 C666.30,189 669.00,186.5 670.20,183.5 L670.20,177 C670.20,175 669.40,173 669.20,170 C669.00,165 670.30,160 672.80,156.4 Z" fill="#EFA45F"/>
<rect x="670.80" y="170" width="4" height="18" fill="none" stroke="#fff" stroke-width="0.6"/>
<line x1="672.80" y1="160.00" x2="672.80" y2="170.00" stroke="#fff" stroke-width="0.5"/>
<rect x="616.40" y="213.00" width="8.70" height="8.70" fill="#169E98"/>
<text transform="translate(628.80,219.90) scale(0.8850,1)" font-size="8.81" fill="#231F20" stroke="#231F20" stroke-width="0.08">SNV</text>
<rect x="653.60" y="213.00" width="8.50" height="8.70" fill="#EFA45F"/>
<text transform="translate(666.30,219.90) scale(0.8850,1)" font-size="8.81" fill="#231F20" stroke="#231F20" stroke-width="0.08">SV</text>
<text transform="translate(0.00,234.00) scale(1.0000,1)" font-size="10.40" fill="#000" stroke="#000" stroke-width="0.08" font-weight="bold">c</text>
<text transform="translate(8.40,285.70) rotate(-90) scale(0.8850,1)" font-size="8.81" text-anchor="middle" fill="#231F20" stroke="#231F20" stroke-width="0.08">Tumour fraction</text>
<text transform="translate(16.70,285.30) rotate(-90) scale(0.8850,1)" font-size="8.81" text-anchor="middle" fill="#231F20" stroke="#231F20" stroke-width="0.08">(truncal SVs)</text>
<line x1="45.40" y1="245.50" x2="45.40" y2="324.80" stroke="#9a9a9a" stroke-width="0.9"/>
<line x1="45.40" y1="324.80" x2="157.20" y2="324.80" stroke="#9a9a9a" stroke-width="0.9"/>
<line x1="42.20" y1="248.50" x2="45.40" y2="248.50" stroke="#9a9a9a" stroke-width="0.9"/>
<text transform="translate(39.10,252.30) scale(0.8850,1)" font-size="8.59" text-anchor="end" fill="#231F20" stroke="#231F20" stroke-width="0.08">10<tspan font-size="5.84" dy="-3.3">0</tspan></text>
<line x1="42.20" y1="266.90" x2="45.40" y2="266.90" stroke="#9a9a9a" stroke-width="0.9"/>
<text transform="translate(39.10,270.70) scale(0.8850,1)" font-size="8.59" text-anchor="end" fill="#231F20" stroke="#231F20" stroke-width="0.08">10<tspan font-size="5.84" dy="-3.3">−1</tspan></text>
<line x1="42.20" y1="285.00" x2="45.40" y2="285.00" stroke="#9a9a9a" stroke-width="0.9"/>
<text transform="translate(39.10,288.80) scale(0.8850,1)" font-size="8.59" text-anchor="end" fill="#231F20" stroke="#231F20" stroke-width="0.08">10<tspan font-size="5.84" dy="-3.3">−2</tspan></text>
<line x1="42.20" y1="303.10" x2="45.40" y2="303.10" stroke="#9a9a9a" stroke-width="0.9"/>
<text transform="translate(39.10,306.90) scale(0.8850,1)" font-size="8.59" text-anchor="end" fill="#231F20" stroke="#231F20" stroke-width="0.08">10<tspan font-size="5.84" dy="-3.3">−3</tspan></text>
<line x1="42.20" y1="321.50" x2="45.40" y2="321.50" stroke="#9a9a9a" stroke-width="0.9"/>
<text transform="translate(39.10,324.40) scale(0.8850,1)" font-size="8.59" text-anchor="end" fill="#231F20" stroke="#231F20" stroke-width="0.08">0</text>
<line x1="50.40" y1="324.80" x2="50.40" y2="327.80" stroke="#9a9a9a" stroke-width="0.9"/>
<text transform="translate(50.40,338.00) scale(0.8850,1)" font-size="8.59" text-anchor="middle" fill="#231F20" stroke="#231F20" stroke-width="0.08">0</text>
<line x1="76.00" y1="324.80" x2="76.00" y2="327.80" stroke="#9a9a9a" stroke-width="0.9"/>
<text transform="translate(82.00,338.00) scale(0.8850,1)" font-size="8.59" text-anchor="end" fill="#231F20" stroke="#231F20" stroke-width="0.08">10<tspan font-size="5.84" dy="-3.3">−3</tspan></text>
<line x1="101.60" y1="324.80" x2="101.60" y2="327.80" stroke="#9a9a9a" stroke-width="0.9"/>
<text transform="translate(107.60,338.00) scale(0.8850,1)" font-size="8.59" text-anchor="end" fill="#231F20" stroke="#231F20" stroke-width="0.08">10<tspan font-size="5.84" dy="-3.3">−2</tspan></text>
<line x1="127.10" y1="324.80" x2="127.10" y2="327.80" stroke="#9a9a9a" stroke-width="0.9"/>
<text transform="translate(133.10,338.00) scale(0.8850,1)" font-size="8.59" text-anchor="end" fill="#231F20" stroke="#231F20" stroke-width="0.08">10<tspan font-size="5.84" dy="-3.3">−1</tspan></text>
<line x1="152.80" y1="324.80" x2="152.80" y2="327.80" stroke="#9a9a9a" stroke-width="0.9"/>
<text transform="translate(158.80,338.00) scale(0.8850,1)" font-size="8.59" text-anchor="end" fill="#231F20" stroke="#231F20" stroke-width="0.08">10<tspan font-size="5.84" dy="-3.3">0</tspan></text>
<text transform="translate(101.40,351.30) scale(0.8850,1)" font-size="8.81" text-anchor="middle" fill="#231F20" stroke="#231F20" stroke-width="0.08">Tumour fraction (<tspan font-style="italic">TP53</tspan>)</text>
<text transform="translate(49.40,251.30) scale(0.8850,1)" font-size="8.81" fill="#231F20" stroke="#231F20" stroke-width="0.08"><tspan font-style="italic">R</tspan> = 0.95, <tspan font-style="italic">P</tspan> &lt; 10<tspan font-size="5.88" dy="-3.3">−10</tspan></text>
<line x1="49.6" y1="321.4" x2="157.6" y2="246.4" stroke="#C62A31" stroke-width="1.75" stroke-dasharray="5.2,3.2"/>
<text transform="translate(57.00,311.00) rotate(-36) scale(0.8850,1)" font-size="8.81" fill="#231F20" stroke="#231F20" stroke-width="0.08" font-style="italic">y = x</text>
<circle cx="50.30" cy="297.20" r="2.15" fill="#6d6e6e" stroke="none" stroke-width="1" fill-opacity="0.85"/>
<circle cx="77.30" cy="293.00" r="2.15" fill="#6d6e6e" stroke="none" stroke-width="1" fill-opacity="0.85"/>
<circle cx="83.50" cy="302.30" r="2.15" fill="#6d6e6e" stroke="none" stroke-width="1" fill-opacity="0.85"/>
<circle cx="89.50" cy="296.30" r="2.15" fill="#6d6e6e" stroke="none" stroke-width="1" fill-opacity="0.85"/>
<circle cx="94.40" cy="294.60" r="2.15" fill="#6d6e6e" stroke="none" stroke-width="1" fill-opacity="0.85"/>
<circle cx="96.00" cy="289.00" r="2.15" fill="#6d6e6e" stroke="none" stroke-width="1" fill-opacity="0.85"/>
<circle cx="97.30" cy="284.90" r="2.15" fill="#6d6e6e" stroke="none" stroke-width="1" fill-opacity="0.85"/>
<circle cx="102.50" cy="287.70" r="2.15" fill="#6d6e6e" stroke="none" stroke-width="1" fill-opacity="0.85"/>
<circle cx="107.00" cy="285.40" r="2.15" fill="#6d6e6e" stroke="none" stroke-width="1" fill-opacity="0.85"/>
<circle cx="111.90" cy="283.60" r="2.15" fill="#6d6e6e" stroke="none" stroke-width="1" fill-opacity="0.85"/>
<circle cx="98.40" cy="276.00" r="2.15" fill="#6d6e6e" stroke="none" stroke-width="1" fill-opacity="0.85"/>
<circle cx="102.50" cy="277.60" r="2.15" fill="#6d6e6e" stroke="none" stroke-width="1" fill-opacity="0.85"/>
<circle cx="106.00" cy="275.60" r="2.15" fill="#6d6e6e" stroke="none" stroke-width="1" fill-opacity="0.85"/>
<circle cx="107.70" cy="276.30" r="2.15" fill="#6d6e6e" stroke="none" stroke-width="1" fill-opacity="0.85"/>
<circle cx="109.00" cy="276.80" r="2.15" fill="#6d6e6e" stroke="none" stroke-width="1" fill-opacity="0.85"/>
<circle cx="113.00" cy="271.60" r="2.15" fill="#6d6e6e" stroke="none" stroke-width="1" fill-opacity="0.85"/>
<circle cx="117.10" cy="273.90" r="2.15" fill="#6d6e6e" stroke="none" stroke-width="1" fill-opacity="0.85"/>
<circle cx="129.30" cy="260.20" r="2.15" fill="#6d6e6e" stroke="none" stroke-width="1" fill-opacity="0.85"/>
<circle cx="129.70" cy="265.90" r="2.15" fill="#6d6e6e" stroke="none" stroke-width="1" fill-opacity="0.85"/>
<circle cx="136.60" cy="263.00" r="2.15" fill="#6d6e6e" stroke="none" stroke-width="1" fill-opacity="0.85"/>
<circle cx="137.90" cy="259.70" r="2.15" fill="#6d6e6e" stroke="none" stroke-width="1" fill-opacity="0.85"/>
<circle cx="140.90" cy="256.00" r="2.15" fill="#6d6e6e" stroke="none" stroke-width="1" fill-opacity="0.85"/>
<text transform="translate(196.30,234.00) scale(1.0000,1)" font-size="10.40" fill="#000" stroke="#000" stroke-width="0.08" font-weight="bold">d</text>
<text transform="translate(204.30,295.50) rotate(-90) scale(0.8850,1)" font-size="8.81" text-anchor="middle" fill="#231F20" stroke="#231F20" stroke-width="0.08">Patient-specific probes</text>
<g transform="translate(221.30,230.80) scale(1.005)" fill="#B7D5EA">
<path d="M1.15,6.00 L1.20,8.30 C2.50,9.10 4.50,9.20 5.20,10.40 C5.90,11.80 5.90,15.50 6.20,18.80 C6.50,22.00 7.30,25.20 7.60,28.00 C7.90,29.60 7.40,30.60 6.80,30.20 C6.30,29.20 5.90,26.00 5.50,22.60 C5.10,19.50 4.90,16.20 4.50,14.60 C4.10,16.40 3.30,18.00 3.35,20.00 C3.40,22.00 4.80,24.00 4.80,26.60 C4.80,30.00 4.00,33.00 3.60,36.00 C3.30,38.50 3.40,40.50 3.10,41.60 L1.00,41.80 C1.00,39.00 1.30,35.00 1.00,31.00 C0.80,29.00 0.40,27.90 0.00,27.80 C-0.40,27.90 -0.80,29.00 -1.00,31.00 C-1.30,35.00 -1.00,39.00 -1.00,41.80 L-3.10,41.60 C-3.40,40.50 -3.30,38.50 -3.60,36.00 C-4.00,33.00 -4.80,30.00 -4.80,26.60 C-4.80,24.00 -3.40,22.00 -3.35,20.00 C-3.30,18.00 -4.10,16.40 -4.50,14.60 C-4.90,16.20 -5.10,19.50 -5.50,22.60 C-5.90,26.00 -6.30,29.20 -6.80,30.20 C-7.40,30.60 -7.90,29.60 -7.60,28.00 C-7.30,25.20 -6.50,22.00 -6.20,18.80 C-5.90,15.50 -5.90,11.80 -5.20,10.40 C-4.50,9.20 -2.50,9.10 -1.20,8.30 L-1.15,6.00 Z"/>
<ellipse cx="0" cy="3.5" rx="2.2" ry="3.0"/>
<circle cx="0.2" cy="1.0" r="1.2"/>
</g>
<g transform="translate(221.60,278.20) scale(0.995)" fill="#A6412F">
<path d="M1.15,6.00 L1.20,8.30 C2.50,9.10 4.50,9.20 5.20,10.40 C5.90,11.80 5.90,15.50 6.20,18.80 C6.50,22.00 7.30,25.20 7.60,28.00 C7.90,29.60 7.40,30.60 6.80,30.20 C6.30,29.20 5.90,26.00 5.50,22.60 C5.10,19.50 4.90,16.20 4.50,14.60 C4.10,16.40 3.30,18.00 3.35,20.00 C3.40,22.00 4.80,24.00 4.80,26.60 C4.80,30.00 4.00,33.00 3.60,36.00 C3.30,38.50 3.40,40.50 3.10,41.60 L1.00,41.80 C1.00,39.00 1.30,35.00 1.00,31.00 C0.80,29.00 0.40,27.90 0.00,27.80 C-0.40,27.90 -0.80,29.00 -1.00,31.00 C-1.30,35.00 -1.00,39.00 -1.00,41.80 L-3.10,41.60 C-3.40,40.50 -3.30,38.50 -3.60,36.00 C-4.00,33.00 -4.80,30.00 -4.80,26.60 C-4.80,24.00 -3.40,22.00 -3.35,20.00 C-3.30,18.00 -4.10,16.40 -4.50,14.60 C-4.90,16.20 -5.10,19.50 -5.50,22.60 C-5.90,26.00 -6.30,29.20 -6.80,30.20 C-7.40,30.60 -7.90,29.60 -7.60,28.00 C-7.30,25.20 -6.50,22.00 -6.20,18.80 C-5.90,15.50 -5.90,11.80 -5.20,10.40 C-4.50,9.20 -2.50,9.10 -1.20,8.30 L-1.15,6.00 Z"/>
<ellipse cx="0" cy="3.5" rx="2.2" ry="3.0"/>
<circle cx="0.2" cy="1.0" r="1.2"/>
</g>
<g transform="translate(221.60,328.20) scale(1.000)" fill="#B6D5C4">
<path d="M1.15,6.00 L1.20,8.30 C2.50,9.10 4.50,9.20 5.20,10.40 C5.90,11.80 5.90,15.50 6.20,18.80 C6.50,22.00 7.30,25.20 7.60,28.00 C7.90,29.60 7.40,30.60 6.80,30.20 C6.30,29.20 5.90,26.00 5.50,22.60 C5.10,19.50 4.90,16.20 4.50,14.60 C4.10,16.40 3.30,18.00 3.35,20.00 C3.40,22.00 4.80,24.00 4.80,26.60 C4.80,30.00 4.00,33.00 3.60,36.00 C3.30,38.50 3.40,40.50 3.10,41.60 L1.00,41.80 C1.00,39.00 1.30,35.00 1.00,31.00 C0.80,29.00 0.40,27.90 0.00,27.80 C-0.40,27.90 -0.80,29.00 -1.00,31.00 C-1.30,35.00 -1.00,39.00 -1.00,41.80 L-3.10,41.60 C-3.40,40.50 -3.30,38.50 -3.60,36.00 C-4.00,33.00 -4.80,30.00 -4.80,26.60 C-4.80,24.00 -3.40,22.00 -3.35,20.00 C-3.30,18.00 -4.10,16.40 -4.50,14.60 C-4.90,16.20 -5.10,19.50 -5.50,22.60 C-5.90,26.00 -6.30,29.20 -6.80,30.20 C-7.40,30.60 -7.90,29.60 -7.60,28.00 C-7.30,25.20 -6.50,22.00 -6.20,18.80 C-5.90,15.50 -5.90,11.80 -5.20,10.40 C-4.50,9.20 -2.50,9.10 -1.20,8.30 L-1.15,6.00 Z"/>
<ellipse cx="0" cy="3.5" rx="2.2" ry="3.0"/>
<circle cx="0.2" cy="1.0" r="1.2"/>
</g>
<text transform="translate(253.00,241.60) scale(0.8850,1)" font-size="8.81" text-anchor="middle" fill="#231F20" stroke="#231F20" stroke-width="0.08">Target 1</text>
<text transform="translate(253.00,289.60) scale(0.8850,1)" font-size="8.81" text-anchor="middle" fill="#231F20" stroke="#231F20" stroke-width="0.08">Target 1</text>
<text transform="translate(253.00,339.00) scale(0.8850,1)" font-size="8.81" text-anchor="middle" fill="#231F20" stroke="#231F20" stroke-width="0.08">Target 1</text>
<circle cx="250.80" cy="252.30" r="0.45" fill="#111" stroke="none" stroke-width="1"/>
<circle cx="253.00" cy="252.30" r="0.45" fill="#111" stroke="none" stroke-width="1"/>
<circle cx="255.20" cy="252.30" r="0.45" fill="#111" stroke="none" stroke-width="1"/>
<text transform="translate(253.20,269.50) scale(0.8850,1)" font-size="8.81" text-anchor="middle" fill="#231F20" stroke="#231F20" stroke-width="0.08">Target <tspan font-style="italic">N</tspan></text>
<circle cx="250.80" cy="297.00" r="0.45" fill="#111" stroke="none" stroke-width="1"/>
<circle cx="253.00" cy="297.00" r="0.45" fill="#111" stroke="none" stroke-width="1"/>
<circle cx="255.20" cy="297.00" r="0.45" fill="#111" stroke="none" stroke-width="1"/>
<text transform="translate(253.20,309.30) scale(0.8850,1)" font-size="8.81" text-anchor="middle" fill="#231F20" stroke="#231F20" stroke-width="0.08">Target <tspan font-style="italic">N</tspan></text>
<circle cx="250.80" cy="346.60" r="0.45" fill="#111" stroke="none" stroke-width="1"/>
<circle cx="253.00" cy="346.60" r="0.45" fill="#111" stroke="none" stroke-width="1"/>
<circle cx="255.20" cy="346.60" r="0.45" fill="#111" stroke="none" stroke-width="1"/>
<text transform="translate(253.20,359.30) scale(0.8850,1)" font-size="8.81" text-anchor="middle" fill="#231F20" stroke="#231F20" stroke-width="0.08">Target <tspan font-style="italic">N</tspan></text>
<line x1="277.80" y1="252.90" x2="317.01" y2="289.53" stroke="#b2b2b2" stroke-width="0.65"/>
<path d="M318.80,291.20 L315.22,289.91 L317.01,289.53 L317.27,287.71 Z" fill="#b2b2b2"/>
<line x1="277.80" y1="252.90" x2="317.74" y2="335.99" stroke="#b2b2b2" stroke-width="0.65"/>
<path d="M318.80,338.20 L315.93,335.70 L317.74,335.99 L318.64,334.40 Z" fill="#b2b2b2"/>
<line x1="277.80" y1="297.00" x2="317.04" y2="259.00" stroke="#b2b2b2" stroke-width="0.65"/>
<path d="M318.80,257.30 L317.33,260.81 L317.04,259.00 L315.24,258.66 Z" fill="#b2b2b2"/>
<line x1="277.80" y1="297.00" x2="317.19" y2="342.15" stroke="#b2b2b2" stroke-width="0.65"/>
<path d="M318.80,344.00 L315.37,342.35 L317.19,342.15 L317.63,340.38 Z" fill="#b2b2b2"/>
<line x1="277.80" y1="349.10" x2="317.74" y2="265.91" stroke="#b2b2b2" stroke-width="0.65"/>
<path d="M318.80,263.70 L318.64,267.50 L317.74,265.91 L315.93,266.21 Z" fill="#b2b2b2"/>
<line x1="277.80" y1="349.10" x2="317.21" y2="302.67" stroke="#b2b2b2" stroke-width="0.65"/>
<path d="M318.80,300.80 L317.68,304.44 L317.21,302.67 L315.39,302.50 Z" fill="#b2b2b2"/>
<line x1="277.80" y1="252.90" x2="318.86" y2="252.90" stroke="#222" stroke-width="1.0"/>
<path d="M321.20,252.90 L317.30,251.00 L318.47,252.90 L317.30,254.80 Z" fill="#222"/>
<line x1="277.80" y1="297.00" x2="318.86" y2="297.00" stroke="#222" stroke-width="1.0"/>
<path d="M321.20,297.00 L317.30,295.10 L318.47,297.00 L317.30,298.90 Z" fill="#222"/>
<line x1="277.80" y1="349.10" x2="318.86" y2="349.10" stroke="#222" stroke-width="1.0"/>
<path d="M321.20,349.10 L317.30,347.20 L318.47,349.10 L317.30,351.00 Z" fill="#222"/>
<g transform="translate(328.30,263.50) rotate(20) scale(1.0)">
<rect x="-1.80" y="-19.8" width="3.60" height="19.8" rx="1.70" fill="#7D5468" stroke="#A596A2" stroke-width="0.45"/>
<path d="M-1.0,-3 L1.0,-6 M-1.0,-7 L1.0,-10 M-1.0,-11 L1.0,-14 M-1.0,-15 L1.0,-18" stroke="#9C7F8E" stroke-width="0.5"/>
<rect x="-2.00" y="-21.3" width="4.00" height="1.6" fill="#A9DCEE"/>
<rect x="-2.50" y="-26.6" width="5.00" height="5.4" rx="1.0" fill="#E0582C"/>
</g>
<g transform="translate(328.30,307.90) rotate(20) scale(1.0)">
<rect x="-1.80" y="-19.8" width="3.60" height="19.8" rx="1.70" fill="#7D5468" stroke="#A596A2" stroke-width="0.45"/>
<path d="M-1.0,-3 L1.0,-6 M-1.0,-7 L1.0,-10 M-1.0,-11 L1.0,-14 M-1.0,-15 L1.0,-18" stroke="#9C7F8E" stroke-width="0.5"/>
<rect x="-2.00" y="-21.3" width="4.00" height="1.6" fill="#A9DCEE"/>
<rect x="-2.50" y="-26.6" width="5.00" height="5.4" rx="1.0" fill="#E0582C"/>
</g>
<g transform="translate(328.30,360.20) rotate(20) scale(1.0)">
<rect x="-1.80" y="-19.8" width="3.60" height="19.8" rx="1.70" fill="#7D5468" stroke="#A596A2" stroke-width="0.45"/>
<path d="M-1.0,-3 L1.0,-6 M-1.0,-7 L1.0,-10 M-1.0,-11 L1.0,-14 M-1.0,-15 L1.0,-18" stroke="#9C7F8E" stroke-width="0.5"/>
<rect x="-2.00" y="-21.3" width="4.00" height="1.6" fill="#A9DCEE"/>
<rect x="-2.50" y="-26.6" width="5.00" height="5.4" rx="1.0" fill="#E0582C"/>
</g>
<text transform="translate(370.30,234.10) scale(1.0000,1)" font-size="10.40" fill="#000" stroke="#000" stroke-width="0.08" font-weight="bold">e</text>
<text transform="translate(378.00,285.50) rotate(-90) scale(0.8850,1)" font-size="8.81" text-anchor="middle" fill="#231F20" stroke="#231F20" stroke-width="0.08">Per-patient error rate</text>
<line x1="405.60" y1="246.00" x2="405.60" y2="325.00" stroke="#9a9a9a" stroke-width="0.9"/>
<line x1="405.60" y1="325.00" x2="518.00" y2="325.00" stroke="#9a9a9a" stroke-width="0.9"/>
<line x1="402.40" y1="248.60" x2="405.60" y2="248.60" stroke="#9a9a9a" stroke-width="0.9"/>
<text transform="translate(399.40,251.70) scale(0.8850,1)" font-size="8.59" text-anchor="end" fill="#231F20" stroke="#231F20" stroke-width="0.08">10<tspan font-size="5.84" dy="-3.3">−2</tspan></text>
<line x1="402.40" y1="267.10" x2="405.60" y2="267.10" stroke="#9a9a9a" stroke-width="0.9"/>
<text transform="translate(399.40,270.20) scale(0.8850,1)" font-size="8.59" text-anchor="end" fill="#231F20" stroke="#231F20" stroke-width="0.08">10<tspan font-size="5.84" dy="-3.3">−3</tspan></text>
<line x1="402.40" y1="285.40" x2="405.60" y2="285.40" stroke="#9a9a9a" stroke-width="0.9"/>
<text transform="translate(399.40,288.50) scale(0.8850,1)" font-size="8.59" text-anchor="end" fill="#231F20" stroke="#231F20" stroke-width="0.08">10<tspan font-size="5.84" dy="-3.3">−4</tspan></text>
<line x1="402.40" y1="303.60" x2="405.60" y2="303.60" stroke="#9a9a9a" stroke-width="0.9"/>
<text transform="translate(399.40,306.70) scale(0.8850,1)" font-size="8.59" text-anchor="end" fill="#231F20" stroke="#231F20" stroke-width="0.08">10<tspan font-size="5.84" dy="-3.3">−5</tspan></text>
<line x1="402.40" y1="321.80" x2="405.60" y2="321.80" stroke="#9a9a9a" stroke-width="0.9"/>
<text transform="translate(399.40,324.60) scale(0.8850,1)" font-size="8.59" text-anchor="end" fill="#231F20" stroke="#231F20" stroke-width="0.08">0</text>
<line x1="426.60" y1="325.00" x2="426.60" y2="327.60" stroke="#9a9a9a" stroke-width="0.9"/>
<text transform="translate(428.60,336.20) rotate(-45) scale(0.8850,1)" font-size="8.81" text-anchor="end" fill="#231F20" stroke="#231F20" stroke-width="0.08">Duplex</text>
<text transform="translate(424.20,256.40) scale(0.8850,1)" font-size="10.17" text-anchor="middle" fill="#231F20" stroke="#231F20" stroke-width="0.08">***</text>
<line x1="461.30" y1="325.00" x2="461.30" y2="327.60" stroke="#9a9a9a" stroke-width="0.9"/>
<text transform="translate(463.30,336.20) rotate(-45) scale(0.8850,1)" font-size="8.81" text-anchor="end" fill="#231F20" stroke="#231F20" stroke-width="0.08">Simplex</text>
<text transform="translate(458.90,256.40) scale(0.8850,1)" font-size="10.17" text-anchor="middle" fill="#231F20" stroke="#231F20" stroke-width="0.08">***</text>
<line x1="496.40" y1="325.00" x2="496.40" y2="327.60" stroke="#9a9a9a" stroke-width="0.9"/>
<text transform="translate(498.40,336.20) rotate(-45) scale(0.8850,1)" font-size="8.81" text-anchor="end" fill="#231F20" stroke="#231F20" stroke-width="0.08">Uncorrected</text>
<text transform="translate(494.00,256.40) scale(0.8850,1)" font-size="10.17" text-anchor="middle" fill="#231F20" stroke="#231F20" stroke-width="0.08">***</text>
<path d="M415.60,299.40 C415.53,299.92 415.60,301.48 415.20,302.50 C414.80,303.52 413.97,304.58 413.20,305.50 C412.43,306.42 411.13,307.25 410.60,308.00 C410.07,308.75 409.90,309.33 410.00,310.00 C410.10,310.67 410.53,311.25 411.20,312.00 C411.87,312.75 413.22,313.67 414.00,314.50 C414.78,315.33 415.57,316.17 415.90,317.00 C416.23,317.83 416.15,318.73 416.00,319.50 C415.85,320.27 415.07,321.12 415.00,321.60 C414.93,322.08 414.63,322.27 415.60,322.40 C416.57,322.53 419.83,322.53 420.80,322.40 C421.77,322.27 421.47,322.08 421.40,321.60 C421.33,321.12 420.55,320.27 420.40,319.50 C420.25,318.73 420.17,317.83 420.50,317.00 C420.83,316.17 421.62,315.33 422.40,314.50 C423.18,313.67 424.53,312.75 425.20,312.00 C425.87,311.25 426.30,310.67 426.40,310.00 C426.50,309.33 426.33,308.75 425.80,308.00 C425.27,307.25 423.97,306.42 423.20,305.50 C422.43,304.58 421.60,303.52 421.20,302.50 C420.80,301.48 421.73,299.92 420.80,299.40 C419.87,298.88 416.47,299.40 415.60,299.40 Z" fill="#7ECFCB" stroke="#169E98" stroke-width="0.8"/>
<line x1="418.20" y1="300.50" x2="418.20" y2="321.50" stroke="#fff" stroke-width="0.9"/>
<rect x="416.40" y="306.2" width="3.6" height="6.0" fill="#7ECFCB" stroke="#fff" stroke-width="0.8"/>
<line x1="416.40" y1="309.20" x2="420.00" y2="309.20" stroke="#fff" stroke-width="0.8"/>
<circle cx="416.60" cy="299.80" r="0.9" fill="#169E98" stroke="none" stroke-width="1"/>
<circle cx="419.90" cy="300.00" r="0.9" fill="#169E98" stroke="none" stroke-width="1"/>
<circle cx="416.80" cy="321.80" r="0.9" fill="#169E98" stroke="none" stroke-width="1"/>
<circle cx="419.60" cy="321.80" r="0.9" fill="#169E98" stroke="none" stroke-width="1"/>
<rect x="451.70" y="283.60" width="2.80" height="5.00" fill="#169E98"/>
<circle cx="453.10" cy="284.20" r="1.2" fill="#169E98" stroke="none" stroke-width="1"/>
<path d="M445.10,292.8 C448.10,288.0 458.10,288.0 461.10,292.8 C458.10,297.6 448.10,297.6 445.10,292.8 Z" fill="#7ECFCB" stroke="#169E98" stroke-width="0.9"/>
<rect x="451.00" y="290.6" width="4.2" height="3.6" fill="#fff" stroke="#169E98" stroke-width="0.4"/>
<line x1="453.10" y1="297.30" x2="453.10" y2="321.50" stroke="#169E98" stroke-width="0.9"/>
<circle cx="452.60" cy="300.60" r="1.1" fill="#169E98" stroke="none" stroke-width="1"/>
<circle cx="453.10" cy="297.80" r="0.8" fill="#169E98" stroke="none" stroke-width="1"/>
<circle cx="453.60" cy="321.60" r="1.2" fill="#169E98" stroke="none" stroke-width="1"/>
<circle cx="452.40" cy="320.80" r="0.9" fill="#169E98" stroke="none" stroke-width="1"/>
<path d="M488.00,270.0 Q490.50,274.2 496.2,276.3 Q490.50,278.4 488.00,282.0 Q485.50,278.4 479.6,276.3 Q485.50,274.2 488.00,270.0 Z" fill="#7ECFCB" stroke="#169E98" stroke-width="0.9"/>
<rect x="485.40" y="268.90" width="5.20" height="2.40" fill="#169E98"/>
<rect x="485.20" y="273.0" width="5.6" height="5.6" fill="#fff"/>
<line x1="488.00" y1="281.50" x2="488.00" y2="289.00" stroke="#169E98" stroke-width="1.0"/>
<circle cx="487.60" cy="284.40" r="1.0" fill="#169E98" stroke="none" stroke-width="1"/>
<circle cx="488.40" cy="282.60" r="0.9" fill="#169E98" stroke="none" stroke-width="1"/>
<ellipse cx="488.20" cy="289.5" rx="2.4" ry="1.4" fill="#169E98"/>
<line x1="427.00" y1="321.80" x2="443.70" y2="321.80" stroke="#EE9A52" stroke-width="1.0"/>
<circle cx="432.20" cy="321.60" r="0.85" fill="#EE9A52" stroke="none" stroke-width="1"/>
<circle cx="436.60" cy="318.60" r="0.85" fill="#EE9A52" stroke="none" stroke-width="1"/>
<line x1="435.10" y1="320.60" x2="438.60" y2="320.60" stroke="#EE9A52" stroke-width="0.5"/>
<line x1="462.00" y1="321.80" x2="477.90" y2="321.80" stroke="#EE9A52" stroke-width="1.0"/>
<circle cx="466.00" cy="321.60" r="0.85" fill="#EE9A52" stroke="none" stroke-width="1"/>
<line x1="464.50" y1="320.60" x2="468.00" y2="320.60" stroke="#EE9A52" stroke-width="0.5"/>
<line x1="497.30" y1="321.80" x2="513.10" y2="321.80" stroke="#EE9A52" stroke-width="1.0"/>
<circle cx="499.60" cy="321.60" r="0.85" fill="#EE9A52" stroke="none" stroke-width="1"/>
<circle cx="502.20" cy="317.00" r="0.85" fill="#EE9A52" stroke="none" stroke-width="1"/>
<line x1="500.70" y1="320.60" x2="504.20" y2="320.60" stroke="#EE9A52" stroke-width="0.5"/>
<text transform="translate(523.00,233.40) scale(1.0000,1)" font-size="10.40" fill="#000" stroke="#000" stroke-width="0.08" font-weight="bold">f</text>
<text transform="translate(531.00,285.60) rotate(-90) scale(0.8850,1)" font-size="8.81" text-anchor="middle" fill="#231F20" stroke="#231F20" stroke-width="0.08">Fraction of mutations</text>
<text transform="translate(539.50,285.60) rotate(-90) scale(0.8850,1)" font-size="8.81" text-anchor="middle" fill="#231F20" stroke="#231F20" stroke-width="0.08">with 0 background</text>
<line x1="569.90" y1="247.00" x2="569.90" y2="325.00" stroke="#9a9a9a" stroke-width="0.9"/>
<line x1="569.90" y1="325.00" x2="681.80" y2="325.00" stroke="#9a9a9a" stroke-width="0.9"/>
<line x1="566.70" y1="249.20" x2="569.90" y2="249.20" stroke="#9a9a9a" stroke-width="0.9"/>
<text transform="translate(562.20,252.20) scale(0.8850,1)" font-size="8.59" text-anchor="end" fill="#231F20" stroke="#231F20" stroke-width="0.08">1.00</text>
<line x1="566.70" y1="267.30" x2="569.90" y2="267.30" stroke="#9a9a9a" stroke-width="0.9"/>
<text transform="translate(562.20,270.30) scale(0.8850,1)" font-size="8.59" text-anchor="end" fill="#231F20" stroke="#231F20" stroke-width="0.08">0.75</text>
<line x1="566.70" y1="285.20" x2="569.90" y2="285.20" stroke="#9a9a9a" stroke-width="0.9"/>
<text transform="translate(562.20,288.20) scale(0.8850,1)" font-size="8.59" text-anchor="end" fill="#231F20" stroke="#231F20" stroke-width="0.08">0.50</text>
<line x1="566.70" y1="303.40" x2="569.90" y2="303.40" stroke="#9a9a9a" stroke-width="0.9"/>
<text transform="translate(562.20,306.40) scale(0.8850,1)" font-size="8.59" text-anchor="end" fill="#231F20" stroke="#231F20" stroke-width="0.08">0.25</text>
<line x1="566.70" y1="321.40" x2="569.90" y2="321.40" stroke="#9a9a9a" stroke-width="0.9"/>
<text transform="translate(562.20,324.40) scale(0.8850,1)" font-size="8.59" text-anchor="end" fill="#231F20" stroke="#231F20" stroke-width="0.08">0</text>
<line x1="590.60" y1="325.00" x2="590.60" y2="327.60" stroke="#9a9a9a" stroke-width="0.9"/>
<text transform="translate(592.60,336.20) rotate(-45) scale(0.8850,1)" font-size="8.81" text-anchor="end" fill="#231F20" stroke="#231F20" stroke-width="0.08">Duplex</text>
<rect x="580.90" y="250.64" width="9.00" height="70.76" fill="#169E98"/>
<rect x="591.30" y="249.20" width="9.00" height="72.20" fill="#EFA45F"/>
<line x1="625.40" y1="325.00" x2="625.40" y2="327.60" stroke="#9a9a9a" stroke-width="0.9"/>
<text transform="translate(627.40,336.20) rotate(-45) scale(0.8850,1)" font-size="8.81" text-anchor="end" fill="#231F20" stroke="#231F20" stroke-width="0.08">Simplex</text>
<rect x="615.70" y="255.70" width="9.00" height="65.70" fill="#169E98"/>
<rect x="626.10" y="249.20" width="9.00" height="72.20" fill="#EFA45F"/>
<line x1="660.40" y1="325.00" x2="660.40" y2="327.60" stroke="#9a9a9a" stroke-width="0.9"/>
<text transform="translate(662.40,336.20) rotate(-45) scale(0.8850,1)" font-size="8.81" text-anchor="end" fill="#231F20" stroke="#231F20" stroke-width="0.08">Uncorrected</text>
<rect x="650.70" y="319.23" width="9.00" height="2.17" fill="#169E98"/>
<rect x="661.10" y="249.20" width="9.00" height="72.20" fill="#EFA45F"/>
</svg>
</body></html>
